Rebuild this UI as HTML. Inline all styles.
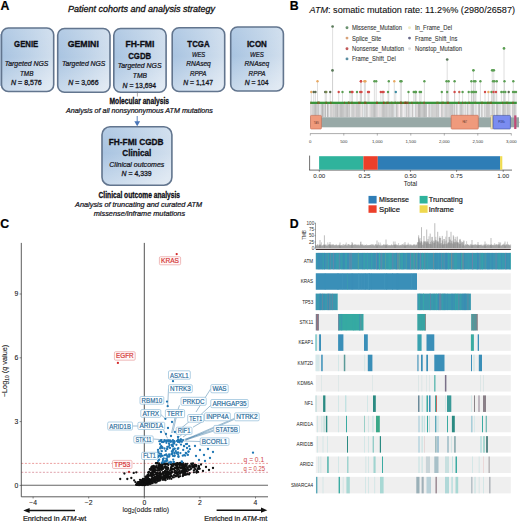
<!DOCTYPE html>
<html><head><meta charset="utf-8"><style>
html,body{margin:0;padding:0;background:#fff;}
body{width:520px;height:522px;overflow:hidden;}
svg{display:block;font-family:"Liberation Sans", sans-serif;}
</style></head><body>
<svg width="520" height="522" viewBox="0 0 520 522">
<rect width="520" height="522" fill="#fff"/>
<defs><linearGradient id="bg" x1="0" y1="0.3" x2="1" y2="0.7"><stop offset="0" stop-color="#a6c2e0"/><stop offset="0.5" stop-color="#bcd1e7"/><stop offset="1" stop-color="#d6e2ef"/></linearGradient><linearGradient id="bv" x1="0" y1="0" x2="0" y2="1"><stop offset="0" stop-color="#fff" stop-opacity="0.18"/><stop offset="0.45" stop-color="#fff" stop-opacity="0"/><stop offset="1" stop-color="#fff" stop-opacity="0.3"/></linearGradient></defs>
<text x="0.4" y="9.5" font-size="12.3" font-weight="bold" font-style="normal" text-anchor="start" fill="#000" stroke="#000" stroke-width="0.2" >A</text>
<text x="141.5" y="12.4" font-size="9.0" font-weight="normal" font-style="italic" text-anchor="middle" fill="#111" textLength="147" lengthAdjust="spacingAndGlyphs" stroke="#111" stroke-width="0.3" >Patient cohorts and analysis strategy</text>
<rect x="0" y="34" width="0.9" height="52" fill="#b4c9e4"/>
<rect x="1.5" y="28.0" width="52.2" height="63.5" rx="6.8" fill="url(#bg)"/>
<rect x="1.5" y="28.0" width="52.2" height="63.5" rx="6.8" fill="url(#bv)" stroke="#62758e" stroke-width="1.6"/>
<rect x="57.7" y="28.5" width="52.3" height="63.7" rx="6.8" fill="url(#bg)"/>
<rect x="57.7" y="28.5" width="52.3" height="63.7" rx="6.8" fill="url(#bv)" stroke="#62758e" stroke-width="1.6"/>
<rect x="113.8" y="28.5" width="52.3" height="63.8" rx="6.8" fill="url(#bg)"/>
<rect x="113.8" y="28.5" width="52.3" height="63.8" rx="6.8" fill="url(#bv)" stroke="#62758e" stroke-width="1.6"/>
<rect x="172.2" y="27.7" width="52.5" height="63.8" rx="6.8" fill="url(#bg)"/>
<rect x="172.2" y="27.7" width="52.5" height="63.8" rx="6.8" fill="url(#bv)" stroke="#62758e" stroke-width="1.6"/>
<rect x="230.7" y="27.0" width="52.7" height="64.0" rx="6.8" fill="url(#bg)"/>
<rect x="230.7" y="27.0" width="52.7" height="64.0" rx="6.8" fill="url(#bv)" stroke="#62758e" stroke-width="1.6"/>
<text x="26.2" y="47.0" font-size="8.7" font-weight="bold" font-style="normal" text-anchor="middle" fill="#0d0d14" textLength="24.2" lengthAdjust="spacingAndGlyphs" stroke="#0d0d14" stroke-width="0.3" >GENIE</text>
<text x="26.5" y="66.2" font-size="7.1" font-weight="normal" font-style="italic" text-anchor="middle" fill="#15151c" textLength="43.7" lengthAdjust="spacingAndGlyphs" stroke="#15151c" stroke-width="0.22" >Targeted NGS</text>
<text x="26.7" y="75.5" font-size="7.1" font-weight="normal" font-style="italic" text-anchor="middle" fill="#15151c" textLength="13.4" lengthAdjust="spacingAndGlyphs" stroke="#15151c" stroke-width="0.22" >TMB</text>
<text x="26.4" y="85.1" font-size="7.1" text-anchor="middle" fill="#15151c" stroke="#15151c" stroke-width="0.28" textLength="30.7" lengthAdjust="spacingAndGlyphs"><tspan font-style="italic">N</tspan> = 8,576</text>
<text x="83.3" y="47.0" font-size="8.7" font-weight="bold" font-style="normal" text-anchor="middle" fill="#0d0d14" textLength="31.2" lengthAdjust="spacingAndGlyphs" stroke="#0d0d14" stroke-width="0.3" >GEMINI</text>
<text x="83.7" y="66.3" font-size="7.1" font-weight="normal" font-style="italic" text-anchor="middle" fill="#15151c" textLength="43.4" lengthAdjust="spacingAndGlyphs" stroke="#15151c" stroke-width="0.22" >Targeted NGS</text>
<text x="83.4" y="84.8" font-size="7.1" text-anchor="middle" fill="#15151c" stroke="#15151c" stroke-width="0.28" textLength="30.3" lengthAdjust="spacingAndGlyphs"><tspan font-style="italic">N</tspan> = 3,066</text>
<text x="139.9" y="47.0" font-size="8.7" font-weight="bold" font-style="normal" text-anchor="middle" fill="#0d0d14" textLength="28.9" lengthAdjust="spacingAndGlyphs" stroke="#0d0d14" stroke-width="0.3" >FH-FMI</text>
<text x="139.7" y="58.6" font-size="8.7" font-weight="bold" font-style="normal" text-anchor="middle" fill="#0d0d14" textLength="23" lengthAdjust="spacingAndGlyphs" stroke="#0d0d14" stroke-width="0.3" >CGDB</text>
<text x="139.6" y="68.3" font-size="7.1" font-weight="normal" font-style="italic" text-anchor="middle" fill="#15151c" textLength="43.8" lengthAdjust="spacingAndGlyphs" stroke="#15151c" stroke-width="0.22" >Targeted NGS</text>
<text x="139.9" y="77.9" font-size="7.1" font-weight="normal" font-style="italic" text-anchor="middle" fill="#15151c" textLength="14.1" lengthAdjust="spacingAndGlyphs" stroke="#15151c" stroke-width="0.22" >TMB</text>
<text x="139.4" y="87.5" font-size="7.1" text-anchor="middle" fill="#15151c" stroke="#15151c" stroke-width="0.28" textLength="33.6" lengthAdjust="spacingAndGlyphs"><tspan font-style="italic">N</tspan> = 13,694</text>
<text x="198.5" y="46.6" font-size="8.7" font-weight="bold" font-style="normal" text-anchor="middle" fill="#0d0d14" textLength="22.3" lengthAdjust="spacingAndGlyphs" stroke="#0d0d14" stroke-width="0.3" >TCGA</text>
<text x="198.6" y="56.7" font-size="7.1" font-weight="normal" font-style="italic" text-anchor="middle" fill="#15151c" textLength="13.4" lengthAdjust="spacingAndGlyphs" stroke="#15151c" stroke-width="0.22" >WES</text>
<text x="198.5" y="66.3" font-size="7.1" font-weight="normal" font-style="italic" text-anchor="middle" fill="#15151c" textLength="24.6" lengthAdjust="spacingAndGlyphs" stroke="#15151c" stroke-width="0.22" >RNAseq</text>
<text x="198.2" y="75.5" font-size="7.1" font-weight="normal" font-style="italic" text-anchor="middle" fill="#15151c" textLength="16.6" lengthAdjust="spacingAndGlyphs" stroke="#15151c" stroke-width="0.22" >RPPA</text>
<text x="198.1" y="84.8" font-size="7.1" text-anchor="middle" fill="#15151c" stroke="#15151c" stroke-width="0.28" textLength="29.8" lengthAdjust="spacingAndGlyphs"><tspan font-style="italic">N</tspan> = 1,147</text>
<text x="256.9" y="46.6" font-size="8.7" font-weight="bold" font-style="normal" text-anchor="middle" fill="#0d0d14" textLength="20" lengthAdjust="spacingAndGlyphs" stroke="#0d0d14" stroke-width="0.3" >ICON</text>
<text x="256.9" y="56.7" font-size="7.1" font-weight="normal" font-style="italic" text-anchor="middle" fill="#15151c" textLength="13.8" lengthAdjust="spacingAndGlyphs" stroke="#15151c" stroke-width="0.22" >WES</text>
<text x="256.9" y="66.3" font-size="7.1" font-weight="normal" font-style="italic" text-anchor="middle" fill="#15151c" textLength="24.6" lengthAdjust="spacingAndGlyphs" stroke="#15151c" stroke-width="0.22" >RNAseq</text>
<text x="257.0" y="75.5" font-size="7.1" font-weight="normal" font-style="italic" text-anchor="middle" fill="#15151c" textLength="16.9" lengthAdjust="spacingAndGlyphs" stroke="#15151c" stroke-width="0.22" >RPPA</text>
<text x="256.6" y="84.8" font-size="7.1" text-anchor="middle" fill="#15151c" stroke="#15151c" stroke-width="0.28" textLength="23.9" lengthAdjust="spacingAndGlyphs"><tspan font-style="italic">N</tspan> = 104</text>
<line x1="137.4" y1="91.5" x2="137.4" y2="96.5" stroke="#777" stroke-width="0.6"/>
<text x="139.3" y="103.8" font-size="8.4" font-weight="bold" font-style="normal" text-anchor="middle" fill="#0d0d14" textLength="59.5" lengthAdjust="spacingAndGlyphs" stroke="#0d0d14" stroke-width="0.3" >Molecular analysis</text>
<text x="139.4" y="113.3" font-size="7.1" font-weight="normal" font-style="italic" text-anchor="middle" fill="#15151c" textLength="147" lengthAdjust="spacingAndGlyphs" stroke="#15151c" stroke-width="0.22" >Analysis of all nonsynonymous <tspan font-style="italic">ATM</tspan> mutations</text>
<line x1="137.2" y1="116" x2="137.2" y2="122" stroke="#4a76b8" stroke-width="0.9"/>
<path d="M134.3 121.3 L140.1 121.3 L137.2 126.3 Z" fill="#4a76b8"/>
<rect x="102" y="126.8" width="69.9" height="58.4" rx="8" fill="url(#bg)"/>
<rect x="102" y="126.8" width="69.9" height="58.4" rx="8" fill="url(#bv)" stroke="#62758e" stroke-width="1.6"/>
<text x="136.2" y="145.2" font-size="9" font-weight="bold" font-style="normal" text-anchor="middle" fill="#0d0d14" textLength="54.8" lengthAdjust="spacingAndGlyphs" stroke="#0d0d14" stroke-width="0.3" >FH-FMI CGDB</text>
<text x="136.8" y="156.39999999999998" font-size="9" font-weight="bold" font-style="normal" text-anchor="middle" fill="#0d0d14" textLength="29" lengthAdjust="spacingAndGlyphs" stroke="#0d0d14" stroke-width="0.3" >Clinical</text>
<text x="136.8" y="167.1" font-size="7.1" font-weight="normal" font-style="italic" text-anchor="middle" fill="#15151c" textLength="55" lengthAdjust="spacingAndGlyphs" stroke="#15151c" stroke-width="0.22" >Clinical outcomes</text>
<text x="136.6" y="176.1" font-size="7.1" text-anchor="middle" fill="#15151c" stroke="#15151c" stroke-width="0.28" textLength="30" lengthAdjust="spacingAndGlyphs"><tspan font-style="italic">N</tspan> = 4,339</text>
<text x="139.3" y="198.39999999999998" font-size="8.4" font-weight="bold" font-style="normal" text-anchor="middle" fill="#0d0d14" textLength="81.5" lengthAdjust="spacingAndGlyphs" stroke="#0d0d14" stroke-width="0.3" >Clinical outcome analysis</text>
<text x="138.6" y="207.3" font-size="7.1" font-weight="normal" font-style="italic" text-anchor="middle" fill="#15151c" textLength="127" lengthAdjust="spacingAndGlyphs" stroke="#15151c" stroke-width="0.22" >Analysis of truncating and curated <tspan font-style="italic">ATM</tspan></text>
<text x="139.4" y="215.8" font-size="7.1" font-weight="normal" font-style="italic" text-anchor="middle" fill="#15151c" textLength="91.3" lengthAdjust="spacingAndGlyphs" stroke="#15151c" stroke-width="0.22" >missense/inframe mutations</text>
<text x="289.7" y="9.7" font-size="12.3" font-weight="bold" font-style="normal" text-anchor="start" fill="#000" stroke="#000" stroke-width="0.2" >B</text>
<text x="309.5" y="12.7" font-size="8.7" fill="#111" stroke="#111" stroke-width="0.1" textLength="205.5" lengthAdjust="spacingAndGlyphs"><tspan font-style="italic">ATM</tspan>: somatic mutation rate: 11.2%% (2980/26587)</text>
<circle cx="347" cy="27.7" r="1.45" fill="#6a9270"/>
<text x="352" y="30.099999999999998" font-size="6.8" font-weight="normal" font-style="normal" text-anchor="start" fill="#333" textLength="50" lengthAdjust="spacingAndGlyphs" stroke="#333" stroke-width="0.08" >Missense_Mutation</text>
<circle cx="347" cy="38.1" r="1.45" fill="#d8a27a"/>
<text x="352" y="40.5" font-size="6.8" font-weight="normal" font-style="normal" text-anchor="start" fill="#333" textLength="29.3" lengthAdjust="spacingAndGlyphs" stroke="#333" stroke-width="0.08" >Splice_Site</text>
<circle cx="347" cy="48.7" r="1.45" fill="#c25a5a"/>
<text x="352" y="51.1" font-size="6.8" font-weight="normal" font-style="normal" text-anchor="start" fill="#333" textLength="52" lengthAdjust="spacingAndGlyphs" stroke="#333" stroke-width="0.08" >Nonsense_Mutation</text>
<circle cx="347" cy="58.9" r="1.45" fill="#5a8ea2"/>
<text x="352" y="61.3" font-size="6.8" font-weight="normal" font-style="normal" text-anchor="start" fill="#333" textLength="43.8" lengthAdjust="spacingAndGlyphs" stroke="#333" stroke-width="0.08" >Frame_Shift_Del</text>
<circle cx="409.5" cy="27.7" r="1.45" fill="#f0ecc4"/>
<text x="415" y="30.099999999999998" font-size="6.8" font-weight="normal" font-style="normal" text-anchor="start" fill="#333" textLength="37" lengthAdjust="spacingAndGlyphs" stroke="#333" stroke-width="0.08" >In_Frame_Del</text>
<circle cx="409.5" cy="38.1" r="1.45" fill="#6a6a8a"/>
<text x="415" y="40.5" font-size="6.8" font-weight="normal" font-style="normal" text-anchor="start" fill="#333" textLength="42.3" lengthAdjust="spacingAndGlyphs" stroke="#333" stroke-width="0.08" >Frame_Shift_Ins</text>
<circle cx="409.5" cy="48.7" r="1.45" fill="#e0e0e0"/>
<text x="415" y="51.1" font-size="6.8" font-weight="normal" font-style="normal" text-anchor="start" fill="#333" textLength="47" lengthAdjust="spacingAndGlyphs" stroke="#333" stroke-width="0.08" >Nonstop_Mutation</text>
<rect x="310.5" y="103.5" width="206" height="13.8" fill="#d2d2d2"/>
<line x1="377.2" y1="103.5" x2="377.2" y2="117.2" stroke="#a8a8a8" stroke-width="0.5" stroke-opacity="0.31"/>
<line x1="444.6" y1="103.5" x2="444.6" y2="117.2" stroke="#a8a8a8" stroke-width="0.5" stroke-opacity="0.28"/>
<line x1="420.9" y1="103.5" x2="420.9" y2="117.2" stroke="#a8a8a8" stroke-width="0.5" stroke-opacity="0.40"/>
<line x1="322.4" y1="103.5" x2="322.4" y2="117.2" stroke="#a8a8a8" stroke-width="0.5" stroke-opacity="0.45"/>
<line x1="318.2" y1="103.5" x2="318.2" y2="117.2" stroke="#a8a8a8" stroke-width="0.5" stroke-opacity="0.42"/>
<line x1="324.9" y1="103.5" x2="324.9" y2="117.2" stroke="#a8a8a8" stroke-width="0.5" stroke-opacity="0.29"/>
<line x1="398.0" y1="103.5" x2="398.0" y2="117.2" stroke="#a8a8a8" stroke-width="0.5" stroke-opacity="0.58"/>
<line x1="336.0" y1="103.5" x2="336.0" y2="117.2" stroke="#a8a8a8" stroke-width="0.5" stroke-opacity="0.34"/>
<line x1="439.8" y1="103.5" x2="439.8" y2="117.2" stroke="#a8a8a8" stroke-width="0.5" stroke-opacity="0.63"/>
<line x1="429.4" y1="103.5" x2="429.4" y2="117.2" stroke="#a8a8a8" stroke-width="0.5" stroke-opacity="0.41"/>
<line x1="511.6" y1="103.5" x2="511.6" y2="117.2" stroke="#a8a8a8" stroke-width="0.5" stroke-opacity="0.27"/>
<line x1="487.3" y1="103.5" x2="487.3" y2="117.2" stroke="#a8a8a8" stroke-width="0.5" stroke-opacity="0.37"/>
<line x1="340.2" y1="103.5" x2="340.2" y2="117.2" stroke="#a8a8a8" stroke-width="0.5" stroke-opacity="0.30"/>
<line x1="374.0" y1="103.5" x2="374.0" y2="117.2" stroke="#a8a8a8" stroke-width="0.5" stroke-opacity="0.58"/>
<line x1="347.7" y1="103.5" x2="347.7" y2="117.2" stroke="#a8a8a8" stroke-width="0.5" stroke-opacity="0.48"/>
<line x1="442.1" y1="103.5" x2="442.1" y2="117.2" stroke="#a8a8a8" stroke-width="0.5" stroke-opacity="0.40"/>
<line x1="423.3" y1="103.5" x2="423.3" y2="117.2" stroke="#a8a8a8" stroke-width="0.5" stroke-opacity="0.28"/>
<line x1="322.8" y1="103.5" x2="322.8" y2="117.2" stroke="#a8a8a8" stroke-width="0.5" stroke-opacity="0.33"/>
<line x1="450.7" y1="103.5" x2="450.7" y2="117.2" stroke="#a8a8a8" stroke-width="0.5" stroke-opacity="0.42"/>
<line x1="375.2" y1="103.5" x2="375.2" y2="117.2" stroke="#a8a8a8" stroke-width="0.5" stroke-opacity="0.48"/>
<line x1="403.9" y1="103.5" x2="403.9" y2="117.2" stroke="#a8a8a8" stroke-width="0.5" stroke-opacity="0.37"/>
<line x1="474.1" y1="103.5" x2="474.1" y2="117.2" stroke="#a8a8a8" stroke-width="0.5" stroke-opacity="0.53"/>
<line x1="360.8" y1="103.5" x2="360.8" y2="117.2" stroke="#a8a8a8" stroke-width="0.5" stroke-opacity="0.48"/>
<line x1="418.7" y1="103.5" x2="418.7" y2="117.2" stroke="#a8a8a8" stroke-width="0.5" stroke-opacity="0.60"/>
<line x1="460.8" y1="103.5" x2="460.8" y2="117.2" stroke="#a8a8a8" stroke-width="0.5" stroke-opacity="0.37"/>
<line x1="512.4" y1="103.5" x2="512.4" y2="117.2" stroke="#a8a8a8" stroke-width="0.5" stroke-opacity="0.30"/>
<line x1="396.6" y1="103.5" x2="396.6" y2="117.2" stroke="#a8a8a8" stroke-width="0.5" stroke-opacity="0.55"/>
<line x1="341.8" y1="103.5" x2="341.8" y2="117.2" stroke="#a8a8a8" stroke-width="0.5" stroke-opacity="0.45"/>
<line x1="318.6" y1="103.5" x2="318.6" y2="117.2" stroke="#a8a8a8" stroke-width="0.5" stroke-opacity="0.52"/>
<line x1="468.0" y1="103.5" x2="468.0" y2="117.2" stroke="#a8a8a8" stroke-width="0.5" stroke-opacity="0.48"/>
<line x1="490.8" y1="103.5" x2="490.8" y2="117.2" stroke="#a8a8a8" stroke-width="0.5" stroke-opacity="0.38"/>
<line x1="453.7" y1="103.5" x2="453.7" y2="117.2" stroke="#a8a8a8" stroke-width="0.5" stroke-opacity="0.49"/>
<line x1="430.0" y1="103.5" x2="430.0" y2="117.2" stroke="#a8a8a8" stroke-width="0.5" stroke-opacity="0.43"/>
<line x1="483.5" y1="103.5" x2="483.5" y2="117.2" stroke="#a8a8a8" stroke-width="0.5" stroke-opacity="0.63"/>
<line x1="408.2" y1="103.5" x2="408.2" y2="117.2" stroke="#a8a8a8" stroke-width="0.5" stroke-opacity="0.52"/>
<line x1="323.0" y1="103.5" x2="323.0" y2="117.2" stroke="#a8a8a8" stroke-width="0.5" stroke-opacity="0.53"/>
<line x1="443.8" y1="103.5" x2="443.8" y2="117.2" stroke="#a8a8a8" stroke-width="0.5" stroke-opacity="0.65"/>
<line x1="479.8" y1="103.5" x2="479.8" y2="117.2" stroke="#a8a8a8" stroke-width="0.5" stroke-opacity="0.36"/>
<line x1="390.0" y1="103.5" x2="390.0" y2="117.2" stroke="#a8a8a8" stroke-width="0.5" stroke-opacity="0.52"/>
<line x1="315.1" y1="103.5" x2="315.1" y2="117.2" stroke="#a8a8a8" stroke-width="0.5" stroke-opacity="0.43"/>
<line x1="345.1" y1="103.5" x2="345.1" y2="117.2" stroke="#a8a8a8" stroke-width="0.5" stroke-opacity="0.30"/>
<line x1="322.6" y1="103.5" x2="322.6" y2="117.2" stroke="#a8a8a8" stroke-width="0.5" stroke-opacity="0.56"/>
<line x1="337.1" y1="103.5" x2="337.1" y2="117.2" stroke="#a8a8a8" stroke-width="0.5" stroke-opacity="0.35"/>
<line x1="391.0" y1="103.5" x2="391.0" y2="117.2" stroke="#a8a8a8" stroke-width="0.5" stroke-opacity="0.60"/>
<line x1="327.1" y1="103.5" x2="327.1" y2="117.2" stroke="#a8a8a8" stroke-width="0.5" stroke-opacity="0.43"/>
<line x1="423.7" y1="103.5" x2="423.7" y2="117.2" stroke="#a8a8a8" stroke-width="0.5" stroke-opacity="0.60"/>
<line x1="479.3" y1="103.5" x2="479.3" y2="117.2" stroke="#a8a8a8" stroke-width="0.5" stroke-opacity="0.60"/>
<line x1="367.9" y1="103.5" x2="367.9" y2="117.2" stroke="#a8a8a8" stroke-width="0.5" stroke-opacity="0.42"/>
<line x1="384.4" y1="103.5" x2="384.4" y2="117.2" stroke="#a8a8a8" stroke-width="0.5" stroke-opacity="0.60"/>
<line x1="507.8" y1="103.5" x2="507.8" y2="117.2" stroke="#a8a8a8" stroke-width="0.5" stroke-opacity="0.31"/>
<line x1="346.8" y1="103.5" x2="346.8" y2="117.2" stroke="#a8a8a8" stroke-width="0.5" stroke-opacity="0.34"/>
<line x1="358.6" y1="103.5" x2="358.6" y2="117.2" stroke="#a8a8a8" stroke-width="0.5" stroke-opacity="0.44"/>
<line x1="431.9" y1="103.5" x2="431.9" y2="117.2" stroke="#a8a8a8" stroke-width="0.5" stroke-opacity="0.36"/>
<line x1="311.3" y1="103.5" x2="311.3" y2="117.2" stroke="#a8a8a8" stroke-width="0.5" stroke-opacity="0.42"/>
<line x1="386.6" y1="103.5" x2="386.6" y2="117.2" stroke="#a8a8a8" stroke-width="0.5" stroke-opacity="0.48"/>
<line x1="506.8" y1="103.5" x2="506.8" y2="117.2" stroke="#a8a8a8" stroke-width="0.5" stroke-opacity="0.53"/>
<line x1="416.7" y1="103.5" x2="416.7" y2="117.2" stroke="#a8a8a8" stroke-width="0.5" stroke-opacity="0.50"/>
<line x1="449.8" y1="103.5" x2="449.8" y2="117.2" stroke="#a8a8a8" stroke-width="0.5" stroke-opacity="0.27"/>
<line x1="495.8" y1="103.5" x2="495.8" y2="117.2" stroke="#a8a8a8" stroke-width="0.5" stroke-opacity="0.56"/>
<line x1="490.6" y1="103.5" x2="490.6" y2="117.2" stroke="#a8a8a8" stroke-width="0.5" stroke-opacity="0.57"/>
<line x1="391.3" y1="103.5" x2="391.3" y2="117.2" stroke="#a8a8a8" stroke-width="0.5" stroke-opacity="0.41"/>
<line x1="331.8" y1="103.5" x2="331.8" y2="117.2" stroke="#a8a8a8" stroke-width="0.5" stroke-opacity="0.50"/>
<line x1="323.3" y1="103.5" x2="323.3" y2="117.2" stroke="#a8a8a8" stroke-width="0.5" stroke-opacity="0.28"/>
<line x1="353.5" y1="103.5" x2="353.5" y2="117.2" stroke="#a8a8a8" stroke-width="0.5" stroke-opacity="0.31"/>
<line x1="380.6" y1="103.5" x2="380.6" y2="117.2" stroke="#a8a8a8" stroke-width="0.5" stroke-opacity="0.27"/>
<line x1="310.5" y1="103.5" x2="310.5" y2="117.2" stroke="#a8a8a8" stroke-width="0.5" stroke-opacity="0.31"/>
<line x1="331.4" y1="103.5" x2="331.4" y2="117.2" stroke="#a8a8a8" stroke-width="0.5" stroke-opacity="0.40"/>
<line x1="315.8" y1="103.5" x2="315.8" y2="117.2" stroke="#a8a8a8" stroke-width="0.5" stroke-opacity="0.60"/>
<line x1="437.0" y1="103.5" x2="437.0" y2="117.2" stroke="#a8a8a8" stroke-width="0.5" stroke-opacity="0.31"/>
<line x1="362.5" y1="103.5" x2="362.5" y2="117.2" stroke="#a8a8a8" stroke-width="0.5" stroke-opacity="0.39"/>
<line x1="385.5" y1="103.5" x2="385.5" y2="117.2" stroke="#a8a8a8" stroke-width="0.5" stroke-opacity="0.30"/>
<line x1="485.4" y1="103.5" x2="485.4" y2="117.2" stroke="#a8a8a8" stroke-width="0.5" stroke-opacity="0.65"/>
<line x1="406.5" y1="103.5" x2="406.5" y2="117.2" stroke="#a8a8a8" stroke-width="0.5" stroke-opacity="0.44"/>
<line x1="328.2" y1="103.5" x2="328.2" y2="117.2" stroke="#a8a8a8" stroke-width="0.5" stroke-opacity="0.29"/>
<line x1="381.1" y1="103.5" x2="381.1" y2="117.2" stroke="#a8a8a8" stroke-width="0.5" stroke-opacity="0.36"/>
<line x1="481.2" y1="103.5" x2="481.2" y2="117.2" stroke="#a8a8a8" stroke-width="0.5" stroke-opacity="0.31"/>
<line x1="315.3" y1="103.5" x2="315.3" y2="117.2" stroke="#a8a8a8" stroke-width="0.5" stroke-opacity="0.63"/>
<line x1="419.3" y1="103.5" x2="419.3" y2="117.2" stroke="#a8a8a8" stroke-width="0.5" stroke-opacity="0.31"/>
<line x1="422.4" y1="103.5" x2="422.4" y2="117.2" stroke="#a8a8a8" stroke-width="0.5" stroke-opacity="0.26"/>
<line x1="419.3" y1="103.5" x2="419.3" y2="117.2" stroke="#a8a8a8" stroke-width="0.5" stroke-opacity="0.64"/>
<line x1="488.3" y1="103.5" x2="488.3" y2="117.2" stroke="#a8a8a8" stroke-width="0.5" stroke-opacity="0.53"/>
<line x1="364.3" y1="103.5" x2="364.3" y2="117.2" stroke="#a8a8a8" stroke-width="0.5" stroke-opacity="0.40"/>
<line x1="344.9" y1="103.5" x2="344.9" y2="117.2" stroke="#a8a8a8" stroke-width="0.5" stroke-opacity="0.56"/>
<line x1="420.2" y1="103.5" x2="420.2" y2="117.2" stroke="#a8a8a8" stroke-width="0.5" stroke-opacity="0.56"/>
<line x1="378.4" y1="103.5" x2="378.4" y2="117.2" stroke="#a8a8a8" stroke-width="0.5" stroke-opacity="0.34"/>
<line x1="477.7" y1="103.5" x2="477.7" y2="117.2" stroke="#a8a8a8" stroke-width="0.5" stroke-opacity="0.64"/>
<line x1="486.1" y1="103.5" x2="486.1" y2="117.2" stroke="#a8a8a8" stroke-width="0.5" stroke-opacity="0.57"/>
<line x1="479.1" y1="103.5" x2="479.1" y2="117.2" stroke="#a8a8a8" stroke-width="0.5" stroke-opacity="0.55"/>
<line x1="357.2" y1="103.5" x2="357.2" y2="117.2" stroke="#a8a8a8" stroke-width="0.5" stroke-opacity="0.46"/>
<line x1="383.7" y1="103.5" x2="383.7" y2="117.2" stroke="#a8a8a8" stroke-width="0.5" stroke-opacity="0.26"/>
<line x1="316.3" y1="103.5" x2="316.3" y2="117.2" stroke="#a8a8a8" stroke-width="0.5" stroke-opacity="0.36"/>
<line x1="363.9" y1="103.5" x2="363.9" y2="117.2" stroke="#a8a8a8" stroke-width="0.5" stroke-opacity="0.53"/>
<line x1="507.5" y1="103.5" x2="507.5" y2="117.2" stroke="#a8a8a8" stroke-width="0.5" stroke-opacity="0.43"/>
<line x1="503.5" y1="103.5" x2="503.5" y2="117.2" stroke="#a8a8a8" stroke-width="0.5" stroke-opacity="0.65"/>
<line x1="507.2" y1="103.5" x2="507.2" y2="117.2" stroke="#a8a8a8" stroke-width="0.5" stroke-opacity="0.40"/>
<line x1="355.9" y1="103.5" x2="355.9" y2="117.2" stroke="#a8a8a8" stroke-width="0.5" stroke-opacity="0.34"/>
<line x1="351.0" y1="103.5" x2="351.0" y2="117.2" stroke="#a8a8a8" stroke-width="0.5" stroke-opacity="0.33"/>
<line x1="439.1" y1="103.5" x2="439.1" y2="117.2" stroke="#a8a8a8" stroke-width="0.5" stroke-opacity="0.61"/>
<line x1="483.6" y1="103.5" x2="483.6" y2="117.2" stroke="#a8a8a8" stroke-width="0.5" stroke-opacity="0.44"/>
<line x1="445.0" y1="103.5" x2="445.0" y2="117.2" stroke="#a8a8a8" stroke-width="0.5" stroke-opacity="0.57"/>
<line x1="328.0" y1="103.5" x2="328.0" y2="117.2" stroke="#a8a8a8" stroke-width="0.5" stroke-opacity="0.51"/>
<line x1="497.9" y1="103.5" x2="497.9" y2="117.2" stroke="#a8a8a8" stroke-width="0.5" stroke-opacity="0.56"/>
<line x1="465.0" y1="103.5" x2="465.0" y2="117.2" stroke="#a8a8a8" stroke-width="0.5" stroke-opacity="0.44"/>
<line x1="347.3" y1="103.5" x2="347.3" y2="117.2" stroke="#a8a8a8" stroke-width="0.5" stroke-opacity="0.57"/>
<line x1="379.0" y1="103.5" x2="379.0" y2="117.2" stroke="#a8a8a8" stroke-width="0.5" stroke-opacity="0.57"/>
<line x1="510.7" y1="103.5" x2="510.7" y2="117.2" stroke="#a8a8a8" stroke-width="0.5" stroke-opacity="0.41"/>
<line x1="393.2" y1="103.5" x2="393.2" y2="117.2" stroke="#a8a8a8" stroke-width="0.5" stroke-opacity="0.63"/>
<line x1="459.8" y1="103.5" x2="459.8" y2="117.2" stroke="#a8a8a8" stroke-width="0.5" stroke-opacity="0.32"/>
<line x1="336.7" y1="103.5" x2="336.7" y2="117.2" stroke="#a8a8a8" stroke-width="0.5" stroke-opacity="0.31"/>
<line x1="496.9" y1="103.5" x2="496.9" y2="117.2" stroke="#a8a8a8" stroke-width="0.5" stroke-opacity="0.57"/>
<line x1="340.6" y1="103.5" x2="340.6" y2="117.2" stroke="#a8a8a8" stroke-width="0.5" stroke-opacity="0.58"/>
<line x1="512.4" y1="103.5" x2="512.4" y2="117.2" stroke="#a8a8a8" stroke-width="0.5" stroke-opacity="0.51"/>
<line x1="382.7" y1="103.5" x2="382.7" y2="117.2" stroke="#a8a8a8" stroke-width="0.5" stroke-opacity="0.47"/>
<line x1="337.5" y1="103.5" x2="337.5" y2="117.2" stroke="#a8a8a8" stroke-width="0.5" stroke-opacity="0.26"/>
<line x1="510.5" y1="103.5" x2="510.5" y2="117.2" stroke="#a8a8a8" stroke-width="0.5" stroke-opacity="0.51"/>
<line x1="419.0" y1="103.5" x2="419.0" y2="117.2" stroke="#a8a8a8" stroke-width="0.5" stroke-opacity="0.62"/>
<line x1="399.9" y1="103.5" x2="399.9" y2="117.2" stroke="#a8a8a8" stroke-width="0.5" stroke-opacity="0.60"/>
<line x1="480.7" y1="103.5" x2="480.7" y2="117.2" stroke="#a8a8a8" stroke-width="0.5" stroke-opacity="0.33"/>
<line x1="362.4" y1="103.5" x2="362.4" y2="117.2" stroke="#a8a8a8" stroke-width="0.5" stroke-opacity="0.37"/>
<line x1="360.1" y1="103.5" x2="360.1" y2="117.2" stroke="#a8a8a8" stroke-width="0.5" stroke-opacity="0.48"/>
<line x1="363.9" y1="103.5" x2="363.9" y2="117.2" stroke="#a8a8a8" stroke-width="0.5" stroke-opacity="0.42"/>
<line x1="337.5" y1="103.5" x2="337.5" y2="117.2" stroke="#a8a8a8" stroke-width="0.5" stroke-opacity="0.61"/>
<line x1="383.4" y1="103.5" x2="383.4" y2="117.2" stroke="#a8a8a8" stroke-width="0.5" stroke-opacity="0.43"/>
<line x1="430.7" y1="103.5" x2="430.7" y2="117.2" stroke="#a8a8a8" stroke-width="0.5" stroke-opacity="0.61"/>
<line x1="397.1" y1="103.5" x2="397.1" y2="117.2" stroke="#a8a8a8" stroke-width="0.5" stroke-opacity="0.62"/>
<line x1="413.8" y1="103.5" x2="413.8" y2="117.2" stroke="#a8a8a8" stroke-width="0.5" stroke-opacity="0.46"/>
<line x1="418.3" y1="103.5" x2="418.3" y2="117.2" stroke="#a8a8a8" stroke-width="0.5" stroke-opacity="0.26"/>
<line x1="401.2" y1="103.5" x2="401.2" y2="117.2" stroke="#a8a8a8" stroke-width="0.5" stroke-opacity="0.32"/>
<line x1="311.3" y1="103.5" x2="311.3" y2="117.2" stroke="#a8a8a8" stroke-width="0.5" stroke-opacity="0.57"/>
<line x1="346.0" y1="103.5" x2="346.0" y2="117.2" stroke="#a8a8a8" stroke-width="0.5" stroke-opacity="0.44"/>
<line x1="459.9" y1="103.5" x2="459.9" y2="117.2" stroke="#a8a8a8" stroke-width="0.5" stroke-opacity="0.47"/>
<line x1="377.7" y1="103.5" x2="377.7" y2="117.2" stroke="#a8a8a8" stroke-width="0.5" stroke-opacity="0.46"/>
<line x1="424.9" y1="103.5" x2="424.9" y2="117.2" stroke="#a8a8a8" stroke-width="0.5" stroke-opacity="0.56"/>
<line x1="332.4" y1="103.5" x2="332.4" y2="117.2" stroke="#a8a8a8" stroke-width="0.5" stroke-opacity="0.47"/>
<line x1="361.7" y1="103.5" x2="361.7" y2="117.2" stroke="#a8a8a8" stroke-width="0.5" stroke-opacity="0.36"/>
<line x1="469.6" y1="103.5" x2="469.6" y2="117.2" stroke="#a8a8a8" stroke-width="0.5" stroke-opacity="0.45"/>
<line x1="426.2" y1="103.5" x2="426.2" y2="117.2" stroke="#a8a8a8" stroke-width="0.5" stroke-opacity="0.55"/>
<line x1="498.5" y1="103.5" x2="498.5" y2="117.2" stroke="#a8a8a8" stroke-width="0.5" stroke-opacity="0.43"/>
<line x1="436.7" y1="103.5" x2="436.7" y2="117.2" stroke="#a8a8a8" stroke-width="0.5" stroke-opacity="0.45"/>
<line x1="416.0" y1="103.5" x2="416.0" y2="117.2" stroke="#a8a8a8" stroke-width="0.5" stroke-opacity="0.53"/>
<line x1="403.7" y1="103.5" x2="403.7" y2="117.2" stroke="#a8a8a8" stroke-width="0.5" stroke-opacity="0.46"/>
<line x1="409.0" y1="103.5" x2="409.0" y2="117.2" stroke="#a8a8a8" stroke-width="0.5" stroke-opacity="0.63"/>
<line x1="454.5" y1="103.5" x2="454.5" y2="117.2" stroke="#a8a8a8" stroke-width="0.5" stroke-opacity="0.60"/>
<line x1="504.6" y1="103.5" x2="504.6" y2="117.2" stroke="#a8a8a8" stroke-width="0.5" stroke-opacity="0.35"/>
<line x1="425.8" y1="103.5" x2="425.8" y2="117.2" stroke="#a8a8a8" stroke-width="0.5" stroke-opacity="0.63"/>
<line x1="483.5" y1="103.5" x2="483.5" y2="117.2" stroke="#a8a8a8" stroke-width="0.5" stroke-opacity="0.30"/>
<line x1="335.6" y1="103.5" x2="335.6" y2="117.2" stroke="#a8a8a8" stroke-width="0.5" stroke-opacity="0.43"/>
<line x1="325.4" y1="103.5" x2="325.4" y2="117.2" stroke="#a8a8a8" stroke-width="0.5" stroke-opacity="0.35"/>
<line x1="325.6" y1="103.5" x2="325.6" y2="117.2" stroke="#a8a8a8" stroke-width="0.5" stroke-opacity="0.52"/>
<line x1="472.0" y1="103.5" x2="472.0" y2="117.2" stroke="#a8a8a8" stroke-width="0.5" stroke-opacity="0.61"/>
<line x1="342.3" y1="103.5" x2="342.3" y2="117.2" stroke="#a8a8a8" stroke-width="0.5" stroke-opacity="0.54"/>
<line x1="446.5" y1="103.5" x2="446.5" y2="117.2" stroke="#a8a8a8" stroke-width="0.5" stroke-opacity="0.31"/>
<line x1="492.4" y1="103.5" x2="492.4" y2="117.2" stroke="#a8a8a8" stroke-width="0.5" stroke-opacity="0.64"/>
<line x1="355.7" y1="103.5" x2="355.7" y2="117.2" stroke="#a8a8a8" stroke-width="0.5" stroke-opacity="0.63"/>
<line x1="392.5" y1="103.5" x2="392.5" y2="117.2" stroke="#a8a8a8" stroke-width="0.5" stroke-opacity="0.44"/>
<line x1="514.4" y1="103.5" x2="514.4" y2="117.2" stroke="#a8a8a8" stroke-width="0.5" stroke-opacity="0.58"/>
<line x1="343.8" y1="103.5" x2="343.8" y2="117.2" stroke="#a8a8a8" stroke-width="0.5" stroke-opacity="0.42"/>
<line x1="416.7" y1="103.5" x2="416.7" y2="117.2" stroke="#a8a8a8" stroke-width="0.5" stroke-opacity="0.39"/>
<line x1="350.8" y1="103.5" x2="350.8" y2="117.2" stroke="#a8a8a8" stroke-width="0.5" stroke-opacity="0.38"/>
<line x1="459.3" y1="103.5" x2="459.3" y2="117.2" stroke="#a8a8a8" stroke-width="0.5" stroke-opacity="0.26"/>
<line x1="424.6" y1="103.5" x2="424.6" y2="117.2" stroke="#a8a8a8" stroke-width="0.5" stroke-opacity="0.43"/>
<line x1="314.2" y1="103.5" x2="314.2" y2="117.2" stroke="#a8a8a8" stroke-width="0.5" stroke-opacity="0.38"/>
<line x1="439.0" y1="103.5" x2="439.0" y2="117.2" stroke="#a8a8a8" stroke-width="0.5" stroke-opacity="0.45"/>
<line x1="323.7" y1="103.5" x2="323.7" y2="117.2" stroke="#a8a8a8" stroke-width="0.5" stroke-opacity="0.64"/>
<line x1="472.9" y1="103.5" x2="472.9" y2="117.2" stroke="#a8a8a8" stroke-width="0.5" stroke-opacity="0.64"/>
<line x1="332.1" y1="103.5" x2="332.1" y2="117.2" stroke="#a8a8a8" stroke-width="0.5" stroke-opacity="0.36"/>
<line x1="318.7" y1="103.5" x2="318.7" y2="117.2" stroke="#a8a8a8" stroke-width="0.5" stroke-opacity="0.56"/>
<line x1="366.2" y1="103.5" x2="366.2" y2="117.2" stroke="#a8a8a8" stroke-width="0.5" stroke-opacity="0.30"/>
<line x1="397.5" y1="103.5" x2="397.5" y2="117.2" stroke="#a8a8a8" stroke-width="0.5" stroke-opacity="0.61"/>
<line x1="479.2" y1="103.5" x2="479.2" y2="117.2" stroke="#a8a8a8" stroke-width="0.5" stroke-opacity="0.35"/>
<line x1="341.3" y1="103.5" x2="341.3" y2="117.2" stroke="#a8a8a8" stroke-width="0.5" stroke-opacity="0.62"/>
<line x1="428.0" y1="103.5" x2="428.0" y2="117.2" stroke="#a8a8a8" stroke-width="0.5" stroke-opacity="0.53"/>
<line x1="328.9" y1="103.5" x2="328.9" y2="117.2" stroke="#a8a8a8" stroke-width="0.5" stroke-opacity="0.27"/>
<line x1="452.3" y1="103.5" x2="452.3" y2="117.2" stroke="#a8a8a8" stroke-width="0.5" stroke-opacity="0.42"/>
<line x1="325.4" y1="103.5" x2="325.4" y2="117.2" stroke="#a8a8a8" stroke-width="0.5" stroke-opacity="0.63"/>
<line x1="441.2" y1="103.5" x2="441.2" y2="117.2" stroke="#a8a8a8" stroke-width="0.5" stroke-opacity="0.57"/>
<line x1="327.8" y1="103.5" x2="327.8" y2="117.2" stroke="#a8a8a8" stroke-width="0.5" stroke-opacity="0.59"/>
<line x1="324.2" y1="103.5" x2="324.2" y2="117.2" stroke="#a8a8a8" stroke-width="0.5" stroke-opacity="0.60"/>
<line x1="404.0" y1="103.5" x2="404.0" y2="117.2" stroke="#a8a8a8" stroke-width="0.5" stroke-opacity="0.39"/>
<line x1="424.4" y1="103.5" x2="424.4" y2="117.2" stroke="#a8a8a8" stroke-width="0.5" stroke-opacity="0.62"/>
<line x1="365.7" y1="103.5" x2="365.7" y2="117.2" stroke="#a8a8a8" stroke-width="0.5" stroke-opacity="0.30"/>
<line x1="419.0" y1="103.5" x2="419.0" y2="117.2" stroke="#a8a8a8" stroke-width="0.5" stroke-opacity="0.35"/>
<line x1="333.0" y1="103.5" x2="333.0" y2="117.2" stroke="#a8a8a8" stroke-width="0.5" stroke-opacity="0.31"/>
<line x1="320.9" y1="103.5" x2="320.9" y2="117.2" stroke="#a8a8a8" stroke-width="0.5" stroke-opacity="0.33"/>
<line x1="374.8" y1="103.5" x2="374.8" y2="117.2" stroke="#a8a8a8" stroke-width="0.5" stroke-opacity="0.37"/>
<line x1="467.0" y1="103.5" x2="467.0" y2="117.2" stroke="#a8a8a8" stroke-width="0.5" stroke-opacity="0.37"/>
<line x1="413.5" y1="103.5" x2="413.5" y2="117.2" stroke="#a8a8a8" stroke-width="0.5" stroke-opacity="0.32"/>
<line x1="382.0" y1="103.5" x2="382.0" y2="117.2" stroke="#a8a8a8" stroke-width="0.5" stroke-opacity="0.26"/>
<line x1="362.1" y1="103.5" x2="362.1" y2="117.2" stroke="#a8a8a8" stroke-width="0.5" stroke-opacity="0.26"/>
<line x1="461.5" y1="103.5" x2="461.5" y2="117.2" stroke="#a8a8a8" stroke-width="0.5" stroke-opacity="0.47"/>
<line x1="349.5" y1="103.5" x2="349.5" y2="117.2" stroke="#a8a8a8" stroke-width="0.5" stroke-opacity="0.44"/>
<line x1="503.0" y1="103.5" x2="503.0" y2="117.2" stroke="#a8a8a8" stroke-width="0.5" stroke-opacity="0.29"/>
<line x1="479.2" y1="103.5" x2="479.2" y2="117.2" stroke="#a8a8a8" stroke-width="0.5" stroke-opacity="0.42"/>
<line x1="412.5" y1="103.5" x2="412.5" y2="117.2" stroke="#a8a8a8" stroke-width="0.5" stroke-opacity="0.58"/>
<line x1="391.5" y1="103.5" x2="391.5" y2="117.2" stroke="#a8a8a8" stroke-width="0.5" stroke-opacity="0.45"/>
<line x1="452.2" y1="103.5" x2="452.2" y2="117.2" stroke="#a8a8a8" stroke-width="0.5" stroke-opacity="0.64"/>
<line x1="381.1" y1="103.5" x2="381.1" y2="117.2" stroke="#a8a8a8" stroke-width="0.5" stroke-opacity="0.58"/>
<line x1="456.1" y1="103.5" x2="456.1" y2="117.2" stroke="#a8a8a8" stroke-width="0.5" stroke-opacity="0.50"/>
<line x1="393.9" y1="103.5" x2="393.9" y2="117.2" stroke="#a8a8a8" stroke-width="0.5" stroke-opacity="0.39"/>
<line x1="321.7" y1="103.5" x2="321.7" y2="117.2" stroke="#a8a8a8" stroke-width="0.5" stroke-opacity="0.30"/>
<line x1="325.1" y1="103.5" x2="325.1" y2="117.2" stroke="#a8a8a8" stroke-width="0.5" stroke-opacity="0.55"/>
<line x1="363.2" y1="103.5" x2="363.2" y2="117.2" stroke="#a8a8a8" stroke-width="0.5" stroke-opacity="0.32"/>
<line x1="327.9" y1="103.5" x2="327.9" y2="117.2" stroke="#a8a8a8" stroke-width="0.5" stroke-opacity="0.59"/>
<line x1="489.8" y1="103.5" x2="489.8" y2="117.2" stroke="#a8a8a8" stroke-width="0.5" stroke-opacity="0.52"/>
<line x1="368.6" y1="103.5" x2="368.6" y2="117.2" stroke="#a8a8a8" stroke-width="0.5" stroke-opacity="0.35"/>
<line x1="370.9" y1="103.5" x2="370.9" y2="117.2" stroke="#a8a8a8" stroke-width="0.5" stroke-opacity="0.43"/>
<line x1="343.0" y1="103.5" x2="343.0" y2="117.2" stroke="#a8a8a8" stroke-width="0.5" stroke-opacity="0.43"/>
<line x1="364.7" y1="103.5" x2="364.7" y2="117.2" stroke="#a8a8a8" stroke-width="0.5" stroke-opacity="0.63"/>
<line x1="510.9" y1="103.5" x2="510.9" y2="117.2" stroke="#a8a8a8" stroke-width="0.5" stroke-opacity="0.47"/>
<line x1="360.9" y1="103.5" x2="360.9" y2="117.2" stroke="#a8a8a8" stroke-width="0.5" stroke-opacity="0.64"/>
<line x1="374.3" y1="103.5" x2="374.3" y2="117.2" stroke="#a8a8a8" stroke-width="0.5" stroke-opacity="0.39"/>
<line x1="310.7" y1="103.5" x2="310.7" y2="117.2" stroke="#a8a8a8" stroke-width="0.5" stroke-opacity="0.40"/>
<line x1="408.3" y1="103.5" x2="408.3" y2="117.2" stroke="#a8a8a8" stroke-width="0.5" stroke-opacity="0.45"/>
<line x1="351.9" y1="103.5" x2="351.9" y2="117.2" stroke="#a8a8a8" stroke-width="0.5" stroke-opacity="0.45"/>
<line x1="311.5" y1="103.5" x2="311.5" y2="117.2" stroke="#a8a8a8" stroke-width="0.5" stroke-opacity="0.36"/>
<line x1="329.0" y1="103.5" x2="329.0" y2="117.2" stroke="#a8a8a8" stroke-width="0.5" stroke-opacity="0.41"/>
<line x1="319.1" y1="103.5" x2="319.1" y2="117.2" stroke="#a8a8a8" stroke-width="0.5" stroke-opacity="0.26"/>
<line x1="373.2" y1="103.5" x2="373.2" y2="117.2" stroke="#a8a8a8" stroke-width="0.5" stroke-opacity="0.34"/>
<line x1="431.1" y1="103.5" x2="431.1" y2="117.2" stroke="#a8a8a8" stroke-width="0.5" stroke-opacity="0.46"/>
<line x1="465.1" y1="103.5" x2="465.1" y2="117.2" stroke="#a8a8a8" stroke-width="0.5" stroke-opacity="0.51"/>
<line x1="458.0" y1="103.5" x2="458.0" y2="117.2" stroke="#eef2f4" stroke-width="0.67"/>
<line x1="377.7" y1="103.5" x2="377.7" y2="117.2" stroke="#f6eef0" stroke-width="0.50"/>
<line x1="459.7" y1="103.5" x2="459.7" y2="117.2" stroke="#eef2f4" stroke-width="0.50"/>
<line x1="480.4" y1="103.5" x2="480.4" y2="117.2" stroke="#eef2f4" stroke-width="1.02"/>
<line x1="439.7" y1="103.5" x2="439.7" y2="117.2" stroke="#eef2f4" stroke-width="0.89"/>
<line x1="414.6" y1="103.5" x2="414.6" y2="117.2" stroke="#eef2f4" stroke-width="0.93"/>
<line x1="427.6" y1="103.5" x2="427.6" y2="117.2" stroke="#f4f4f4" stroke-width="0.98"/>
<line x1="430.8" y1="103.5" x2="430.8" y2="117.2" stroke="#eef2f4" stroke-width="0.88"/>
<line x1="453.3" y1="103.5" x2="453.3" y2="117.2" stroke="#f4f4f4" stroke-width="0.46"/>
<line x1="319.1" y1="103.5" x2="319.1" y2="117.2" stroke="#eef2f4" stroke-width="0.65"/>
<line x1="332.1" y1="103.5" x2="332.1" y2="117.2" stroke="#f6eef0" stroke-width="0.79"/>
<line x1="439.8" y1="103.5" x2="439.8" y2="117.2" stroke="#eef2f4" stroke-width="0.77"/>
<line x1="360.9" y1="103.5" x2="360.9" y2="117.2" stroke="#f6eef0" stroke-width="0.40"/>
<line x1="474.8" y1="103.5" x2="474.8" y2="117.2" stroke="#eef2f4" stroke-width="1.05"/>
<line x1="495.5" y1="103.5" x2="495.5" y2="117.2" stroke="#f4f4f4" stroke-width="0.86"/>
<line x1="324.1" y1="103.5" x2="324.1" y2="117.2" stroke="#eef2f4" stroke-width="0.73"/>
<line x1="477.2" y1="103.5" x2="477.2" y2="117.2" stroke="#f6eef0" stroke-width="0.56"/>
<line x1="466.3" y1="103.5" x2="466.3" y2="117.2" stroke="#f4f4f4" stroke-width="0.92"/>
<line x1="511.5" y1="103.5" x2="511.5" y2="117.2" stroke="#f6eef0" stroke-width="0.99"/>
<line x1="326.3" y1="103.5" x2="326.3" y2="117.2" stroke="#eef2f4" stroke-width="0.60"/>
<line x1="320.1" y1="103.5" x2="320.1" y2="117.2" stroke="#eef2f4" stroke-width="0.85"/>
<line x1="326.5" y1="103.5" x2="326.5" y2="117.2" stroke="#f4f4f4" stroke-width="0.63"/>
<line x1="444.7" y1="103.5" x2="444.7" y2="117.2" stroke="#eef2f4" stroke-width="0.61"/>
<line x1="427.5" y1="103.5" x2="427.5" y2="117.2" stroke="#f4f4f4" stroke-width="0.74"/>
<line x1="410.6" y1="103.5" x2="410.6" y2="117.2" stroke="#eef2f4" stroke-width="0.47"/>
<line x1="355.3" y1="103.5" x2="355.3" y2="117.2" stroke="#f6eef0" stroke-width="0.60"/>
<line x1="416.9" y1="103.5" x2="416.9" y2="117.2" stroke="#f6eef0" stroke-width="0.73"/>
<line x1="468.5" y1="103.5" x2="468.5" y2="117.2" stroke="#eef2f4" stroke-width="0.54"/>
<line x1="512.0" y1="103.5" x2="512.0" y2="117.2" stroke="#f6eef0" stroke-width="0.41"/>
<line x1="405.0" y1="103.5" x2="405.0" y2="117.2" stroke="#eef2f4" stroke-width="1.08"/>
<line x1="403.1" y1="103.5" x2="403.1" y2="117.2" stroke="#f6eef0" stroke-width="0.67"/>
<line x1="499.3" y1="103.5" x2="499.3" y2="117.2" stroke="#f4f4f4" stroke-width="0.45"/>
<line x1="329.1" y1="103.5" x2="329.1" y2="117.2" stroke="#eef2f4" stroke-width="0.77"/>
<line x1="506.8" y1="103.5" x2="506.8" y2="117.2" stroke="#f4f4f4" stroke-width="0.82"/>
<line x1="440.6" y1="103.5" x2="440.6" y2="117.2" stroke="#f6eef0" stroke-width="1.02"/>
<line x1="455.4" y1="103.5" x2="455.4" y2="117.2" stroke="#f4f4f4" stroke-width="0.75"/>
<line x1="491.0" y1="103.5" x2="491.0" y2="117.2" stroke="#f6eef0" stroke-width="0.42"/>
<line x1="311.2" y1="103.5" x2="311.2" y2="117.2" stroke="#f6eef0" stroke-width="0.88"/>
<line x1="394.0" y1="103.5" x2="394.0" y2="117.2" stroke="#eef2f4" stroke-width="0.50"/>
<line x1="381.4" y1="103.5" x2="381.4" y2="117.2" stroke="#f6eef0" stroke-width="0.48"/>
<line x1="378.8" y1="103.5" x2="378.8" y2="117.2" stroke="#f6eef0" stroke-width="0.93"/>
<line x1="483.4" y1="103.5" x2="483.4" y2="117.2" stroke="#f4f4f4" stroke-width="1.06"/>
<line x1="350.8" y1="103.5" x2="350.8" y2="117.2" stroke="#f4f4f4" stroke-width="1.03"/>
<line x1="370.2" y1="103.5" x2="370.2" y2="117.2" stroke="#f6eef0" stroke-width="0.45"/>
<line x1="390.9" y1="103.5" x2="390.9" y2="117.2" stroke="#eef2f4" stroke-width="0.45"/>
<line x1="501.1" y1="103.5" x2="501.1" y2="117.2" stroke="#f6eef0" stroke-width="1.00"/>
<line x1="368.3" y1="103.5" x2="368.3" y2="117.2" stroke="#f4f4f4" stroke-width="0.98"/>
<line x1="369.3" y1="103.5" x2="369.3" y2="117.2" stroke="#f4f4f4" stroke-width="0.57"/>
<line x1="365.2" y1="103.5" x2="365.2" y2="117.2" stroke="#eef2f4" stroke-width="0.62"/>
<line x1="469.8" y1="103.5" x2="469.8" y2="117.2" stroke="#f6eef0" stroke-width="1.02"/>
<line x1="477.8" y1="103.5" x2="477.8" y2="117.2" stroke="#eef2f4" stroke-width="0.68"/>
<line x1="490.9" y1="103.5" x2="490.9" y2="117.2" stroke="#eef2f4" stroke-width="0.78"/>
<line x1="458.7" y1="103.5" x2="458.7" y2="117.2" stroke="#f4f4f4" stroke-width="1.05"/>
<line x1="395.1" y1="103.5" x2="395.1" y2="117.2" stroke="#eef2f4" stroke-width="0.93"/>
<line x1="443.3" y1="103.5" x2="443.3" y2="117.2" stroke="#f6eef0" stroke-width="0.74"/>
<line x1="498.4" y1="103.5" x2="498.4" y2="117.2" stroke="#eef2f4" stroke-width="0.49"/>
<line x1="407.8" y1="103.5" x2="407.8" y2="117.2" stroke="#f6eef0" stroke-width="0.60"/>
<line x1="363.2" y1="103.5" x2="363.2" y2="117.2" stroke="#eef2f4" stroke-width="1.08"/>
<line x1="364.1" y1="103.5" x2="364.1" y2="117.2" stroke="#eef2f4" stroke-width="0.57"/>
<line x1="410.0" y1="103.5" x2="410.0" y2="117.2" stroke="#eef2f4" stroke-width="0.68"/>
<line x1="345.0" y1="103.5" x2="345.0" y2="117.2" stroke="#f4f4f4" stroke-width="0.45"/>
<line x1="413.6" y1="103.5" x2="413.6" y2="117.2" stroke="#f6eef0" stroke-width="0.79"/>
<line x1="403.8" y1="103.5" x2="403.8" y2="117.2" stroke="#f6eef0" stroke-width="1.10"/>
<line x1="403.2" y1="103.5" x2="403.2" y2="117.2" stroke="#f4f4f4" stroke-width="0.78"/>
<line x1="360.8" y1="103.5" x2="360.8" y2="117.2" stroke="#f4f4f4" stroke-width="0.64"/>
<line x1="329.3" y1="103.5" x2="329.3" y2="117.2" stroke="#f4f4f4" stroke-width="0.66"/>
<line x1="477.2" y1="103.5" x2="477.2" y2="117.2" stroke="#f4f4f4" stroke-width="1.02"/>
<line x1="464.9" y1="103.5" x2="464.9" y2="117.2" stroke="#f6eef0" stroke-width="0.67"/>
<line x1="464.1" y1="103.5" x2="464.1" y2="117.2" stroke="#f4f4f4" stroke-width="0.66"/>
<line x1="380.2" y1="103.5" x2="380.2" y2="117.2" stroke="#f4f4f4" stroke-width="0.75"/>
<line x1="428.8" y1="103.5" x2="428.8" y2="117.2" stroke="#f6eef0" stroke-width="0.49"/>
<line x1="414.2" y1="103.5" x2="414.2" y2="117.2" stroke="#eef2f4" stroke-width="0.95"/>
<line x1="485.3" y1="103.5" x2="485.3" y2="117.2" stroke="#f4f4f4" stroke-width="0.59"/>
<line x1="361.7" y1="103.5" x2="361.7" y2="117.2" stroke="#f6eef0" stroke-width="0.85"/>
<line x1="399.5" y1="103.5" x2="399.5" y2="117.2" stroke="#f6eef0" stroke-width="0.99"/>
<line x1="490.3" y1="103.5" x2="490.3" y2="117.2" stroke="#f4f4f4" stroke-width="0.49"/>
<line x1="398.1" y1="103.5" x2="398.1" y2="117.2" stroke="#f6eef0" stroke-width="1.08"/>
<line x1="411.4" y1="103.5" x2="411.4" y2="117.2" stroke="#f4f4f4" stroke-width="0.67"/>
<line x1="501.4" y1="103.5" x2="501.4" y2="117.2" stroke="#eef2f4" stroke-width="1.00"/>
<line x1="510.8" y1="103.5" x2="510.8" y2="117.2" stroke="#f4f4f4" stroke-width="0.95"/>
<rect x="310.3" y="117.3" width="208.7" height="10" fill="#98a9a7"/>
<rect x="310.5" y="115.4" width="10.9" height="13.6" rx="0.8" fill="#ef9a7c" stroke="#c56a50" stroke-width="0.6"/>
<text x="316.3" y="123.5" font-size="2.6" text-anchor="middle" fill="#704030">TAN</text>
<rect x="451.2" y="115.3" width="27.1" height="13.8" rx="0.8" fill="#ef9a7c" stroke="#c56a50" stroke-width="0.6"/>
<text x="464.7" y="123.3" font-size="2.6" text-anchor="middle" fill="#704030">FAT</text>
<rect x="490.9" y="115.4" width="2" height="13.6" fill="#f3e6b0" stroke="#b09060" stroke-width="0.3"/>
<rect x="493.1" y="115.4" width="17.3" height="13.6" rx="0.8" fill="#7b8cf0" stroke="#40509a" stroke-width="0.6"/>
<text x="501.7" y="123.3" font-size="2.6" text-anchor="middle" fill="#203070">PI3Kc</text>
<rect x="514.2" y="115.4" width="2.2" height="13.6" fill="#c04a78"/>
<line x1="516.5" y1="122.3" x2="520" y2="122.3" stroke="#999" stroke-width="0.4"/>
<line x1="311.3" y1="92.0" x2="311.3" y2="103" stroke="#c4c4c4" stroke-width="0.55"/>
<line x1="313.7" y1="92.0" x2="313.7" y2="103" stroke="#c4c4c4" stroke-width="0.55"/>
<line x1="315.4" y1="92.0" x2="315.4" y2="103" stroke="#c4c4c4" stroke-width="0.55"/>
<line x1="325.2" y1="92.0" x2="325.2" y2="103" stroke="#c4c4c4" stroke-width="0.55"/>
<line x1="326.3" y1="92.0" x2="326.3" y2="103" stroke="#c4c4c4" stroke-width="0.55"/>
<line x1="330.2" y1="92.0" x2="330.2" y2="103" stroke="#c4c4c4" stroke-width="0.55"/>
<line x1="338.7" y1="92.0" x2="338.7" y2="103" stroke="#c4c4c4" stroke-width="0.55"/>
<line x1="342.5" y1="92.0" x2="342.5" y2="103" stroke="#c4c4c4" stroke-width="0.55"/>
<line x1="350" y1="92.0" x2="350" y2="103" stroke="#c4c4c4" stroke-width="0.55"/>
<line x1="351.7" y1="92.0" x2="351.7" y2="103" stroke="#c4c4c4" stroke-width="0.55"/>
<line x1="352.5" y1="92.0" x2="352.5" y2="103" stroke="#c4c4c4" stroke-width="0.55"/>
<line x1="357" y1="92.0" x2="357" y2="103" stroke="#c4c4c4" stroke-width="0.55"/>
<line x1="360.2" y1="92.0" x2="360.2" y2="103" stroke="#c4c4c4" stroke-width="0.55"/>
<line x1="361.5" y1="92.0" x2="361.5" y2="103" stroke="#c4c4c4" stroke-width="0.55"/>
<line x1="368" y1="92.0" x2="368" y2="103" stroke="#c4c4c4" stroke-width="0.55"/>
<line x1="369" y1="92.0" x2="369" y2="103" stroke="#c4c4c4" stroke-width="0.55"/>
<line x1="380.8" y1="92.0" x2="380.8" y2="103" stroke="#c4c4c4" stroke-width="0.55"/>
<line x1="382.4" y1="92.0" x2="382.4" y2="103" stroke="#c4c4c4" stroke-width="0.55"/>
<line x1="383.6" y1="92.0" x2="383.6" y2="103" stroke="#c4c4c4" stroke-width="0.55"/>
<line x1="388" y1="92.0" x2="388" y2="103" stroke="#c4c4c4" stroke-width="0.55"/>
<line x1="395.8" y1="92.0" x2="395.8" y2="103" stroke="#c4c4c4" stroke-width="0.55"/>
<line x1="408.5" y1="92.0" x2="408.5" y2="103" stroke="#c4c4c4" stroke-width="0.55"/>
<line x1="413.7" y1="92.0" x2="413.7" y2="103" stroke="#c4c4c4" stroke-width="0.55"/>
<line x1="415" y1="92.0" x2="415" y2="103" stroke="#c4c4c4" stroke-width="0.55"/>
<line x1="416" y1="92.0" x2="416" y2="103" stroke="#c4c4c4" stroke-width="0.55"/>
<line x1="415.7" y1="92.0" x2="415.7" y2="103" stroke="#c4c4c4" stroke-width="0.55"/>
<line x1="419.7" y1="92.0" x2="419.7" y2="103" stroke="#c4c4c4" stroke-width="0.55"/>
<line x1="421" y1="92.0" x2="421" y2="103" stroke="#c4c4c4" stroke-width="0.55"/>
<line x1="441.8" y1="92.0" x2="441.8" y2="103" stroke="#c4c4c4" stroke-width="0.55"/>
<line x1="447.2" y1="92.0" x2="447.2" y2="103" stroke="#c4c4c4" stroke-width="0.55"/>
<line x1="454.6" y1="92.0" x2="454.6" y2="103" stroke="#c4c4c4" stroke-width="0.55"/>
<line x1="459.3" y1="92.0" x2="459.3" y2="103" stroke="#c4c4c4" stroke-width="0.55"/>
<line x1="462.6" y1="92.0" x2="462.6" y2="103" stroke="#c4c4c4" stroke-width="0.55"/>
<line x1="468.7" y1="92.0" x2="468.7" y2="103" stroke="#c4c4c4" stroke-width="0.55"/>
<line x1="472" y1="92.0" x2="472" y2="103" stroke="#c4c4c4" stroke-width="0.55"/>
<line x1="474" y1="92.0" x2="474" y2="103" stroke="#c4c4c4" stroke-width="0.55"/>
<line x1="471.5" y1="92.0" x2="471.5" y2="103" stroke="#c4c4c4" stroke-width="0.55"/>
<line x1="473.5" y1="92.0" x2="473.5" y2="103" stroke="#c4c4c4" stroke-width="0.55"/>
<line x1="476" y1="92.0" x2="476" y2="103" stroke="#c4c4c4" stroke-width="0.55"/>
<line x1="485" y1="92.0" x2="485" y2="103" stroke="#c4c4c4" stroke-width="0.55"/>
<line x1="488.4" y1="92.0" x2="488.4" y2="103" stroke="#c4c4c4" stroke-width="0.55"/>
<line x1="491.5" y1="92.0" x2="491.5" y2="103" stroke="#c4c4c4" stroke-width="0.55"/>
<line x1="493.5" y1="92.0" x2="493.5" y2="103" stroke="#c4c4c4" stroke-width="0.55"/>
<line x1="496" y1="92.0" x2="496" y2="103" stroke="#c4c4c4" stroke-width="0.55"/>
<line x1="501.4" y1="92.0" x2="501.4" y2="103" stroke="#c4c4c4" stroke-width="0.55"/>
<line x1="503.4" y1="92.0" x2="503.4" y2="103" stroke="#c4c4c4" stroke-width="0.55"/>
<line x1="505.3" y1="92.0" x2="505.3" y2="103" stroke="#c4c4c4" stroke-width="0.55"/>
<line x1="508.7" y1="92.0" x2="508.7" y2="103" stroke="#c4c4c4" stroke-width="0.55"/>
<line x1="513" y1="92.0" x2="513" y2="103" stroke="#c4c4c4" stroke-width="0.55"/>
<line x1="514.5" y1="92.0" x2="514.5" y2="103" stroke="#c4c4c4" stroke-width="0.55"/>
<line x1="516" y1="92.0" x2="516" y2="103" stroke="#c4c4c4" stroke-width="0.55"/>
<line x1="317.5" y1="81.2" x2="317.5" y2="103" stroke="#c4c4c4" stroke-width="0.55"/>
<line x1="361" y1="81.2" x2="361" y2="103" stroke="#c4c4c4" stroke-width="0.55"/>
<line x1="364.4" y1="81.2" x2="364.4" y2="103" stroke="#c4c4c4" stroke-width="0.55"/>
<line x1="360.9" y1="81.2" x2="360.9" y2="103" stroke="#c4c4c4" stroke-width="0.55"/>
<line x1="365.4" y1="81.2" x2="365.4" y2="103" stroke="#c4c4c4" stroke-width="0.55"/>
<line x1="374.4" y1="81.2" x2="374.4" y2="103" stroke="#c4c4c4" stroke-width="0.55"/>
<line x1="376.2" y1="81.2" x2="376.2" y2="103" stroke="#c4c4c4" stroke-width="0.55"/>
<line x1="388.8" y1="81.2" x2="388.8" y2="103" stroke="#c4c4c4" stroke-width="0.55"/>
<line x1="394.3" y1="81.2" x2="394.3" y2="103" stroke="#c4c4c4" stroke-width="0.55"/>
<line x1="400.4" y1="81.2" x2="400.4" y2="103" stroke="#c4c4c4" stroke-width="0.55"/>
<line x1="401.5" y1="81.2" x2="401.5" y2="103" stroke="#c4c4c4" stroke-width="0.55"/>
<line x1="424.4" y1="81.2" x2="424.4" y2="103" stroke="#c4c4c4" stroke-width="0.55"/>
<line x1="446.5" y1="81.2" x2="446.5" y2="103" stroke="#c4c4c4" stroke-width="0.55"/>
<line x1="448.6" y1="81.2" x2="448.6" y2="103" stroke="#c4c4c4" stroke-width="0.55"/>
<line x1="454.6" y1="81.2" x2="454.6" y2="103" stroke="#c4c4c4" stroke-width="0.55"/>
<line x1="471.4" y1="81.2" x2="471.4" y2="103" stroke="#c4c4c4" stroke-width="0.55"/>
<line x1="474" y1="81.2" x2="474" y2="103" stroke="#c4c4c4" stroke-width="0.55"/>
<line x1="475.4" y1="81.2" x2="475.4" y2="103" stroke="#c4c4c4" stroke-width="0.55"/>
<line x1="480.4" y1="81.2" x2="480.4" y2="103" stroke="#c4c4c4" stroke-width="0.55"/>
<line x1="493" y1="81.2" x2="493" y2="103" stroke="#c4c4c4" stroke-width="0.55"/>
<line x1="494.5" y1="81.2" x2="494.5" y2="103" stroke="#c4c4c4" stroke-width="0.55"/>
<line x1="496.8" y1="81.2" x2="496.8" y2="103" stroke="#c4c4c4" stroke-width="0.55"/>
<line x1="504.5" y1="81.2" x2="504.5" y2="103" stroke="#c4c4c4" stroke-width="0.55"/>
<line x1="513.3" y1="81.2" x2="513.3" y2="103" stroke="#c4c4c4" stroke-width="0.55"/>
<line x1="332.5" y1="70.4" x2="332.5" y2="103" stroke="#c4c4c4" stroke-width="0.55"/>
<line x1="473.4" y1="70.3" x2="473.4" y2="103" stroke="#c4c4c4" stroke-width="0.55"/>
<line x1="492.2" y1="70.3" x2="492.2" y2="103" stroke="#c4c4c4" stroke-width="0.55"/>
<line x1="493.8" y1="70.3" x2="493.8" y2="103" stroke="#c4c4c4" stroke-width="0.55"/>
<line x1="332.6" y1="26.5" x2="332.6" y2="103" stroke="#c4c4c4" stroke-width="0.55"/>
<line x1="447.2" y1="59.5" x2="447.2" y2="103" stroke="#c4c4c4" stroke-width="0.55"/>
<line x1="504.0" y1="48.4" x2="504.0" y2="103" stroke="#c4c4c4" stroke-width="0.55"/>
<circle cx="311.3" cy="92.0" r="1.2" fill="#e8a860"/>
<circle cx="313.7" cy="92.0" r="1.2" fill="#5a6a50"/>
<circle cx="315.4" cy="92.0" r="1.2" fill="#5a6a50"/>
<circle cx="325.2" cy="92.0" r="1.2" fill="#5a6a50"/>
<circle cx="326.3" cy="92.0" r="1.2" fill="#7a8a50"/>
<circle cx="330.2" cy="92.0" r="1.2" fill="#5a6a50"/>
<circle cx="338.7" cy="92.0" r="1.2" fill="#d24a48"/>
<circle cx="342.5" cy="92.0" r="1.2" fill="#5a9e52"/>
<circle cx="350" cy="92.0" r="1.2" fill="#5a9e52"/>
<circle cx="351.7" cy="92.0" r="1.2" fill="#d24a48"/>
<circle cx="352.5" cy="92.0" r="1.2" fill="#d24a48"/>
<circle cx="357" cy="92.0" r="1.2" fill="#5a9e52"/>
<circle cx="360.2" cy="92.0" r="1.2" fill="#d24a48"/>
<circle cx="361.5" cy="92.0" r="1.2" fill="#d24a48"/>
<circle cx="368" cy="92.0" r="1.2" fill="#d24a48"/>
<circle cx="369" cy="92.0" r="1.2" fill="#d24a48"/>
<circle cx="380.8" cy="92.0" r="1.2" fill="#d24a48"/>
<circle cx="382.4" cy="92.0" r="1.2" fill="#d24a48"/>
<circle cx="383.6" cy="92.0" r="1.2" fill="#d24a48"/>
<circle cx="388" cy="92.0" r="1.2" fill="#5a9e52"/>
<circle cx="395.8" cy="92.0" r="1.2" fill="#3a8aa0"/>
<circle cx="408.5" cy="92.0" r="1.2" fill="#5a9e52"/>
<circle cx="413.7" cy="92.0" r="1.2" fill="#5a9e52"/>
<circle cx="415" cy="92.0" r="1.2" fill="#5a9e52"/>
<circle cx="416" cy="92.0" r="1.2" fill="#5a9e52"/>
<circle cx="415.7" cy="92.0" r="1.2" fill="#5a9e52"/>
<circle cx="419.7" cy="92.0" r="1.2" fill="#5a9e52"/>
<circle cx="421" cy="92.0" r="1.2" fill="#5a9e52"/>
<circle cx="441.8" cy="92.0" r="1.2" fill="#5a9e52"/>
<circle cx="447.2" cy="92.0" r="1.2" fill="#5a9e52"/>
<circle cx="454.6" cy="92.0" r="1.2" fill="#d24a48"/>
<circle cx="459.3" cy="92.0" r="1.2" fill="#c86050"/>
<circle cx="462.6" cy="92.0" r="1.2" fill="#5a9e52"/>
<circle cx="468.7" cy="92.0" r="1.2" fill="#5a9e52"/>
<circle cx="472" cy="92.0" r="1.2" fill="#5a9e52"/>
<circle cx="474" cy="92.0" r="1.2" fill="#5a9e52"/>
<circle cx="471.5" cy="92.0" r="1.2" fill="#5a9e52"/>
<circle cx="473.5" cy="92.0" r="1.2" fill="#5a9e52"/>
<circle cx="476" cy="92.0" r="1.2" fill="#5a9e52"/>
<circle cx="485" cy="92.0" r="1.2" fill="#d24a48"/>
<circle cx="488.4" cy="92.0" r="1.2" fill="#e8a860"/>
<circle cx="491.5" cy="92.0" r="1.2" fill="#5a9e52"/>
<circle cx="493.5" cy="92.0" r="1.2" fill="#d24a48"/>
<circle cx="496" cy="92.0" r="1.2" fill="#d24a48"/>
<circle cx="501.4" cy="92.0" r="1.2" fill="#5a9e52"/>
<circle cx="503.4" cy="92.0" r="1.2" fill="#5a9e52"/>
<circle cx="505.3" cy="92.0" r="1.2" fill="#5a9e52"/>
<circle cx="508.7" cy="92.0" r="1.2" fill="#5a6a50"/>
<circle cx="513" cy="92.0" r="1.2" fill="#5a9e52"/>
<circle cx="514.5" cy="92.0" r="1.2" fill="#5a9e52"/>
<circle cx="516" cy="92.0" r="1.2" fill="#5a9e52"/>
<circle cx="317.5" cy="81.2" r="1.2" fill="#e8a860"/>
<circle cx="361" cy="81.2" r="1.2" fill="#d24a48"/>
<circle cx="364.4" cy="81.2" r="1.2" fill="#e8a860"/>
<circle cx="360.9" cy="81.2" r="1.2" fill="#d24a48"/>
<circle cx="365.4" cy="81.2" r="1.2" fill="#e8a860"/>
<circle cx="374.4" cy="81.2" r="1.2" fill="#5a9e52"/>
<circle cx="376.2" cy="81.2" r="1.2" fill="#5a9e52"/>
<circle cx="388.8" cy="81.2" r="1.2" fill="#5a9e52"/>
<circle cx="394.3" cy="81.2" r="1.2" fill="#e8a860"/>
<circle cx="400.4" cy="81.2" r="1.2" fill="#5a9e52"/>
<circle cx="401.5" cy="81.2" r="1.2" fill="#5a9e52"/>
<circle cx="424.4" cy="81.2" r="1.2" fill="#5a9e52"/>
<circle cx="446.5" cy="81.2" r="1.2" fill="#5a9e52"/>
<circle cx="448.6" cy="81.2" r="1.2" fill="#5a9e52"/>
<circle cx="454.6" cy="81.2" r="1.2" fill="#5a9e52"/>
<circle cx="471.4" cy="81.2" r="1.2" fill="#5a9e52"/>
<circle cx="474" cy="81.2" r="1.2" fill="#5a9e52"/>
<circle cx="475.4" cy="81.2" r="1.2" fill="#5a9e52"/>
<circle cx="480.4" cy="81.2" r="1.2" fill="#5a9e52"/>
<circle cx="493" cy="81.2" r="1.2" fill="#5a9e52"/>
<circle cx="494.5" cy="81.2" r="1.2" fill="#5a9e52"/>
<circle cx="496.8" cy="81.2" r="1.2" fill="#5a9e52"/>
<circle cx="504.5" cy="81.2" r="1.2" fill="#5a9e52"/>
<circle cx="513.3" cy="81.2" r="1.2" fill="#5a9e52"/>
<circle cx="332.5" cy="70.4" r="1.35" fill="#5a7a5a"/>
<circle cx="473.4" cy="70.3" r="1.35" fill="#5a9e52"/>
<circle cx="492.2" cy="70.3" r="1.35" fill="#5a9e52"/>
<circle cx="493.8" cy="70.3" r="1.35" fill="#5a9e52"/>
<circle cx="332.6" cy="26.5" r="1.35" fill="#5a7a5a"/>
<circle cx="447.2" cy="59.5" r="1.35" fill="#5a7a5a"/>
<circle cx="504.0" cy="48.4" r="1.35" fill="#5a9e52"/>
<rect x="310.3" y="101.7" width="206.5" height="2.3" fill="#3a953c"/>
<rect x="310.3" y="101.7" width="1.0" height="2.3" fill="#6a7a2a" fill-opacity="0.85"/>
<rect x="317.0" y="101.7" width="2.4" height="2.3" fill="#6a6a24" fill-opacity="0.85"/>
<rect x="325.4" y="101.7" width="1.7" height="2.3" fill="#6a6a24" fill-opacity="0.85"/>
<rect x="344.2" y="101.7" width="0.8" height="2.3" fill="#8a5020" fill-opacity="0.85"/>
<rect x="347.8" y="101.7" width="1.1" height="2.3" fill="#5a7a2a" fill-opacity="0.85"/>
<rect x="351.2" y="101.7" width="1.3" height="2.3" fill="#6a6a24" fill-opacity="0.85"/>
<rect x="358.1" y="101.7" width="2.5" height="2.3" fill="#7a5a22" fill-opacity="0.85"/>
<rect x="364.0" y="101.7" width="2.5" height="2.3" fill="#7a5a22" fill-opacity="0.85"/>
<rect x="376.0" y="101.7" width="2.0" height="2.3" fill="#8a5020" fill-opacity="0.85"/>
<rect x="386.2" y="101.7" width="2.5" height="2.3" fill="#7a5a22" fill-opacity="0.85"/>
<rect x="390.8" y="101.7" width="1.6" height="2.3" fill="#5a7a2a" fill-opacity="0.85"/>
<rect x="394.6" y="101.7" width="1.4" height="2.3" fill="#5a7a2a" fill-opacity="0.85"/>
<rect x="397.5" y="101.7" width="0.8" height="2.3" fill="#6a6a24" fill-opacity="0.85"/>
<rect x="399.7" y="101.7" width="2.5" height="2.3" fill="#7a5a22" fill-opacity="0.85"/>
<rect x="403.7" y="101.7" width="2.1" height="2.3" fill="#8a5020" fill-opacity="0.85"/>
<rect x="406.5" y="101.7" width="2.0" height="2.3" fill="#9a4a2a" fill-opacity="0.85"/>
<rect x="411.4" y="101.7" width="1.0" height="2.3" fill="#8a5020" fill-opacity="0.85"/>
<rect x="416.8" y="101.7" width="0.7" height="2.3" fill="#6a6a24" fill-opacity="0.85"/>
<rect x="419.9" y="101.7" width="0.7" height="2.3" fill="#6a6a24" fill-opacity="0.85"/>
<rect x="423.4" y="101.7" width="1.3" height="2.3" fill="#9a4a2a" fill-opacity="0.85"/>
<rect x="436.3" y="101.7" width="2.3" height="2.3" fill="#6a7a2a" fill-opacity="0.85"/>
<rect x="441.4" y="101.7" width="2.5" height="2.3" fill="#5a7a2a" fill-opacity="0.85"/>
<rect x="446.7" y="101.7" width="2.2" height="2.3" fill="#8a5020" fill-opacity="0.85"/>
<rect x="458.1" y="101.7" width="1.2" height="2.3" fill="#9a4a2a" fill-opacity="0.85"/>
<rect x="462.2" y="101.7" width="0.7" height="2.3" fill="#9a4a2a" fill-opacity="0.85"/>
<rect x="464.8" y="101.7" width="0.9" height="2.3" fill="#6a6a24" fill-opacity="0.85"/>
<rect x="468.6" y="101.7" width="1.1" height="2.3" fill="#6a6a24" fill-opacity="0.85"/>
<rect x="474.8" y="101.7" width="0.9" height="2.3" fill="#6a7a2a" fill-opacity="0.85"/>
<rect x="480.9" y="101.7" width="2.2" height="2.3" fill="#5a7a2a" fill-opacity="0.85"/>
<rect x="487.3" y="101.7" width="1.1" height="2.3" fill="#7a5a22" fill-opacity="0.85"/>
<rect x="489.6" y="101.7" width="2.4" height="2.3" fill="#6a6a24" fill-opacity="0.85"/>
<rect x="502.3" y="101.7" width="0.8" height="2.3" fill="#7a5a22" fill-opacity="0.85"/>
<rect x="505.8" y="101.7" width="2.4" height="2.3" fill="#5a7a2a" fill-opacity="0.85"/>
<rect x="512.5" y="101.7" width="1.0" height="2.3" fill="#9a4a2a" fill-opacity="0.85"/>
<rect x="383" y="101.7" width="1.6" height="2.3" fill="#8a4a20"/>
<rect x="400" y="101.7" width="1.6" height="2.3" fill="#7a5a20"/>
<rect x="405" y="101.7" width="1.6" height="2.3" fill="#7a4a20"/>
<rect x="348" y="101.7" width="1.6" height="2.3" fill="#6a6a24"/>
<rect x="330" y="101.7" width="1.6" height="2.3" fill="#6a6a24"/>
<rect x="318" y="101.7" width="1.6" height="2.3" fill="#7a6a30"/>
<line x1="310.3" y1="133.6" x2="511.3" y2="133.6" stroke="#666" stroke-width="0.55"/>
<line x1="310.3" y1="133.4" x2="310.3" y2="135.6" stroke="#666" stroke-width="0.5"/>
<text x="310.3" y="142.8" font-size="4.3" font-weight="normal" font-style="normal" text-anchor="middle" fill="#333" >0</text>
<line x1="343.8" y1="133.4" x2="343.8" y2="135.6" stroke="#666" stroke-width="0.5"/>
<text x="343.8" y="142.8" font-size="4.3" font-weight="normal" font-style="normal" text-anchor="middle" fill="#333" >500</text>
<line x1="377.3" y1="133.4" x2="377.3" y2="135.6" stroke="#666" stroke-width="0.5"/>
<text x="377.3" y="142.8" font-size="4.3" font-weight="normal" font-style="normal" text-anchor="middle" fill="#333" >1,000</text>
<line x1="410.8" y1="133.4" x2="410.8" y2="135.6" stroke="#666" stroke-width="0.5"/>
<text x="410.8" y="142.8" font-size="4.3" font-weight="normal" font-style="normal" text-anchor="middle" fill="#333" >1,500</text>
<line x1="444.3" y1="133.4" x2="444.3" y2="135.6" stroke="#666" stroke-width="0.5"/>
<text x="444.3" y="142.8" font-size="4.3" font-weight="normal" font-style="normal" text-anchor="middle" fill="#333" >2,000</text>
<line x1="477.8" y1="133.4" x2="477.8" y2="135.6" stroke="#666" stroke-width="0.5"/>
<text x="477.8" y="142.8" font-size="4.3" font-weight="normal" font-style="normal" text-anchor="middle" fill="#333" >2,500</text>
<line x1="511.3" y1="133.4" x2="511.3" y2="135.6" stroke="#666" stroke-width="0.5"/>
<text x="511.3" y="142.8" font-size="4.3" font-weight="normal" font-style="normal" text-anchor="middle" fill="#333" >3,000</text>
<line x1="309.6" y1="155.6" x2="309.6" y2="170.2" stroke="#333" stroke-width="0.7"/>
<line x1="309.3" y1="170.1" x2="512" y2="170.1" stroke="#333" stroke-width="0.7"/>
<rect x="319.1" y="156.2" width="44.3" height="13.5" fill="#2fb39c"/>
<rect x="363.4" y="156.2" width="14.4" height="13.5" fill="#ec3f2a"/>
<rect x="377.8" y="156.2" width="122.3" height="13.5" fill="#2e7db6"/>
<rect x="500.1" y="156.2" width="2.2" height="13.5" fill="#f0dc50"/>
<line x1="319.3" y1="170.1" x2="319.3" y2="171.8" stroke="#333" stroke-width="0.6"/>
<text x="319.3" y="178.2" font-size="6.2" font-weight="normal" font-style="normal" text-anchor="middle" fill="#222" >0.00</text>
<line x1="364.4" y1="170.1" x2="364.4" y2="171.8" stroke="#333" stroke-width="0.6"/>
<text x="364.4" y="178.2" font-size="6.2" font-weight="normal" font-style="normal" text-anchor="middle" fill="#222" >0.25</text>
<line x1="410.4" y1="170.1" x2="410.4" y2="171.8" stroke="#333" stroke-width="0.6"/>
<text x="410.4" y="178.2" font-size="6.2" font-weight="normal" font-style="normal" text-anchor="middle" fill="#222" >0.50</text>
<line x1="456.6" y1="170.1" x2="456.6" y2="171.8" stroke="#333" stroke-width="0.6"/>
<text x="456.6" y="178.2" font-size="6.2" font-weight="normal" font-style="normal" text-anchor="middle" fill="#222" >0.75</text>
<line x1="503.2" y1="170.1" x2="503.2" y2="171.8" stroke="#333" stroke-width="0.6"/>
<text x="503.2" y="178.2" font-size="6.2" font-weight="normal" font-style="normal" text-anchor="middle" fill="#222" >1.00</text>
<text x="410.4" y="185.8" font-size="6.3" font-weight="normal" font-style="normal" text-anchor="middle" fill="#222" >Total</text>
<rect x="368.5" y="195.9" width="8.1" height="7.6" fill="#2e7db6"/>
<rect x="368.5" y="205.3" width="8.1" height="7.5" fill="#ec3f2a"/>
<rect x="419.6" y="195.9" width="8" height="7.6" fill="#2fb39c"/>
<rect x="419.6" y="205.3" width="8" height="7.5" fill="#efd84e"/>
<text x="379" y="202.4" font-size="7.5" font-weight="normal" font-style="normal" text-anchor="start" fill="#151515" textLength="30" lengthAdjust="spacingAndGlyphs" stroke="#151515" stroke-width="0.18" >Missense</text>
<text x="379" y="211.8" font-size="7.5" font-weight="normal" font-style="normal" text-anchor="start" fill="#151515" textLength="21" lengthAdjust="spacingAndGlyphs" stroke="#151515" stroke-width="0.18" >Splice</text>
<text x="428.8" y="202.4" font-size="7.5" font-weight="normal" font-style="normal" text-anchor="start" fill="#151515" textLength="34" lengthAdjust="spacingAndGlyphs" stroke="#151515" stroke-width="0.18" >Truncating</text>
<text x="428.8" y="211.8" font-size="7.5" font-weight="normal" font-style="normal" text-anchor="start" fill="#151515" textLength="25" lengthAdjust="spacingAndGlyphs" stroke="#151515" stroke-width="0.18" >Inframe</text>
<text x="0.2" y="228.0" font-size="12.3" font-weight="bold" font-style="normal" text-anchor="start" fill="#000" stroke="#000" stroke-width="0.2" >C</text>
<line x1="21.3" y1="485.2" x2="268" y2="485.2" stroke="#666" stroke-width="1.1"/>
<line x1="21.3" y1="463.4" x2="268" y2="463.4" stroke="#dd5a5a" stroke-width="0.6" stroke-dasharray="2,1.6"/>
<line x1="21.3" y1="472.3" x2="268" y2="472.3" stroke="#c86070" stroke-width="0.6" stroke-dasharray="2,1.6"/>
<line x1="21.3" y1="242.9" x2="21.3" y2="496.8" stroke="#333" stroke-width="0.8"/>
<line x1="21.3" y1="496.8" x2="268" y2="496.8" stroke="#333" stroke-width="0.8"/>
<line x1="144.3" y1="242.9" x2="144.3" y2="496.8" stroke="#333" stroke-width="0.85"/>
<line x1="19.6" y1="485.4" x2="21.3" y2="485.4" stroke="#333" stroke-width="0.6"/>
<text x="18.3" y="487.8" font-size="6.8" font-weight="normal" font-style="normal" text-anchor="end" fill="#222" stroke="#222" stroke-width="0.1" >0</text>
<line x1="19.6" y1="421.6" x2="21.3" y2="421.6" stroke="#333" stroke-width="0.6"/>
<text x="18.3" y="424.0" font-size="6.8" font-weight="normal" font-style="normal" text-anchor="end" fill="#222" stroke="#222" stroke-width="0.1" >3</text>
<line x1="19.6" y1="357.8" x2="21.3" y2="357.8" stroke="#333" stroke-width="0.6"/>
<text x="18.3" y="360.2" font-size="6.8" font-weight="normal" font-style="normal" text-anchor="end" fill="#222" stroke="#222" stroke-width="0.1" >6</text>
<line x1="19.6" y1="294.0" x2="21.3" y2="294.0" stroke="#333" stroke-width="0.6"/>
<text x="18.3" y="296.4" font-size="6.8" font-weight="normal" font-style="normal" text-anchor="end" fill="#222" stroke="#222" stroke-width="0.1" >9</text>
<line x1="33.1" y1="496.8" x2="33.1" y2="498.5" stroke="#333" stroke-width="0.6"/>
<text x="33.1" y="504.5" font-size="6.8" font-weight="normal" font-style="normal" text-anchor="middle" fill="#222" stroke="#222" stroke-width="0.1" >−4</text>
<line x1="88.7" y1="496.8" x2="88.7" y2="498.5" stroke="#333" stroke-width="0.6"/>
<text x="88.7" y="504.5" font-size="6.8" font-weight="normal" font-style="normal" text-anchor="middle" fill="#222" stroke="#222" stroke-width="0.1" >−2</text>
<line x1="144.3" y1="496.8" x2="144.3" y2="498.5" stroke="#333" stroke-width="0.6"/>
<text x="144.3" y="504.5" font-size="6.8" font-weight="normal" font-style="normal" text-anchor="middle" fill="#222" stroke="#222" stroke-width="0.1" >0</text>
<line x1="199.9" y1="496.8" x2="199.9" y2="498.5" stroke="#333" stroke-width="0.6"/>
<text x="199.9" y="504.5" font-size="6.8" font-weight="normal" font-style="normal" text-anchor="middle" fill="#222" stroke="#222" stroke-width="0.1" >2</text>
<line x1="255.5" y1="496.8" x2="255.5" y2="498.5" stroke="#333" stroke-width="0.6"/>
<text x="255.5" y="504.5" font-size="6.8" font-weight="normal" font-style="normal" text-anchor="middle" fill="#222" stroke="#222" stroke-width="0.1" >4</text>
<text x="0" y="0" font-size="7.2" fill="#222" stroke="#222" stroke-width="0.1" text-anchor="middle" textLength="52.5" lengthAdjust="spacingAndGlyphs" transform="translate(7.3,371) rotate(-90)">−Log<tspan font-size="4.8" dy="1.6">10</tspan><tspan dy="-1.6"> (</tspan><tspan font-style="italic">q</tspan> value)</text>
<text x="145.8" y="511.6" font-size="6.9" fill="#222" text-anchor="middle" stroke="#222" stroke-width="0.1">log<tspan font-size="4.6" dy="1.6">2</tspan><tspan dy="-1.6">(odds ratio)</tspan></text>
<line x1="27" y1="510.5" x2="75" y2="510.5" stroke="#111" stroke-width="1.4"/>
<path d="M23.3 510.5 L29.6 507.9 L29.6 513.1 Z" fill="#111"/>
<line x1="216.6" y1="510.2" x2="263" y2="510.2" stroke="#111" stroke-width="1.4"/>
<path d="M267.3 510.2 L261 507.6 L261 512.8 Z" fill="#111"/>
<text x="22.9" y="520.6" font-size="6.9" fill="#222" stroke="#222" stroke-width="0.22" textLength="63.3" lengthAdjust="spacingAndGlyphs">Enriched in <tspan font-style="italic">ATM</tspan>-wt</text>
<text x="204.2" y="520.6" font-size="6.9" fill="#222" stroke="#222" stroke-width="0.22" textLength="63" lengthAdjust="spacingAndGlyphs">Enriched in <tspan font-style="italic">ATM</tspan>-mt</text>
<text x="243.6" y="462.3" font-size="6.6" font-weight="normal" font-style="normal" text-anchor="start" fill="#d04848" textLength="20.5" lengthAdjust="spacingAndGlyphs" >q = 0.1</text>
<text x="243.6" y="470.9" font-size="6.6" font-weight="normal" font-style="normal" text-anchor="start" fill="#d04848" textLength="21.5" lengthAdjust="spacingAndGlyphs" >q = 0.25</text>
<circle cx="157.5" cy="472.9" r="1.15" fill="#111"/>
<circle cx="160.2" cy="480.2" r="1.15" fill="#111"/>
<circle cx="175.7" cy="465.2" r="1.15" fill="#111"/>
<circle cx="151.6" cy="476.7" r="1.15" fill="#111"/>
<circle cx="154.3" cy="471.1" r="1.15" fill="#111"/>
<circle cx="162.0" cy="467.4" r="1.15" fill="#111"/>
<circle cx="165.7" cy="476.2" r="1.15" fill="#111"/>
<circle cx="151.8" cy="467.4" r="1.15" fill="#111"/>
<circle cx="177.1" cy="470.1" r="1.15" fill="#111"/>
<circle cx="164.7" cy="466.9" r="1.15" fill="#111"/>
<circle cx="184.6" cy="467.4" r="1.15" fill="#111"/>
<circle cx="148.5" cy="475.1" r="1.15" fill="#111"/>
<circle cx="168.3" cy="465.1" r="1.15" fill="#111"/>
<circle cx="167.9" cy="475.1" r="1.15" fill="#111"/>
<circle cx="159.9" cy="464.8" r="1.15" fill="#111"/>
<circle cx="154.1" cy="478.4" r="1.15" fill="#111"/>
<circle cx="162.7" cy="469.1" r="1.15" fill="#111"/>
<circle cx="139.8" cy="484.2" r="1.15" fill="#111"/>
<circle cx="157.7" cy="475.5" r="1.15" fill="#111"/>
<circle cx="181.6" cy="472.1" r="1.15" fill="#111"/>
<circle cx="139.4" cy="485.1" r="1.15" fill="#111"/>
<circle cx="181.9" cy="467.2" r="1.15" fill="#111"/>
<circle cx="151.6" cy="467.4" r="1.15" fill="#111"/>
<circle cx="143.1" cy="483.0" r="1.15" fill="#111"/>
<circle cx="146.6" cy="481.2" r="1.15" fill="#111"/>
<circle cx="144.5" cy="482.6" r="1.15" fill="#111"/>
<circle cx="152.7" cy="466.4" r="1.15" fill="#111"/>
<circle cx="167.9" cy="475.2" r="1.15" fill="#111"/>
<circle cx="138.3" cy="483.2" r="1.15" fill="#111"/>
<circle cx="156.1" cy="476.7" r="1.15" fill="#111"/>
<circle cx="152.3" cy="474.1" r="1.15" fill="#111"/>
<circle cx="171.5" cy="469.1" r="1.15" fill="#111"/>
<circle cx="138.1" cy="483.5" r="1.15" fill="#111"/>
<circle cx="176.6" cy="473.8" r="1.15" fill="#111"/>
<circle cx="138.3" cy="484.5" r="1.15" fill="#111"/>
<circle cx="189.7" cy="465.6" r="1.15" fill="#111"/>
<circle cx="141.1" cy="484.7" r="1.15" fill="#111"/>
<circle cx="185.4" cy="464.0" r="1.15" fill="#111"/>
<circle cx="184.2" cy="471.5" r="1.15" fill="#111"/>
<circle cx="169.8" cy="476.7" r="1.15" fill="#111"/>
<circle cx="184.8" cy="466.4" r="1.15" fill="#111"/>
<circle cx="167.9" cy="467.8" r="1.15" fill="#111"/>
<circle cx="152.4" cy="481.8" r="1.15" fill="#111"/>
<circle cx="160.8" cy="466.9" r="1.15" fill="#111"/>
<circle cx="168.6" cy="471.8" r="1.15" fill="#111"/>
<circle cx="153.4" cy="471.4" r="1.15" fill="#111"/>
<circle cx="180.7" cy="468.3" r="1.15" fill="#111"/>
<circle cx="138.0" cy="482.9" r="1.15" fill="#111"/>
<circle cx="171.2" cy="475.4" r="1.15" fill="#111"/>
<circle cx="181.9" cy="463.7" r="1.15" fill="#111"/>
<circle cx="176.1" cy="465.4" r="1.15" fill="#111"/>
<circle cx="167.5" cy="475.1" r="1.15" fill="#111"/>
<circle cx="166.9" cy="469.7" r="1.15" fill="#111"/>
<circle cx="159.4" cy="475.9" r="1.15" fill="#111"/>
<circle cx="156.9" cy="477.6" r="1.15" fill="#111"/>
<circle cx="148.7" cy="472.6" r="1.15" fill="#111"/>
<circle cx="159.8" cy="476.7" r="1.15" fill="#111"/>
<circle cx="182.6" cy="468.1" r="1.15" fill="#111"/>
<circle cx="150.0" cy="480.3" r="1.15" fill="#111"/>
<circle cx="171.6" cy="466.8" r="1.15" fill="#111"/>
<circle cx="158.4" cy="465.2" r="1.15" fill="#111"/>
<circle cx="151.4" cy="472.4" r="1.15" fill="#111"/>
<circle cx="167.2" cy="472.7" r="1.15" fill="#111"/>
<circle cx="175.6" cy="463.7" r="1.15" fill="#111"/>
<circle cx="180.0" cy="464.6" r="1.15" fill="#111"/>
<circle cx="151.2" cy="480.2" r="1.15" fill="#111"/>
<circle cx="171.6" cy="464.0" r="1.15" fill="#111"/>
<circle cx="186.4" cy="471.3" r="1.15" fill="#111"/>
<circle cx="186.7" cy="465.9" r="1.15" fill="#111"/>
<circle cx="142.9" cy="485.1" r="1.15" fill="#111"/>
<circle cx="142.9" cy="481.1" r="1.15" fill="#111"/>
<circle cx="141.0" cy="484.8" r="1.15" fill="#111"/>
<circle cx="146.2" cy="484.2" r="1.15" fill="#111"/>
<circle cx="185.1" cy="466.5" r="1.15" fill="#111"/>
<circle cx="137.4" cy="483.6" r="1.15" fill="#111"/>
<circle cx="179.6" cy="470.7" r="1.15" fill="#111"/>
<circle cx="189.4" cy="466.4" r="1.15" fill="#111"/>
<circle cx="183.8" cy="469.0" r="1.15" fill="#111"/>
<circle cx="172.8" cy="466.0" r="1.15" fill="#111"/>
<circle cx="139.5" cy="483.4" r="1.15" fill="#111"/>
<circle cx="171.3" cy="468.7" r="1.15" fill="#111"/>
<circle cx="150.9" cy="469.9" r="1.15" fill="#111"/>
<circle cx="158.5" cy="466.9" r="1.15" fill="#111"/>
<circle cx="144.4" cy="483.8" r="1.15" fill="#111"/>
<circle cx="139.8" cy="482.9" r="1.15" fill="#111"/>
<circle cx="142.7" cy="480.4" r="1.15" fill="#111"/>
<circle cx="168.8" cy="474.7" r="1.15" fill="#111"/>
<circle cx="184.0" cy="470.9" r="1.15" fill="#111"/>
<circle cx="165.6" cy="475.2" r="1.15" fill="#111"/>
<circle cx="139.3" cy="482.6" r="1.15" fill="#111"/>
<circle cx="142.0" cy="485.0" r="1.15" fill="#111"/>
<circle cx="179.8" cy="471.6" r="1.15" fill="#111"/>
<circle cx="191.3" cy="468.7" r="1.15" fill="#111"/>
<circle cx="157.5" cy="475.7" r="1.15" fill="#111"/>
<circle cx="150.6" cy="479.9" r="1.15" fill="#111"/>
<circle cx="183.0" cy="466.8" r="1.15" fill="#111"/>
<circle cx="181.7" cy="463.9" r="1.15" fill="#111"/>
<circle cx="177.0" cy="468.5" r="1.15" fill="#111"/>
<circle cx="141.9" cy="484.8" r="1.15" fill="#111"/>
<circle cx="153.0" cy="477.7" r="1.15" fill="#111"/>
<circle cx="157.5" cy="462.8" r="1.15" fill="#111"/>
<circle cx="177.5" cy="466.1" r="1.15" fill="#111"/>
<circle cx="167.5" cy="472.5" r="1.15" fill="#111"/>
<circle cx="139.3" cy="482.9" r="1.15" fill="#111"/>
<circle cx="178.1" cy="467.9" r="1.15" fill="#111"/>
<circle cx="156.0" cy="463.3" r="1.15" fill="#111"/>
<circle cx="153.1" cy="470.8" r="1.15" fill="#111"/>
<circle cx="157.9" cy="470.8" r="1.15" fill="#111"/>
<circle cx="164.6" cy="475.9" r="1.15" fill="#111"/>
<circle cx="177.4" cy="467.4" r="1.15" fill="#111"/>
<circle cx="152.4" cy="473.4" r="1.15" fill="#111"/>
<circle cx="139.3" cy="483.8" r="1.15" fill="#111"/>
<circle cx="156.3" cy="466.1" r="1.15" fill="#111"/>
<circle cx="170.1" cy="477.1" r="1.15" fill="#111"/>
<circle cx="148.7" cy="480.3" r="1.15" fill="#111"/>
<circle cx="150.8" cy="468.7" r="1.15" fill="#111"/>
<circle cx="160.8" cy="477.2" r="1.15" fill="#111"/>
<circle cx="175.1" cy="470.6" r="1.15" fill="#111"/>
<circle cx="183.3" cy="472.7" r="1.15" fill="#111"/>
<circle cx="148.0" cy="479.2" r="1.15" fill="#111"/>
<circle cx="137.9" cy="483.0" r="1.15" fill="#111"/>
<circle cx="160.7" cy="474.7" r="1.15" fill="#111"/>
<circle cx="153.2" cy="468.1" r="1.15" fill="#111"/>
<circle cx="140.8" cy="480.2" r="1.15" fill="#111"/>
<circle cx="178.0" cy="475.1" r="1.15" fill="#111"/>
<circle cx="160.6" cy="466.0" r="1.15" fill="#111"/>
<circle cx="160.8" cy="476.4" r="1.15" fill="#111"/>
<circle cx="168.2" cy="477.2" r="1.15" fill="#111"/>
<circle cx="164.8" cy="466.7" r="1.15" fill="#111"/>
<circle cx="151.7" cy="469.5" r="1.15" fill="#111"/>
<circle cx="148.8" cy="482.7" r="1.15" fill="#111"/>
<circle cx="142.9" cy="478.8" r="1.15" fill="#111"/>
<circle cx="151.2" cy="481.7" r="1.15" fill="#111"/>
<circle cx="175.2" cy="473.2" r="1.15" fill="#111"/>
<circle cx="156.2" cy="472.9" r="1.15" fill="#111"/>
<circle cx="162.3" cy="465.2" r="1.15" fill="#111"/>
<circle cx="166.1" cy="463.7" r="1.15" fill="#111"/>
<circle cx="157.2" cy="479.6" r="1.15" fill="#111"/>
<circle cx="150.5" cy="481.7" r="1.15" fill="#111"/>
<circle cx="173.2" cy="468.8" r="1.15" fill="#111"/>
<circle cx="177.9" cy="472.6" r="1.15" fill="#111"/>
<circle cx="156.1" cy="474.5" r="1.15" fill="#111"/>
<circle cx="172.6" cy="477.2" r="1.15" fill="#111"/>
<circle cx="187.8" cy="467.7" r="1.15" fill="#111"/>
<circle cx="163.8" cy="463.1" r="1.15" fill="#111"/>
<circle cx="181.7" cy="468.1" r="1.15" fill="#111"/>
<circle cx="144.8" cy="484.0" r="1.15" fill="#111"/>
<circle cx="185.4" cy="470.1" r="1.15" fill="#111"/>
<circle cx="159.0" cy="470.2" r="1.15" fill="#111"/>
<circle cx="145.5" cy="483.1" r="1.15" fill="#111"/>
<circle cx="160.9" cy="478.3" r="1.15" fill="#111"/>
<circle cx="140.9" cy="484.7" r="1.15" fill="#111"/>
<circle cx="150.7" cy="481.6" r="1.15" fill="#111"/>
<circle cx="145.4" cy="482.0" r="1.15" fill="#111"/>
<circle cx="156.2" cy="479.0" r="1.15" fill="#111"/>
<circle cx="158.3" cy="469.7" r="1.15" fill="#111"/>
<circle cx="147.3" cy="476.7" r="1.15" fill="#111"/>
<circle cx="139.0" cy="483.2" r="1.15" fill="#111"/>
<circle cx="159.1" cy="463.4" r="1.15" fill="#111"/>
<circle cx="140.8" cy="483.6" r="1.15" fill="#111"/>
<circle cx="153.8" cy="466.0" r="1.15" fill="#111"/>
<circle cx="177.4" cy="463.7" r="1.15" fill="#111"/>
<circle cx="165.3" cy="477.0" r="1.15" fill="#111"/>
<circle cx="143.5" cy="479.3" r="1.15" fill="#111"/>
<circle cx="157.1" cy="476.0" r="1.15" fill="#111"/>
<circle cx="154.3" cy="481.1" r="1.15" fill="#111"/>
<circle cx="138.5" cy="482.8" r="1.15" fill="#111"/>
<circle cx="152.3" cy="482.2" r="1.15" fill="#111"/>
<circle cx="137.7" cy="484.0" r="1.15" fill="#111"/>
<circle cx="156.0" cy="467.4" r="1.15" fill="#111"/>
<circle cx="182.0" cy="463.6" r="1.15" fill="#111"/>
<circle cx="151.2" cy="481.0" r="1.15" fill="#111"/>
<circle cx="150.4" cy="481.3" r="1.15" fill="#111"/>
<circle cx="154.0" cy="469.2" r="1.15" fill="#111"/>
<circle cx="181.4" cy="465.0" r="1.15" fill="#111"/>
<circle cx="164.6" cy="467.4" r="1.15" fill="#111"/>
<circle cx="148.8" cy="472.3" r="1.15" fill="#111"/>
<circle cx="162.1" cy="468.6" r="1.15" fill="#111"/>
<circle cx="151.8" cy="478.8" r="1.15" fill="#111"/>
<circle cx="188.9" cy="470.0" r="1.15" fill="#111"/>
<circle cx="177.8" cy="474.1" r="1.15" fill="#111"/>
<circle cx="146.0" cy="476.6" r="1.15" fill="#111"/>
<circle cx="165.1" cy="472.0" r="1.15" fill="#111"/>
<circle cx="148.1" cy="480.1" r="1.15" fill="#111"/>
<circle cx="156.7" cy="478.6" r="1.15" fill="#111"/>
<circle cx="187.1" cy="467.7" r="1.15" fill="#111"/>
<circle cx="183.4" cy="464.8" r="1.15" fill="#111"/>
<circle cx="152.0" cy="466.6" r="1.15" fill="#111"/>
<circle cx="183.2" cy="467.3" r="1.15" fill="#111"/>
<circle cx="136.2" cy="484.7" r="1.15" fill="#111"/>
<circle cx="165.2" cy="473.8" r="1.15" fill="#111"/>
<circle cx="143.6" cy="480.6" r="1.15" fill="#111"/>
<circle cx="159.8" cy="473.9" r="1.15" fill="#111"/>
<circle cx="143.5" cy="481.4" r="1.15" fill="#111"/>
<circle cx="139.6" cy="483.9" r="1.15" fill="#111"/>
<circle cx="180.3" cy="467.6" r="1.15" fill="#111"/>
<circle cx="151.1" cy="474.0" r="1.15" fill="#111"/>
<circle cx="147.1" cy="477.1" r="1.15" fill="#111"/>
<circle cx="154.3" cy="480.4" r="1.15" fill="#111"/>
<circle cx="153.0" cy="480.4" r="1.15" fill="#111"/>
<circle cx="165.1" cy="470.8" r="1.15" fill="#111"/>
<circle cx="183.4" cy="471.6" r="1.15" fill="#111"/>
<circle cx="185.7" cy="464.7" r="1.15" fill="#111"/>
<circle cx="162.1" cy="463.4" r="1.15" fill="#111"/>
<circle cx="187.7" cy="468.7" r="1.15" fill="#111"/>
<circle cx="160.8" cy="474.0" r="1.15" fill="#111"/>
<circle cx="141.1" cy="482.6" r="1.15" fill="#111"/>
<circle cx="167.5" cy="473.1" r="1.15" fill="#111"/>
<circle cx="158.1" cy="479.7" r="1.15" fill="#111"/>
<circle cx="154.6" cy="477.3" r="1.15" fill="#111"/>
<circle cx="155.6" cy="470.1" r="1.15" fill="#111"/>
<circle cx="149.9" cy="481.7" r="1.15" fill="#111"/>
<circle cx="145.7" cy="479.4" r="1.15" fill="#111"/>
<circle cx="177.3" cy="472.6" r="1.15" fill="#111"/>
<circle cx="149.8" cy="475.8" r="1.15" fill="#111"/>
<circle cx="180.6" cy="473.1" r="1.15" fill="#111"/>
<circle cx="158.7" cy="468.1" r="1.15" fill="#111"/>
<circle cx="178.6" cy="469.6" r="1.15" fill="#111"/>
<circle cx="141.3" cy="481.7" r="1.15" fill="#111"/>
<circle cx="162.5" cy="466.3" r="1.15" fill="#111"/>
<circle cx="170.7" cy="470.1" r="1.15" fill="#111"/>
<circle cx="165.8" cy="466.4" r="1.15" fill="#111"/>
<circle cx="192.4" cy="467.0" r="1.15" fill="#111"/>
<circle cx="144.7" cy="479.1" r="1.15" fill="#111"/>
<circle cx="137.4" cy="484.4" r="1.15" fill="#111"/>
<circle cx="187.5" cy="471.4" r="1.15" fill="#111"/>
<circle cx="154.5" cy="480.6" r="1.15" fill="#111"/>
<circle cx="155.4" cy="472.5" r="1.15" fill="#111"/>
<circle cx="147.8" cy="477.1" r="1.15" fill="#111"/>
<circle cx="167.5" cy="467.4" r="1.15" fill="#111"/>
<circle cx="168.0" cy="463.6" r="1.15" fill="#111"/>
<circle cx="154.0" cy="480.5" r="1.15" fill="#111"/>
<circle cx="170.0" cy="474.0" r="1.15" fill="#111"/>
<circle cx="152.8" cy="473.2" r="1.15" fill="#111"/>
<circle cx="157.9" cy="476.3" r="1.15" fill="#111"/>
<circle cx="162.8" cy="479.4" r="1.15" fill="#111"/>
<circle cx="169.9" cy="472.4" r="1.15" fill="#111"/>
<circle cx="151.1" cy="479.6" r="1.15" fill="#111"/>
<circle cx="181.0" cy="467.9" r="1.15" fill="#111"/>
<circle cx="149.3" cy="482.5" r="1.15" fill="#111"/>
<circle cx="165.1" cy="478.5" r="1.15" fill="#111"/>
<circle cx="161.2" cy="478.0" r="1.15" fill="#111"/>
<circle cx="159.4" cy="473.0" r="1.15" fill="#111"/>
<circle cx="147.8" cy="476.9" r="1.15" fill="#111"/>
<circle cx="178.3" cy="472.2" r="1.15" fill="#111"/>
<circle cx="158.4" cy="478.8" r="1.15" fill="#111"/>
<circle cx="168.1" cy="468.4" r="1.15" fill="#111"/>
<circle cx="171.0" cy="473.0" r="1.15" fill="#111"/>
<circle cx="174.5" cy="472.0" r="1.15" fill="#111"/>
<circle cx="138.9" cy="483.6" r="1.15" fill="#111"/>
<circle cx="166.4" cy="477.5" r="1.15" fill="#111"/>
<circle cx="167.8" cy="471.5" r="1.15" fill="#111"/>
<circle cx="136.6" cy="484.6" r="1.15" fill="#111"/>
<circle cx="151.9" cy="475.0" r="1.15" fill="#111"/>
<circle cx="159.8" cy="480.3" r="1.15" fill="#111"/>
<circle cx="150.4" cy="474.4" r="1.15" fill="#111"/>
<circle cx="163.4" cy="475.7" r="1.15" fill="#111"/>
<circle cx="155.3" cy="478.9" r="1.15" fill="#111"/>
<circle cx="168.8" cy="477.1" r="1.15" fill="#111"/>
<circle cx="161.3" cy="474.5" r="1.15" fill="#111"/>
<circle cx="138.8" cy="484.0" r="1.15" fill="#111"/>
<circle cx="154.3" cy="478.1" r="1.15" fill="#111"/>
<circle cx="143.8" cy="479.9" r="1.15" fill="#111"/>
<circle cx="139.6" cy="484.9" r="1.15" fill="#111"/>
<circle cx="164.1" cy="464.1" r="1.15" fill="#111"/>
<circle cx="148.8" cy="471.8" r="1.15" fill="#111"/>
<circle cx="164.3" cy="472.2" r="1.15" fill="#111"/>
<circle cx="152.4" cy="478.4" r="1.15" fill="#111"/>
<circle cx="159.6" cy="468.7" r="1.15" fill="#111"/>
<circle cx="163.5" cy="479.4" r="1.15" fill="#111"/>
<circle cx="154.3" cy="474.6" r="1.15" fill="#111"/>
<circle cx="147.3" cy="480.8" r="1.15" fill="#111"/>
<circle cx="156.6" cy="467.5" r="1.15" fill="#111"/>
<circle cx="157.5" cy="480.2" r="1.15" fill="#111"/>
<circle cx="158.6" cy="477.0" r="1.15" fill="#111"/>
<circle cx="153.6" cy="475.4" r="1.15" fill="#111"/>
<circle cx="140.0" cy="484.4" r="1.15" fill="#111"/>
<circle cx="168.5" cy="477.1" r="1.15" fill="#111"/>
<circle cx="147.9" cy="481.1" r="1.15" fill="#111"/>
<circle cx="172.4" cy="469.4" r="1.15" fill="#111"/>
<circle cx="185.4" cy="465.6" r="1.15" fill="#111"/>
<circle cx="183.3" cy="470.7" r="1.15" fill="#111"/>
<circle cx="165.8" cy="468.8" r="1.15" fill="#111"/>
<circle cx="168.2" cy="468.5" r="1.15" fill="#111"/>
<circle cx="151.8" cy="467.0" r="1.15" fill="#111"/>
<circle cx="149.3" cy="479.0" r="1.15" fill="#111"/>
<circle cx="163.2" cy="468.3" r="1.15" fill="#111"/>
<circle cx="163.1" cy="473.5" r="1.15" fill="#111"/>
<circle cx="164.0" cy="477.1" r="1.15" fill="#111"/>
<circle cx="186.2" cy="470.9" r="1.15" fill="#111"/>
<circle cx="139.4" cy="481.9" r="1.15" fill="#111"/>
<circle cx="155.1" cy="481.3" r="1.15" fill="#111"/>
<circle cx="143.2" cy="480.4" r="1.15" fill="#111"/>
<circle cx="150.1" cy="481.4" r="1.15" fill="#111"/>
<circle cx="156.5" cy="463.1" r="1.15" fill="#111"/>
<circle cx="143.6" cy="484.1" r="1.15" fill="#111"/>
<circle cx="154.8" cy="468.4" r="1.15" fill="#111"/>
<circle cx="162.0" cy="466.0" r="1.15" fill="#111"/>
<circle cx="147.9" cy="480.2" r="1.15" fill="#111"/>
<circle cx="189.4" cy="466.2" r="1.15" fill="#111"/>
<circle cx="143.5" cy="480.5" r="1.15" fill="#111"/>
<circle cx="146.2" cy="482.8" r="1.15" fill="#111"/>
<circle cx="154.2" cy="480.3" r="1.15" fill="#111"/>
<circle cx="148.5" cy="482.8" r="1.15" fill="#111"/>
<circle cx="142.2" cy="481.6" r="1.15" fill="#111"/>
<circle cx="157.4" cy="478.3" r="1.15" fill="#111"/>
<circle cx="151.9" cy="479.4" r="1.15" fill="#111"/>
<circle cx="145.9" cy="482.6" r="1.15" fill="#111"/>
<circle cx="160.0" cy="468.7" r="1.15" fill="#111"/>
<circle cx="172.4" cy="465.9" r="1.15" fill="#111"/>
<circle cx="170.4" cy="464.1" r="1.15" fill="#111"/>
<circle cx="172.4" cy="466.0" r="1.15" fill="#111"/>
<circle cx="166.7" cy="474.0" r="1.15" fill="#111"/>
<circle cx="138.3" cy="482.1" r="1.15" fill="#111"/>
<circle cx="146.7" cy="481.6" r="1.15" fill="#111"/>
<circle cx="168.1" cy="475.4" r="1.15" fill="#111"/>
<circle cx="145.1" cy="481.6" r="1.15" fill="#111"/>
<circle cx="185.2" cy="472.2" r="1.15" fill="#111"/>
<circle cx="176.5" cy="464.5" r="1.15" fill="#111"/>
<circle cx="145.6" cy="477.0" r="1.15" fill="#111"/>
<circle cx="166.1" cy="476.5" r="1.15" fill="#111"/>
<circle cx="140.6" cy="483.7" r="1.15" fill="#111"/>
<circle cx="141.2" cy="484.8" r="1.15" fill="#111"/>
<circle cx="180.2" cy="473.7" r="1.15" fill="#111"/>
<circle cx="178.0" cy="463.6" r="1.15" fill="#111"/>
<circle cx="155.0" cy="476.8" r="1.15" fill="#111"/>
<circle cx="144.0" cy="482.1" r="1.15" fill="#111"/>
<circle cx="166.9" cy="473.4" r="1.15" fill="#111"/>
<circle cx="145.3" cy="480.1" r="1.15" fill="#111"/>
<circle cx="164.0" cy="472.5" r="1.15" fill="#111"/>
<circle cx="174.0" cy="475.2" r="1.15" fill="#111"/>
<circle cx="184.0" cy="469.4" r="1.15" fill="#111"/>
<circle cx="167.9" cy="471.8" r="1.15" fill="#111"/>
<circle cx="171.1" cy="468.9" r="1.15" fill="#111"/>
<circle cx="142.8" cy="484.6" r="1.15" fill="#111"/>
<circle cx="146.7" cy="480.5" r="1.15" fill="#111"/>
<circle cx="161.7" cy="469.9" r="1.15" fill="#111"/>
<circle cx="165.9" cy="475.9" r="1.15" fill="#111"/>
<circle cx="141.2" cy="480.4" r="1.15" fill="#111"/>
<circle cx="163.9" cy="479.0" r="1.15" fill="#111"/>
<circle cx="148.0" cy="475.0" r="1.15" fill="#111"/>
<circle cx="149.9" cy="469.5" r="1.15" fill="#111"/>
<circle cx="190.1" cy="467.1" r="1.15" fill="#111"/>
<circle cx="165.4" cy="476.4" r="1.15" fill="#111"/>
<circle cx="158.5" cy="480.5" r="1.15" fill="#111"/>
<circle cx="164.0" cy="476.5" r="1.15" fill="#111"/>
<circle cx="165.6" cy="476.8" r="1.15" fill="#111"/>
<circle cx="166.8" cy="476.2" r="1.15" fill="#111"/>
<circle cx="179.0" cy="467.6" r="1.15" fill="#111"/>
<circle cx="176.2" cy="473.1" r="1.15" fill="#111"/>
<circle cx="160.4" cy="465.1" r="1.15" fill="#111"/>
<circle cx="179.8" cy="463.6" r="1.15" fill="#111"/>
<circle cx="145.5" cy="483.3" r="1.15" fill="#111"/>
<circle cx="181.7" cy="471.1" r="1.15" fill="#111"/>
<circle cx="151.7" cy="480.4" r="1.15" fill="#111"/>
<circle cx="162.9" cy="468.6" r="1.15" fill="#111"/>
<circle cx="160.3" cy="472.2" r="1.15" fill="#111"/>
<circle cx="172.5" cy="472.4" r="1.15" fill="#111"/>
<circle cx="137.2" cy="483.7" r="1.15" fill="#111"/>
<circle cx="147.3" cy="475.5" r="1.15" fill="#111"/>
<circle cx="184.2" cy="465.5" r="1.15" fill="#111"/>
<circle cx="175.7" cy="475.7" r="1.15" fill="#111"/>
<circle cx="148.3" cy="472.8" r="1.15" fill="#111"/>
<circle cx="171.9" cy="471.5" r="1.15" fill="#111"/>
<circle cx="147.8" cy="483.8" r="1.15" fill="#111"/>
<circle cx="162.6" cy="473.5" r="1.15" fill="#111"/>
<circle cx="177.4" cy="465.1" r="1.15" fill="#111"/>
<circle cx="157.5" cy="467.6" r="1.15" fill="#111"/>
<circle cx="156.3" cy="463.1" r="1.15" fill="#111"/>
<circle cx="147.1" cy="478.1" r="1.15" fill="#111"/>
<circle cx="137.2" cy="484.4" r="1.15" fill="#111"/>
<circle cx="140.1" cy="482.3" r="1.15" fill="#111"/>
<circle cx="177.5" cy="463.2" r="1.15" fill="#111"/>
<circle cx="181.2" cy="468.2" r="1.15" fill="#111"/>
<circle cx="153.7" cy="467.0" r="1.15" fill="#111"/>
<circle cx="155.7" cy="480.1" r="1.15" fill="#111"/>
<circle cx="150.2" cy="482.0" r="1.15" fill="#111"/>
<circle cx="176.4" cy="464.7" r="1.15" fill="#111"/>
<circle cx="154.5" cy="478.7" r="1.15" fill="#111"/>
<circle cx="139.6" cy="483.7" r="1.15" fill="#111"/>
<circle cx="143.8" cy="484.4" r="1.15" fill="#111"/>
<circle cx="156.7" cy="463.1" r="1.15" fill="#111"/>
<circle cx="167.8" cy="477.4" r="1.15" fill="#111"/>
<circle cx="165.2" cy="464.6" r="1.15" fill="#111"/>
<circle cx="146.2" cy="479.1" r="1.15" fill="#111"/>
<circle cx="146.0" cy="482.1" r="1.15" fill="#111"/>
<circle cx="167.1" cy="464.1" r="1.15" fill="#111"/>
<circle cx="160.1" cy="475.7" r="1.15" fill="#111"/>
<circle cx="148.0" cy="478.0" r="1.15" fill="#111"/>
<circle cx="147.0" cy="480.7" r="1.15" fill="#111"/>
<circle cx="162.7" cy="477.2" r="1.15" fill="#111"/>
<circle cx="163.0" cy="472.2" r="1.15" fill="#111"/>
<circle cx="159.4" cy="480.4" r="1.15" fill="#111"/>
<circle cx="151.9" cy="480.4" r="1.15" fill="#111"/>
<circle cx="152.3" cy="469.3" r="1.15" fill="#111"/>
<circle cx="143.4" cy="484.6" r="1.15" fill="#111"/>
<circle cx="144.9" cy="481.3" r="1.15" fill="#111"/>
<circle cx="175.5" cy="476.4" r="1.15" fill="#111"/>
<circle cx="149.5" cy="481.4" r="1.15" fill="#111"/>
<circle cx="167.2" cy="469.7" r="1.15" fill="#111"/>
<circle cx="143.0" cy="482.7" r="1.15" fill="#111"/>
<circle cx="159.8" cy="478.1" r="1.15" fill="#111"/>
<circle cx="148.6" cy="482.9" r="1.15" fill="#111"/>
<circle cx="150.0" cy="469.1" r="1.15" fill="#111"/>
<circle cx="167.8" cy="468.7" r="1.15" fill="#111"/>
<circle cx="171.6" cy="475.9" r="1.15" fill="#111"/>
<circle cx="138.3" cy="482.7" r="1.15" fill="#111"/>
<circle cx="153.1" cy="481.5" r="1.15" fill="#111"/>
<circle cx="147.0" cy="482.2" r="1.15" fill="#111"/>
<circle cx="185.3" cy="468.9" r="1.15" fill="#111"/>
<circle cx="152.6" cy="480.9" r="1.15" fill="#111"/>
<circle cx="141.5" cy="483.3" r="1.15" fill="#111"/>
<circle cx="173.8" cy="464.7" r="1.15" fill="#111"/>
<circle cx="143.8" cy="480.7" r="1.15" fill="#111"/>
<circle cx="162.5" cy="479.6" r="1.15" fill="#111"/>
<circle cx="176.1" cy="468.0" r="1.15" fill="#111"/>
<circle cx="156.6" cy="478.0" r="1.15" fill="#111"/>
<circle cx="161.9" cy="467.4" r="1.15" fill="#111"/>
<circle cx="159.3" cy="479.6" r="1.15" fill="#111"/>
<circle cx="150.9" cy="473.1" r="1.15" fill="#111"/>
<circle cx="154.3" cy="480.9" r="1.15" fill="#111"/>
<circle cx="175.0" cy="468.0" r="1.15" fill="#111"/>
<circle cx="149.7" cy="482.9" r="1.15" fill="#111"/>
<circle cx="163.6" cy="474.5" r="1.15" fill="#111"/>
<circle cx="151.6" cy="476.0" r="1.15" fill="#111"/>
<circle cx="159.1" cy="467.1" r="1.15" fill="#111"/>
<circle cx="152.5" cy="478.5" r="1.15" fill="#111"/>
<circle cx="159.3" cy="475.4" r="1.15" fill="#111"/>
<circle cx="152.2" cy="474.4" r="1.15" fill="#111"/>
<circle cx="187.2" cy="463.8" r="1.15" fill="#111"/>
<circle cx="152.8" cy="471.2" r="1.15" fill="#111"/>
<circle cx="168.0" cy="477.0" r="1.15" fill="#111"/>
<circle cx="176.9" cy="466.3" r="1.15" fill="#111"/>
<circle cx="170.1" cy="470.5" r="1.15" fill="#111"/>
<circle cx="157.0" cy="463.3" r="1.15" fill="#111"/>
<circle cx="144.4" cy="485.0" r="1.15" fill="#111"/>
<circle cx="168.1" cy="473.7" r="1.15" fill="#111"/>
<circle cx="182.6" cy="468.7" r="1.15" fill="#111"/>
<circle cx="184.4" cy="472.3" r="1.15" fill="#111"/>
<circle cx="158.5" cy="480.0" r="1.15" fill="#111"/>
<circle cx="139.0" cy="484.4" r="1.15" fill="#111"/>
<circle cx="161.8" cy="463.6" r="1.15" fill="#111"/>
<circle cx="155.2" cy="466.8" r="1.15" fill="#111"/>
<circle cx="173.3" cy="463.9" r="1.15" fill="#111"/>
<circle cx="145.1" cy="482.3" r="1.15" fill="#111"/>
<circle cx="146.6" cy="484.0" r="1.15" fill="#111"/>
<circle cx="174.9" cy="464.2" r="1.15" fill="#111"/>
<circle cx="153.0" cy="471.7" r="1.15" fill="#111"/>
<circle cx="139.1" cy="484.3" r="1.15" fill="#111"/>
<circle cx="167.2" cy="475.4" r="1.15" fill="#111"/>
<circle cx="143.6" cy="484.2" r="1.15" fill="#111"/>
<circle cx="166.0" cy="471.6" r="1.15" fill="#111"/>
<circle cx="192.3" cy="466.4" r="1.15" fill="#111"/>
<circle cx="138.2" cy="485.0" r="1.15" fill="#111"/>
<circle cx="163.6" cy="463.7" r="1.15" fill="#111"/>
<circle cx="185.5" cy="470.7" r="1.15" fill="#111"/>
<circle cx="148.5" cy="483.1" r="1.15" fill="#111"/>
<circle cx="180.6" cy="463.9" r="1.15" fill="#111"/>
<circle cx="159.1" cy="478.7" r="1.15" fill="#111"/>
<circle cx="136.7" cy="484.9" r="1.15" fill="#111"/>
<circle cx="183.0" cy="466.0" r="1.15" fill="#111"/>
<circle cx="144.2" cy="483.8" r="1.15" fill="#111"/>
<circle cx="174.1" cy="469.5" r="1.15" fill="#111"/>
<circle cx="143.6" cy="479.8" r="1.15" fill="#111"/>
<circle cx="159.8" cy="470.1" r="1.15" fill="#111"/>
<circle cx="171.7" cy="465.6" r="1.15" fill="#111"/>
<circle cx="162.0" cy="466.6" r="1.15" fill="#111"/>
<circle cx="179.8" cy="466.0" r="1.15" fill="#111"/>
<circle cx="177.3" cy="463.1" r="1.15" fill="#111"/>
<circle cx="153.0" cy="467.2" r="1.15" fill="#111"/>
<circle cx="139.4" cy="483.6" r="1.15" fill="#111"/>
<circle cx="146.7" cy="483.7" r="1.15" fill="#111"/>
<circle cx="139.6" cy="482.7" r="1.15" fill="#111"/>
<circle cx="151.4" cy="472.8" r="1.15" fill="#111"/>
<circle cx="146.8" cy="483.6" r="1.15" fill="#111"/>
<circle cx="158.3" cy="476.9" r="1.15" fill="#111"/>
<circle cx="182.7" cy="470.4" r="1.15" fill="#111"/>
<circle cx="170.6" cy="473.5" r="1.15" fill="#111"/>
<circle cx="161.5" cy="466.0" r="1.15" fill="#111"/>
<circle cx="178.5" cy="464.1" r="1.15" fill="#111"/>
<circle cx="151.1" cy="475.2" r="1.15" fill="#111"/>
<circle cx="142.1" cy="482.3" r="1.15" fill="#111"/>
<circle cx="154.2" cy="472.0" r="1.15" fill="#111"/>
<circle cx="184.9" cy="468.9" r="1.15" fill="#111"/>
<circle cx="156.0" cy="470.3" r="1.15" fill="#111"/>
<circle cx="158.8" cy="473.8" r="1.15" fill="#111"/>
<circle cx="138.8" cy="483.0" r="1.15" fill="#111"/>
<circle cx="136.8" cy="484.7" r="1.15" fill="#111"/>
<circle cx="146.8" cy="482.8" r="1.15" fill="#111"/>
<circle cx="171.1" cy="467.5" r="1.15" fill="#111"/>
<circle cx="160.6" cy="469.2" r="1.15" fill="#111"/>
<circle cx="166.6" cy="467.3" r="1.15" fill="#111"/>
<circle cx="145.6" cy="485.0" r="1.15" fill="#111"/>
<circle cx="138.0" cy="483.5" r="1.15" fill="#111"/>
<circle cx="186.9" cy="469.3" r="1.15" fill="#111"/>
<circle cx="179.0" cy="464.1" r="1.15" fill="#111"/>
<circle cx="190.2" cy="469.4" r="1.15" fill="#111"/>
<circle cx="180.0" cy="463.2" r="1.15" fill="#111"/>
<circle cx="154.7" cy="470.4" r="1.15" fill="#111"/>
<circle cx="180.2" cy="462.8" r="1.15" fill="#111"/>
<circle cx="153.2" cy="474.6" r="1.15" fill="#111"/>
<circle cx="182.7" cy="472.5" r="1.15" fill="#111"/>
<circle cx="174.9" cy="467.7" r="1.15" fill="#111"/>
<circle cx="159.9" cy="465.9" r="1.15" fill="#111"/>
<circle cx="156.0" cy="480.1" r="1.15" fill="#111"/>
<circle cx="154.8" cy="467.2" r="1.15" fill="#111"/>
<circle cx="175.8" cy="464.8" r="1.15" fill="#111"/>
<circle cx="157.1" cy="473.9" r="1.15" fill="#111"/>
<circle cx="176.9" cy="467.4" r="1.15" fill="#111"/>
<circle cx="163.4" cy="478.7" r="1.15" fill="#111"/>
<circle cx="152.2" cy="475.9" r="1.15" fill="#111"/>
<circle cx="179.5" cy="464.3" r="1.15" fill="#111"/>
<circle cx="176.3" cy="471.9" r="1.15" fill="#111"/>
<circle cx="181.7" cy="464.0" r="1.15" fill="#111"/>
<circle cx="183.6" cy="470.3" r="1.15" fill="#111"/>
<circle cx="145.9" cy="482.2" r="1.15" fill="#111"/>
<circle cx="183.0" cy="463.1" r="1.15" fill="#111"/>
<circle cx="179.6" cy="473.5" r="1.15" fill="#111"/>
<circle cx="158.0" cy="468.8" r="1.15" fill="#111"/>
<circle cx="145.4" cy="481.4" r="1.15" fill="#111"/>
<circle cx="196.1" cy="466.5" r="1.15" fill="#111"/>
<circle cx="176.9" cy="476.1" r="1.15" fill="#111"/>
<circle cx="185.3" cy="474.4" r="1.15" fill="#111"/>
<circle cx="183.4" cy="474.4" r="1.15" fill="#111"/>
<circle cx="171.4" cy="478.8" r="1.15" fill="#111"/>
<circle cx="154.9" cy="482.2" r="1.15" fill="#111"/>
<circle cx="169.6" cy="478.7" r="1.15" fill="#111"/>
<circle cx="164.2" cy="479.6" r="1.15" fill="#111"/>
<circle cx="156.5" cy="482.4" r="1.15" fill="#111"/>
<circle cx="187.6" cy="473.9" r="1.15" fill="#111"/>
<circle cx="185.1" cy="474.7" r="1.15" fill="#111"/>
<circle cx="193.0" cy="463.3" r="1.15" fill="#111"/>
<circle cx="194.4" cy="467.8" r="1.15" fill="#111"/>
<circle cx="192.2" cy="465.1" r="1.15" fill="#111"/>
<circle cx="157.7" cy="481.1" r="1.15" fill="#111"/>
<circle cx="194.8" cy="465.0" r="1.15" fill="#111"/>
<circle cx="193.4" cy="467.2" r="1.15" fill="#111"/>
<circle cx="180.0" cy="476.2" r="1.15" fill="#111"/>
<circle cx="186.8" cy="474.5" r="1.15" fill="#111"/>
<circle cx="196.2" cy="465.1" r="1.15" fill="#111"/>
<circle cx="167.5" cy="478.9" r="1.15" fill="#111"/>
<circle cx="194.8" cy="465.6" r="1.15" fill="#111"/>
<circle cx="185.4" cy="474.0" r="1.15" fill="#111"/>
<circle cx="194.2" cy="465.5" r="1.15" fill="#111"/>
<circle cx="196.1" cy="465.9" r="1.15" fill="#111"/>
<circle cx="154.6" cy="482.1" r="1.15" fill="#111"/>
<circle cx="183.1" cy="475.6" r="1.15" fill="#111"/>
<circle cx="198.9" cy="466.5" r="1.15" fill="#111"/>
<circle cx="149.2" cy="483.8" r="1.15" fill="#111"/>
<circle cx="196.5" cy="472.2" r="1.15" fill="#111"/>
<circle cx="184.5" cy="474.6" r="1.15" fill="#111"/>
<circle cx="150.1" cy="483.9" r="1.15" fill="#111"/>
<circle cx="193.9" cy="470.4" r="1.15" fill="#111"/>
<circle cx="197.0" cy="470.3" r="1.15" fill="#111"/>
<circle cx="147.9" cy="484.8" r="1.15" fill="#111"/>
<circle cx="152.6" cy="483.2" r="1.15" fill="#111"/>
<circle cx="155.4" cy="481.8" r="1.15" fill="#111"/>
<circle cx="189.0" cy="474.4" r="1.15" fill="#111"/>
<circle cx="149.0" cy="483.7" r="1.15" fill="#111"/>
<circle cx="193.9" cy="472.3" r="1.15" fill="#111"/>
<circle cx="196.7" cy="471.0" r="1.15" fill="#111"/>
<circle cx="191.6" cy="464.4" r="1.15" fill="#111"/>
<circle cx="183.3" cy="474.1" r="1.15" fill="#111"/>
<circle cx="198.6" cy="465.9" r="1.15" fill="#111"/>
<circle cx="165.5" cy="480.2" r="1.15" fill="#111"/>
<circle cx="178.7" cy="477.0" r="1.15" fill="#111"/>
<circle cx="155.3" cy="482.6" r="1.15" fill="#111"/>
<circle cx="191.3" cy="463.6" r="1.15" fill="#111"/>
<circle cx="199.7" cy="468.8" r="1.15" fill="#111"/>
<circle cx="198.1" cy="468.9" r="1.15" fill="#111"/>
<circle cx="151.0" cy="483.5" r="1.15" fill="#111"/>
<circle cx="197.7" cy="468.4" r="1.15" fill="#111"/>
<circle cx="196.6" cy="472.5" r="1.15" fill="#111"/>
<circle cx="195.2" cy="469.2" r="1.15" fill="#111"/>
<circle cx="173.8" cy="477.3" r="1.15" fill="#111"/>
<circle cx="182.7" cy="476.1" r="1.15" fill="#111"/>
<circle cx="184.5" cy="474.3" r="1.15" fill="#111"/>
<circle cx="189.7" cy="473.2" r="1.15" fill="#111"/>
<circle cx="193.8" cy="466.1" r="1.15" fill="#111"/>
<circle cx="194.0" cy="465.7" r="1.15" fill="#111"/>
<circle cx="124.4" cy="473.5" r="1.15" fill="#111"/>
<circle cx="133.7" cy="472.9" r="1.15" fill="#111"/>
<circle cx="136.3" cy="472.3" r="1.15" fill="#111"/>
<circle cx="120.2" cy="479.0" r="1.15" fill="#111"/>
<circle cx="127.3" cy="479.0" r="1.15" fill="#111"/>
<circle cx="131.3" cy="478.0" r="1.15" fill="#111"/>
<circle cx="134.2" cy="480.4" r="1.15" fill="#111"/>
<circle cx="135.4" cy="482.1" r="1.15" fill="#111"/>
<circle cx="137.7" cy="482.7" r="1.15" fill="#111"/>
<circle cx="140.0" cy="479.8" r="1.15" fill="#111"/>
<circle cx="140.6" cy="483.3" r="1.15" fill="#111"/>
<circle cx="142.3" cy="483.8" r="1.15" fill="#111"/>
<circle cx="144.6" cy="484.4" r="1.15" fill="#111"/>
<circle cx="195.0" cy="466.0" r="1.15" fill="#111"/>
<circle cx="199.0" cy="468.0" r="1.15" fill="#111"/>
<circle cx="203.0" cy="471.0" r="1.15" fill="#111"/>
<circle cx="206.0" cy="467.0" r="1.15" fill="#111"/>
<circle cx="209.0" cy="470.0" r="1.15" fill="#111"/>
<circle cx="201.0" cy="464.5" r="1.15" fill="#111"/>
<circle cx="213.0" cy="468.0" r="1.15" fill="#111"/>
<circle cx="198.0" cy="472.0" r="1.15" fill="#111"/>
<circle cx="166.2" cy="440.7" r="1.15" fill="#1f77b4"/>
<circle cx="161.2" cy="440.2" r="1.15" fill="#1f77b4"/>
<circle cx="180.0" cy="441.2" r="1.15" fill="#1f77b4"/>
<circle cx="173.3" cy="441.4" r="1.15" fill="#1f77b4"/>
<circle cx="164.0" cy="441.6" r="1.15" fill="#1f77b4"/>
<circle cx="170.5" cy="441.8" r="1.15" fill="#1f77b4"/>
<circle cx="174.3" cy="441.2" r="1.15" fill="#1f77b4"/>
<circle cx="166.8" cy="440.9" r="1.15" fill="#1f77b4"/>
<circle cx="164.5" cy="440.1" r="1.15" fill="#1f77b4"/>
<circle cx="168.6" cy="441.1" r="1.15" fill="#1f77b4"/>
<circle cx="159.3" cy="441.3" r="1.15" fill="#1f77b4"/>
<circle cx="180.5" cy="440.5" r="1.15" fill="#1f77b4"/>
<circle cx="172.9" cy="440.1" r="1.15" fill="#1f77b4"/>
<circle cx="166.1" cy="441.0" r="1.15" fill="#1f77b4"/>
<circle cx="166.4" cy="442.8" r="1.15" fill="#1f77b4"/>
<circle cx="163.0" cy="442.0" r="1.15" fill="#1f77b4"/>
<circle cx="180.8" cy="439.5" r="1.15" fill="#1f77b4"/>
<circle cx="160.6" cy="440.8" r="1.15" fill="#1f77b4"/>
<circle cx="170.0" cy="440.7" r="1.15" fill="#1f77b4"/>
<circle cx="161.7" cy="441.9" r="1.15" fill="#1f77b4"/>
<circle cx="183.0" cy="440.1" r="1.15" fill="#1f77b4"/>
<circle cx="162.9" cy="441.9" r="1.15" fill="#1f77b4"/>
<circle cx="167.8" cy="440.5" r="1.15" fill="#1f77b4"/>
<circle cx="174.4" cy="441.7" r="1.15" fill="#1f77b4"/>
<circle cx="179.5" cy="442.3" r="1.15" fill="#1f77b4"/>
<circle cx="177.5" cy="441.1" r="1.15" fill="#1f77b4"/>
<circle cx="178.0" cy="441.9" r="1.15" fill="#1f77b4"/>
<circle cx="178.6" cy="441.0" r="1.15" fill="#1f77b4"/>
<circle cx="181.9" cy="441.8" r="1.15" fill="#1f77b4"/>
<circle cx="180.8" cy="439.7" r="1.15" fill="#1f77b4"/>
<circle cx="178.1" cy="439.3" r="1.15" fill="#1f77b4"/>
<circle cx="171.4" cy="441.4" r="1.15" fill="#1f77b4"/>
<circle cx="173.3" cy="442.7" r="1.15" fill="#1f77b4"/>
<circle cx="178.6" cy="440.8" r="1.15" fill="#1f77b4"/>
<circle cx="174.2" cy="442.4" r="1.15" fill="#1f77b4"/>
<circle cx="170.3" cy="440.6" r="1.15" fill="#1f77b4"/>
<circle cx="177.1" cy="440.9" r="1.15" fill="#1f77b4"/>
<circle cx="168.8" cy="440.3" r="1.15" fill="#1f77b4"/>
<circle cx="168.6" cy="441.2" r="1.15" fill="#1f77b4"/>
<circle cx="178.7" cy="440.4" r="1.15" fill="#1f77b4"/>
<circle cx="171.9" cy="451.5" r="1.15" fill="#1f77b4"/>
<circle cx="162.2" cy="447.4" r="1.15" fill="#1f77b4"/>
<circle cx="161.2" cy="446.0" r="1.15" fill="#1f77b4"/>
<circle cx="174.7" cy="448.8" r="1.15" fill="#1f77b4"/>
<circle cx="187.0" cy="443.9" r="1.15" fill="#1f77b4"/>
<circle cx="184.1" cy="446.2" r="1.15" fill="#1f77b4"/>
<circle cx="188.4" cy="451.4" r="1.15" fill="#1f77b4"/>
<circle cx="169.5" cy="445.0" r="1.15" fill="#1f77b4"/>
<circle cx="158.1" cy="452.1" r="1.15" fill="#1f77b4"/>
<circle cx="174.1" cy="443.5" r="1.15" fill="#1f77b4"/>
<circle cx="187.0" cy="448.0" r="1.15" fill="#1f77b4"/>
<circle cx="173.2" cy="450.7" r="1.15" fill="#1f77b4"/>
<circle cx="172.5" cy="453.0" r="1.15" fill="#1f77b4"/>
<circle cx="178.3" cy="448.2" r="1.15" fill="#1f77b4"/>
<circle cx="167.3" cy="446.9" r="1.15" fill="#1f77b4"/>
<circle cx="167.1" cy="448.9" r="1.15" fill="#1f77b4"/>
<circle cx="178.0" cy="452.5" r="1.15" fill="#1f77b4"/>
<circle cx="160.0" cy="448.3" r="1.15" fill="#1f77b4"/>
<circle cx="168.7" cy="446.7" r="1.15" fill="#1f77b4"/>
<circle cx="174.4" cy="448.6" r="1.15" fill="#1f77b4"/>
<circle cx="188.6" cy="451.8" r="1.15" fill="#1f77b4"/>
<circle cx="170.0" cy="447.9" r="1.15" fill="#1f77b4"/>
<circle cx="189.9" cy="449.2" r="1.15" fill="#1f77b4"/>
<circle cx="172.9" cy="446.4" r="1.15" fill="#1f77b4"/>
<circle cx="161.8" cy="451.2" r="1.15" fill="#1f77b4"/>
<circle cx="189.2" cy="446.2" r="1.15" fill="#1f77b4"/>
<circle cx="172.4" cy="451.3" r="1.15" fill="#1f77b4"/>
<circle cx="186.0" cy="444.1" r="1.15" fill="#1f77b4"/>
<circle cx="183.2" cy="449.9" r="1.15" fill="#1f77b4"/>
<circle cx="185.8" cy="452.9" r="1.15" fill="#1f77b4"/>
<circle cx="161.5" cy="447.2" r="1.15" fill="#1f77b4"/>
<circle cx="172.3" cy="445.9" r="1.15" fill="#1f77b4"/>
<circle cx="162.3" cy="448.0" r="1.15" fill="#1f77b4"/>
<circle cx="176.4" cy="444.8" r="1.15" fill="#1f77b4"/>
<circle cx="167.2" cy="449.0" r="1.15" fill="#1f77b4"/>
<circle cx="176.6" cy="452.9" r="1.15" fill="#1f77b4"/>
<circle cx="169.0" cy="443.4" r="1.15" fill="#1f77b4"/>
<circle cx="165.7" cy="450.9" r="1.15" fill="#1f77b4"/>
<circle cx="158.0" cy="449.9" r="1.15" fill="#1f77b4"/>
<circle cx="184.0" cy="446.0" r="1.15" fill="#1f77b4"/>
<circle cx="177.7" cy="448.9" r="1.15" fill="#1f77b4"/>
<circle cx="171.9" cy="445.0" r="1.15" fill="#1f77b4"/>
<circle cx="164.5" cy="448.5" r="1.15" fill="#1f77b4"/>
<circle cx="173.0" cy="449.5" r="1.15" fill="#1f77b4"/>
<circle cx="174.5" cy="453.0" r="1.15" fill="#1f77b4"/>
<circle cx="160.6" cy="447.1" r="1.15" fill="#1f77b4"/>
<circle cx="181.0" cy="444.6" r="1.15" fill="#1f77b4"/>
<circle cx="160.0" cy="444.1" r="1.15" fill="#1f77b4"/>
<circle cx="172.7" cy="444.7" r="1.15" fill="#1f77b4"/>
<circle cx="175.8" cy="451.2" r="1.15" fill="#1f77b4"/>
<circle cx="158.1" cy="461.1" r="1.15" fill="#1f77b4"/>
<circle cx="180.4" cy="453.1" r="1.15" fill="#1f77b4"/>
<circle cx="178.4" cy="456.2" r="1.15" fill="#1f77b4"/>
<circle cx="160.8" cy="456.5" r="1.15" fill="#1f77b4"/>
<circle cx="159.0" cy="455.7" r="1.15" fill="#1f77b4"/>
<circle cx="173.7" cy="462.0" r="1.15" fill="#1f77b4"/>
<circle cx="169.3" cy="456.5" r="1.15" fill="#1f77b4"/>
<circle cx="158.0" cy="456.9" r="1.15" fill="#1f77b4"/>
<circle cx="173.7" cy="461.9" r="1.15" fill="#1f77b4"/>
<circle cx="168.9" cy="462.6" r="1.15" fill="#1f77b4"/>
<circle cx="163.0" cy="459.2" r="1.15" fill="#1f77b4"/>
<circle cx="186.4" cy="453.4" r="1.15" fill="#1f77b4"/>
<circle cx="165.0" cy="461.5" r="1.15" fill="#1f77b4"/>
<circle cx="182.1" cy="462.0" r="1.15" fill="#1f77b4"/>
<circle cx="174.4" cy="456.0" r="1.15" fill="#1f77b4"/>
<circle cx="170.8" cy="462.6" r="1.15" fill="#1f77b4"/>
<circle cx="162.9" cy="462.5" r="1.15" fill="#1f77b4"/>
<circle cx="178.5" cy="456.9" r="1.15" fill="#1f77b4"/>
<circle cx="164.8" cy="455.2" r="1.15" fill="#1f77b4"/>
<circle cx="170.4" cy="461.8" r="1.15" fill="#1f77b4"/>
<circle cx="162.9" cy="460.9" r="1.15" fill="#1f77b4"/>
<circle cx="166.3" cy="454.7" r="1.15" fill="#1f77b4"/>
<circle cx="187.9" cy="454.9" r="1.15" fill="#1f77b4"/>
<circle cx="173.0" cy="455.9" r="1.15" fill="#1f77b4"/>
<circle cx="172.1" cy="454.1" r="1.15" fill="#1f77b4"/>
<circle cx="167.8" cy="456.9" r="1.15" fill="#1f77b4"/>
<circle cx="159.6" cy="453.7" r="1.15" fill="#1f77b4"/>
<circle cx="166.1" cy="461.3" r="1.15" fill="#1f77b4"/>
<circle cx="161.4" cy="455.4" r="1.15" fill="#1f77b4"/>
<circle cx="162.7" cy="455.8" r="1.15" fill="#1f77b4"/>
<circle cx="176.6" cy="453.3" r="1.15" fill="#1f77b4"/>
<circle cx="160.4" cy="456.4" r="1.15" fill="#1f77b4"/>
<circle cx="158.8" cy="460.1" r="1.15" fill="#1f77b4"/>
<circle cx="182.8" cy="455.7" r="1.15" fill="#1f77b4"/>
<circle cx="169.1" cy="454.3" r="1.15" fill="#1f77b4"/>
<circle cx="181.7" cy="461.4" r="1.15" fill="#1f77b4"/>
<circle cx="166.2" cy="454.6" r="1.15" fill="#1f77b4"/>
<circle cx="166.9" cy="460.2" r="1.15" fill="#1f77b4"/>
<circle cx="161.9" cy="462.6" r="1.15" fill="#1f77b4"/>
<circle cx="171.1" cy="462.5" r="1.15" fill="#1f77b4"/>
<circle cx="169.4" cy="455.3" r="1.15" fill="#1f77b4"/>
<circle cx="178.1" cy="454.3" r="1.15" fill="#1f77b4"/>
<circle cx="185.2" cy="455.6" r="1.15" fill="#1f77b4"/>
<circle cx="166.6" cy="458.9" r="1.15" fill="#1f77b4"/>
<circle cx="174.6" cy="455.5" r="1.15" fill="#1f77b4"/>
<circle cx="184.2" cy="455.1" r="1.15" fill="#1f77b4"/>
<circle cx="171.4" cy="454.2" r="1.15" fill="#1f77b4"/>
<circle cx="163.7" cy="458.4" r="1.15" fill="#1f77b4"/>
<circle cx="167.2" cy="460.7" r="1.15" fill="#1f77b4"/>
<circle cx="173.2" cy="459.6" r="1.15" fill="#1f77b4"/>
<circle cx="167.3" cy="456.1" r="1.15" fill="#1f77b4"/>
<circle cx="161.0" cy="453.9" r="1.15" fill="#1f77b4"/>
<circle cx="165.2" cy="461.5" r="1.15" fill="#1f77b4"/>
<circle cx="159.2" cy="459.6" r="1.15" fill="#1f77b4"/>
<circle cx="166.4" cy="458.6" r="1.15" fill="#1f77b4"/>
<circle cx="195.0" cy="446.0" r="1.15" fill="#1f77b4"/>
<circle cx="200.0" cy="450.0" r="1.15" fill="#1f77b4"/>
<circle cx="204.0" cy="455.0" r="1.15" fill="#1f77b4"/>
<circle cx="208.0" cy="449.0" r="1.15" fill="#1f77b4"/>
<circle cx="210.0" cy="458.0" r="1.15" fill="#1f77b4"/>
<circle cx="199.0" cy="460.0" r="1.15" fill="#1f77b4"/>
<circle cx="205.0" cy="461.0" r="1.15" fill="#1f77b4"/>
<circle cx="213.0" cy="452.0" r="1.15" fill="#1f77b4"/>
<circle cx="196.0" cy="456.0" r="1.15" fill="#1f77b4"/>
<circle cx="202.0" cy="444.0" r="1.15" fill="#1f77b4"/>
<circle cx="253.0" cy="452.7" r="1.15" fill="#1f77b4"/>
<circle cx="173.0" cy="381.2" r="1.15" fill="#1f77b4"/>
<circle cx="167.0" cy="401.6" r="1.15" fill="#1f77b4"/>
<circle cx="167.7" cy="406.2" r="1.15" fill="#1f77b4"/>
<circle cx="165.4" cy="418.8" r="1.15" fill="#1f77b4"/>
<circle cx="172.0" cy="422.0" r="1.15" fill="#1f77b4"/>
<circle cx="168.0" cy="428.0" r="1.15" fill="#1f77b4"/>
<circle cx="175.0" cy="432.0" r="1.15" fill="#1f77b4"/>
<circle cx="171.0" cy="436.0" r="1.15" fill="#1f77b4"/>
<circle cx="178.0" cy="437.0" r="1.15" fill="#1f77b4"/>
<circle cx="166.0" cy="434.0" r="1.15" fill="#1f77b4"/>
<circle cx="161.0" cy="432.0" r="1.15" fill="#1f77b4"/>
<circle cx="181.0" cy="429.0" r="1.15" fill="#1f77b4"/>
<circle cx="176.7" cy="254.1" r="1.15" fill="#d42a2a"/>
<circle cx="117.9" cy="362.9" r="1.15" fill="#d42a2a"/>
<circle cx="129.0" cy="472.0" r="1.15" fill="#b03030"/>
<line x1="168.5" y1="388.7" x2="167.7" y2="406.2" stroke="#2a6d9c" stroke-width="0.45"/>
<line x1="179.5" y1="405.3" x2="178" y2="409.6" stroke="#2a6d9c" stroke-width="0.45"/>
<line x1="175" y1="417.6" x2="171.5" y2="433" stroke="#2a6d9c" stroke-width="0.45"/>
<line x1="176.2" y1="417.6" x2="172.7" y2="433" stroke="#2a6d9c" stroke-width="0.45"/>
<line x1="210.9" y1="405.2" x2="201" y2="414.5" stroke="#2a6d9c" stroke-width="0.45"/>
<line x1="189" y1="421.8" x2="182" y2="427.5" stroke="#2a6d9c" stroke-width="0.45"/>
<line x1="182" y1="434.4" x2="178" y2="438" stroke="#2a6d9c" stroke-width="0.45"/>
<line x1="204.6" y1="420.4" x2="193" y2="427.2" stroke="#2a6d9c" stroke-width="0.45"/>
<line x1="234.6" y1="418.3" x2="185.5" y2="439.4" stroke="#2a6d9c" stroke-width="0.45"/>
<line x1="234.6" y1="419.3" x2="186" y2="440" stroke="#2a6d9c" stroke-width="0.45"/>
<line x1="213.8" y1="430" x2="184.4" y2="439.4" stroke="#2a6d9c" stroke-width="0.45"/>
<line x1="213.8" y1="431" x2="185" y2="440.2" stroke="#2a6d9c" stroke-width="0.45"/>
<line x1="200.2" y1="441.5" x2="183" y2="441" stroke="#2a6d9c" stroke-width="0.45"/>
<line x1="163.3" y1="429.5" x2="167.5" y2="438.4" stroke="#2a6d9c" stroke-width="0.45"/>
<line x1="153.2" y1="439" x2="163.3" y2="439.8" stroke="#2a6d9c" stroke-width="0.45"/>
<line x1="157.5" y1="455" x2="163" y2="446" stroke="#2a6d9c" stroke-width="0.45"/>
<line x1="132.5" y1="426" x2="137.9" y2="426" stroke="#2a6d9c" stroke-width="0.45"/>
<line x1="160.8" y1="414.5" x2="165.4" y2="418.7" stroke="#2a6d9c" stroke-width="0.45"/>
<line x1="192" y1="431" x2="183" y2="437" stroke="#2a6d9c" stroke-width="0.45"/>
<line x1="210.8" y1="388.7" x2="196" y2="412" stroke="#2a6d9c" stroke-width="0.45"/>
<rect x="168.5" y="370.8" width="21.8" height="8.4" rx="1.2" fill="#ffffff" fill-opacity="0.92" stroke="#8fbcd8" stroke-width="0.7"/>
<text x="179.4" y="377.5" font-size="7.0" font-weight="normal" font-style="normal" text-anchor="middle" fill="#2a6d9c" textLength="18.6" lengthAdjust="spacingAndGlyphs" stroke="#2a6d9c" stroke-width="0.2" >ASXL1</text>
<rect x="168.5" y="384.7" width="23.8" height="8.0" rx="1.2" fill="#ffffff" fill-opacity="0.92" stroke="#8fbcd8" stroke-width="0.7"/>
<text x="180.4" y="391.2" font-size="7.0" font-weight="normal" font-style="normal" text-anchor="middle" fill="#2a6d9c" textLength="20.6" lengthAdjust="spacingAndGlyphs" stroke="#2a6d9c" stroke-width="0.2" >NTRK3</text>
<rect x="140" y="396.5" width="23.8" height="7.7" rx="1.2" fill="#ffffff" fill-opacity="0.92" stroke="#8fbcd8" stroke-width="0.7"/>
<text x="151.9" y="402.9" font-size="7.0" font-weight="normal" font-style="normal" text-anchor="middle" fill="#2a6d9c" textLength="20.6" lengthAdjust="spacingAndGlyphs" stroke="#2a6d9c" stroke-width="0.2" >RBM10</text>
<rect x="181" y="397.3" width="25.2" height="8.0" rx="1.2" fill="#ffffff" fill-opacity="0.92" stroke="#8fbcd8" stroke-width="0.7"/>
<text x="193.6" y="403.8" font-size="7.0" font-weight="normal" font-style="normal" text-anchor="middle" fill="#2a6d9c" textLength="22.0" lengthAdjust="spacingAndGlyphs" stroke="#2a6d9c" stroke-width="0.2" >PRKDC</text>
<rect x="140.8" y="409.6" width="20.0" height="7.7" rx="1.2" fill="#ffffff" fill-opacity="0.92" stroke="#8fbcd8" stroke-width="0.7"/>
<text x="150.8" y="416.0" font-size="7.0" font-weight="normal" font-style="normal" text-anchor="middle" fill="#2a6d9c" textLength="16.8" lengthAdjust="spacingAndGlyphs" stroke="#2a6d9c" stroke-width="0.2" >ATRX</text>
<rect x="165.4" y="409.6" width="19.2" height="8.0" rx="1.2" fill="#ffffff" fill-opacity="0.92" stroke="#8fbcd8" stroke-width="0.7"/>
<text x="175.0" y="416.1" font-size="7.0" font-weight="normal" font-style="normal" text-anchor="middle" fill="#2a6d9c" textLength="16.0" lengthAdjust="spacingAndGlyphs" stroke="#2a6d9c" stroke-width="0.2" >TERT</text>
<rect x="187.7" y="414.5" width="16.1" height="7.7" rx="1.2" fill="#ffffff" fill-opacity="0.92" stroke="#8fbcd8" stroke-width="0.7"/>
<text x="195.8" y="420.9" font-size="7.0" font-weight="normal" font-style="normal" text-anchor="middle" fill="#2a6d9c" textLength="12.9" lengthAdjust="spacingAndGlyphs" stroke="#2a6d9c" stroke-width="0.2" >TET1</text>
<rect x="210.8" y="384.6" width="17.4" height="8.2" rx="1.2" fill="#ffffff" fill-opacity="0.92" stroke="#8fbcd8" stroke-width="0.7"/>
<text x="219.5" y="391.2" font-size="7.0" font-weight="normal" font-style="normal" text-anchor="middle" fill="#2a6d9c" textLength="14.2" lengthAdjust="spacingAndGlyphs" stroke="#2a6d9c" stroke-width="0.2" >WAS</text>
<rect x="210.8" y="399.5" width="37.4" height="8.2" rx="1.2" fill="#ffffff" fill-opacity="0.92" stroke="#8fbcd8" stroke-width="0.7"/>
<text x="229.5" y="406.1" font-size="7.0" font-weight="normal" font-style="normal" text-anchor="middle" fill="#2a6d9c" textLength="34.2" lengthAdjust="spacingAndGlyphs" stroke="#2a6d9c" stroke-width="0.2" >ARHGAP35</text>
<rect x="204.6" y="412.8" width="25.7" height="8.0" rx="1.2" fill="#ffffff" fill-opacity="0.92" stroke="#8fbcd8" stroke-width="0.7"/>
<text x="217.4" y="419.3" font-size="7.0" font-weight="normal" font-style="normal" text-anchor="middle" fill="#2a6d9c" textLength="22.5" lengthAdjust="spacingAndGlyphs" stroke="#2a6d9c" stroke-width="0.2" >INPP4A</text>
<rect x="234.6" y="412.8" width="24.6" height="8.0" rx="1.2" fill="#ffffff" fill-opacity="0.92" stroke="#8fbcd8" stroke-width="0.7"/>
<text x="246.9" y="419.3" font-size="7.0" font-weight="normal" font-style="normal" text-anchor="middle" fill="#2a6d9c" textLength="21.4" lengthAdjust="spacingAndGlyphs" stroke="#2a6d9c" stroke-width="0.2" >NTRK2</text>
<rect x="213.8" y="425.4" width="25.7" height="7.7" rx="1.2" fill="#ffffff" fill-opacity="0.92" stroke="#8fbcd8" stroke-width="0.7"/>
<text x="226.7" y="431.8" font-size="7.0" font-weight="normal" font-style="normal" text-anchor="middle" fill="#2a6d9c" textLength="22.5" lengthAdjust="spacingAndGlyphs" stroke="#2a6d9c" stroke-width="0.2" >STAT5B</text>
<rect x="107.7" y="422" width="24.8" height="8.0" rx="1.2" fill="#ffffff" fill-opacity="0.92" stroke="#8fbcd8" stroke-width="0.7"/>
<text x="120.1" y="428.5" font-size="7.0" font-weight="normal" font-style="normal" text-anchor="middle" fill="#2a6d9c" textLength="21.6" lengthAdjust="spacingAndGlyphs" stroke="#2a6d9c" stroke-width="0.2" >ARID1B</text>
<rect x="137.9" y="422.3" width="26.8" height="7.2" rx="1.2" fill="#ffffff" fill-opacity="0.92" stroke="#8fbcd8" stroke-width="0.7"/>
<text x="151.3" y="428.4" font-size="7.0" font-weight="normal" font-style="normal" text-anchor="middle" fill="#2a6d9c" textLength="23.6" lengthAdjust="spacingAndGlyphs" stroke="#2a6d9c" stroke-width="0.2" >ARID1A</text>
<rect x="176.2" y="427.2" width="15.8" height="7.2" rx="1.2" fill="#ffffff" fill-opacity="0.92" stroke="#8fbcd8" stroke-width="0.7"/>
<text x="184.1" y="433.3" font-size="7.0" font-weight="normal" font-style="normal" text-anchor="middle" fill="#2a6d9c" textLength="12.6" lengthAdjust="spacingAndGlyphs" stroke="#2a6d9c" stroke-width="0.2" >RIF1</text>
<rect x="133.8" y="435.9" width="19.4" height="7.1" rx="1.2" fill="#ffffff" fill-opacity="0.92" stroke="#8fbcd8" stroke-width="0.7"/>
<text x="143.5" y="441.9" font-size="7.0" font-weight="normal" font-style="normal" text-anchor="middle" fill="#2a6d9c" textLength="16.2" lengthAdjust="spacingAndGlyphs" stroke="#2a6d9c" stroke-width="0.2" >STK11</text>
<rect x="200.2" y="437.9" width="28.8" height="7.5" rx="1.2" fill="#ffffff" fill-opacity="0.92" stroke="#8fbcd8" stroke-width="0.7"/>
<text x="214.6" y="444.1" font-size="7.0" font-weight="normal" font-style="normal" text-anchor="middle" fill="#2a6d9c" textLength="25.6" lengthAdjust="spacingAndGlyphs" stroke="#2a6d9c" stroke-width="0.2" >BCORL1</text>
<rect x="141.6" y="452.3" width="15.9" height="7.2" rx="1.2" fill="#ffffff" fill-opacity="0.92" stroke="#8fbcd8" stroke-width="0.7"/>
<text x="149.6" y="458.4" font-size="7.0" font-weight="normal" font-style="normal" text-anchor="middle" fill="#2a6d9c" textLength="12.7" lengthAdjust="spacingAndGlyphs" stroke="#2a6d9c" stroke-width="0.2" >FLT1</text>
<rect x="159.4" y="256.7" width="21.2" height="8.1" rx="1.2" fill="#fff6f6" fill-opacity="0.92" stroke="#eaa0a0" stroke-width="0.7"/>
<text x="170.0" y="263.2" font-size="7.0" font-weight="normal" font-style="normal" text-anchor="middle" fill="#d43434" textLength="18.0" lengthAdjust="spacingAndGlyphs" stroke="#d43434" stroke-width="0.2" >KRAS</text>
<rect x="114.4" y="351.7" width="20.8" height="8.5" rx="1.2" fill="#fff6f6" fill-opacity="0.92" stroke="#eaa0a0" stroke-width="0.7"/>
<text x="124.8" y="358.4" font-size="7.0" font-weight="normal" font-style="normal" text-anchor="middle" fill="#d43434" textLength="17.6" lengthAdjust="spacingAndGlyphs" stroke="#d43434" stroke-width="0.2" >EGFR</text>
<rect x="112.5" y="460.4" width="19.5" height="8.1" rx="1.2" fill="#fff6f6" fill-opacity="0.92" stroke="#eaa0a0" stroke-width="0.7"/>
<text x="122.2" y="466.9" font-size="7.0" font-weight="normal" font-style="normal" text-anchor="middle" fill="#d43434" textLength="16.3" lengthAdjust="spacingAndGlyphs" stroke="#d43434" stroke-width="0.2" >TP53</text>
<text x="289.7" y="227.6" font-size="12.3" font-weight="bold" font-style="normal" text-anchor="start" fill="#000" stroke="#000" stroke-width="0.2" >D</text>
<line x1="314.4" y1="223.2" x2="315.5" y2="223.2" stroke="#444" stroke-width="0.4"/>
<text x="314.2" y="224.8" font-size="4.6" font-weight="normal" font-style="normal" text-anchor="end" fill="#333" >100</text>
<line x1="314.4" y1="229.4" x2="315.5" y2="229.4" stroke="#444" stroke-width="0.4"/>
<text x="314.2" y="231.0" font-size="4.6" font-weight="normal" font-style="normal" text-anchor="end" fill="#333" >75</text>
<line x1="314.4" y1="235.7" x2="315.5" y2="235.7" stroke="#444" stroke-width="0.4"/>
<text x="314.2" y="237.3" font-size="4.6" font-weight="normal" font-style="normal" text-anchor="end" fill="#333" >50</text>
<line x1="314.4" y1="241.9" x2="315.5" y2="241.9" stroke="#444" stroke-width="0.4"/>
<text x="314.2" y="243.5" font-size="4.6" font-weight="normal" font-style="normal" text-anchor="end" fill="#333" >25</text>
<line x1="314.4" y1="248.2" x2="315.5" y2="248.2" stroke="#444" stroke-width="0.4"/>
<text x="314.2" y="249.8" font-size="4.6" font-weight="normal" font-style="normal" text-anchor="end" fill="#333" >0</text>
<line x1="315.5" y1="222.8" x2="315.5" y2="248.5" stroke="#444" stroke-width="0.5"/>
<text x="0" y="0" font-size="4.6" fill="#333" text-anchor="middle" transform="translate(306.4,235) rotate(-90)">TMB</text>
<line x1="315.80" y1="248" x2="315.80" y2="245.3" stroke="#7c7c7c" stroke-width="0.4"/>
<line x1="316.20" y1="248" x2="316.20" y2="245.3" stroke="#7c7c7c" stroke-width="0.4"/>
<line x1="316.60" y1="248" x2="316.60" y2="245.6" stroke="#7c7c7c" stroke-width="0.4"/>
<line x1="317.00" y1="248" x2="317.00" y2="245.3" stroke="#7c7c7c" stroke-width="0.4"/>
<line x1="317.40" y1="248" x2="317.40" y2="244.3" stroke="#7c7c7c" stroke-width="0.4"/>
<line x1="317.80" y1="248" x2="317.80" y2="244.4" stroke="#7c7c7c" stroke-width="0.4"/>
<line x1="318.20" y1="248" x2="318.20" y2="245.6" stroke="#7c7c7c" stroke-width="0.4"/>
<line x1="318.60" y1="248" x2="318.60" y2="245.8" stroke="#7c7c7c" stroke-width="0.4"/>
<line x1="319.00" y1="248" x2="319.00" y2="244.7" stroke="#7c7c7c" stroke-width="0.4"/>
<line x1="319.40" y1="248" x2="319.40" y2="245.1" stroke="#7c7c7c" stroke-width="0.4"/>
<line x1="319.80" y1="248" x2="319.80" y2="244.7" stroke="#7c7c7c" stroke-width="0.4"/>
<line x1="320.20" y1="248" x2="320.20" y2="244.4" stroke="#7c7c7c" stroke-width="0.4"/>
<line x1="320.60" y1="248" x2="320.60" y2="244.8" stroke="#7c7c7c" stroke-width="0.4"/>
<line x1="321.00" y1="248" x2="321.00" y2="245.6" stroke="#7c7c7c" stroke-width="0.4"/>
<line x1="321.40" y1="248" x2="321.40" y2="242.3" stroke="#7c7c7c" stroke-width="0.4"/>
<line x1="321.80" y1="248" x2="321.80" y2="245.7" stroke="#7c7c7c" stroke-width="0.4"/>
<line x1="322.20" y1="248" x2="322.20" y2="245.5" stroke="#7c7c7c" stroke-width="0.4"/>
<line x1="322.60" y1="248" x2="322.60" y2="245.3" stroke="#7c7c7c" stroke-width="0.4"/>
<line x1="323.00" y1="248" x2="323.00" y2="245.7" stroke="#7c7c7c" stroke-width="0.4"/>
<line x1="323.40" y1="248" x2="323.40" y2="244.8" stroke="#7c7c7c" stroke-width="0.4"/>
<line x1="323.80" y1="248" x2="323.80" y2="244.5" stroke="#7c7c7c" stroke-width="0.4"/>
<line x1="324.20" y1="248" x2="324.20" y2="244.7" stroke="#7c7c7c" stroke-width="0.4"/>
<line x1="324.60" y1="248" x2="324.60" y2="245.1" stroke="#7c7c7c" stroke-width="0.4"/>
<line x1="325.00" y1="248" x2="325.00" y2="245.2" stroke="#7c7c7c" stroke-width="0.4"/>
<line x1="325.40" y1="248" x2="325.40" y2="244.5" stroke="#7c7c7c" stroke-width="0.4"/>
<line x1="325.80" y1="248" x2="325.80" y2="245.3" stroke="#7c7c7c" stroke-width="0.4"/>
<line x1="326.20" y1="248" x2="326.20" y2="244.4" stroke="#7c7c7c" stroke-width="0.4"/>
<line x1="326.60" y1="248" x2="326.60" y2="245.7" stroke="#7c7c7c" stroke-width="0.4"/>
<line x1="327.00" y1="248" x2="327.00" y2="245.6" stroke="#7c7c7c" stroke-width="0.4"/>
<line x1="327.40" y1="248" x2="327.40" y2="245.5" stroke="#7c7c7c" stroke-width="0.4"/>
<line x1="327.80" y1="248" x2="327.80" y2="242.3" stroke="#7c7c7c" stroke-width="0.4"/>
<line x1="328.20" y1="248" x2="328.20" y2="244.7" stroke="#7c7c7c" stroke-width="0.4"/>
<line x1="328.60" y1="248" x2="328.60" y2="244.6" stroke="#7c7c7c" stroke-width="0.4"/>
<line x1="329.00" y1="248" x2="329.00" y2="245.4" stroke="#7c7c7c" stroke-width="0.4"/>
<line x1="329.40" y1="248" x2="329.40" y2="244.3" stroke="#7c7c7c" stroke-width="0.4"/>
<line x1="329.80" y1="248" x2="329.80" y2="244.3" stroke="#7c7c7c" stroke-width="0.4"/>
<line x1="330.20" y1="248" x2="330.20" y2="244.6" stroke="#7c7c7c" stroke-width="0.4"/>
<line x1="330.60" y1="248" x2="330.60" y2="244.8" stroke="#7c7c7c" stroke-width="0.4"/>
<line x1="331.00" y1="248" x2="331.00" y2="245.7" stroke="#7c7c7c" stroke-width="0.4"/>
<line x1="331.40" y1="248" x2="331.40" y2="245.1" stroke="#7c7c7c" stroke-width="0.4"/>
<line x1="331.80" y1="248" x2="331.80" y2="244.3" stroke="#7c7c7c" stroke-width="0.4"/>
<line x1="332.20" y1="248" x2="332.20" y2="244.6" stroke="#7c7c7c" stroke-width="0.4"/>
<line x1="332.60" y1="248" x2="332.60" y2="244.7" stroke="#7c7c7c" stroke-width="0.4"/>
<line x1="333.00" y1="248" x2="333.00" y2="245.4" stroke="#7c7c7c" stroke-width="0.4"/>
<line x1="333.40" y1="248" x2="333.40" y2="244.2" stroke="#7c7c7c" stroke-width="0.4"/>
<line x1="333.80" y1="248" x2="333.80" y2="244.9" stroke="#7c7c7c" stroke-width="0.4"/>
<line x1="334.20" y1="248" x2="334.20" y2="245.7" stroke="#7c7c7c" stroke-width="0.4"/>
<line x1="334.60" y1="248" x2="334.60" y2="245.1" stroke="#7c7c7c" stroke-width="0.4"/>
<line x1="335.00" y1="248" x2="335.00" y2="245.3" stroke="#7c7c7c" stroke-width="0.4"/>
<line x1="335.40" y1="248" x2="335.40" y2="244.7" stroke="#7c7c7c" stroke-width="0.4"/>
<line x1="335.80" y1="248" x2="335.80" y2="245.4" stroke="#7c7c7c" stroke-width="0.4"/>
<line x1="336.20" y1="248" x2="336.20" y2="245.0" stroke="#7c7c7c" stroke-width="0.4"/>
<line x1="336.60" y1="248" x2="336.60" y2="244.3" stroke="#7c7c7c" stroke-width="0.4"/>
<line x1="337.00" y1="248" x2="337.00" y2="245.3" stroke="#7c7c7c" stroke-width="0.4"/>
<line x1="337.40" y1="248" x2="337.40" y2="245.6" stroke="#7c7c7c" stroke-width="0.4"/>
<line x1="337.80" y1="248" x2="337.80" y2="245.3" stroke="#7c7c7c" stroke-width="0.4"/>
<line x1="338.20" y1="248" x2="338.20" y2="244.9" stroke="#7c7c7c" stroke-width="0.4"/>
<line x1="338.60" y1="248" x2="338.60" y2="245.5" stroke="#7c7c7c" stroke-width="0.4"/>
<line x1="339.00" y1="248" x2="339.00" y2="244.8" stroke="#7c7c7c" stroke-width="0.4"/>
<line x1="339.40" y1="248" x2="339.40" y2="244.6" stroke="#7c7c7c" stroke-width="0.4"/>
<line x1="339.80" y1="248" x2="339.80" y2="245.6" stroke="#7c7c7c" stroke-width="0.4"/>
<line x1="340.20" y1="248" x2="340.20" y2="245.2" stroke="#7c7c7c" stroke-width="0.4"/>
<line x1="340.60" y1="248" x2="340.60" y2="245.7" stroke="#7c7c7c" stroke-width="0.4"/>
<line x1="341.00" y1="248" x2="341.00" y2="245.5" stroke="#7c7c7c" stroke-width="0.4"/>
<line x1="341.40" y1="248" x2="341.40" y2="245.1" stroke="#7c7c7c" stroke-width="0.4"/>
<line x1="341.80" y1="248" x2="341.80" y2="245.3" stroke="#7c7c7c" stroke-width="0.4"/>
<line x1="342.20" y1="248" x2="342.20" y2="245.2" stroke="#7c7c7c" stroke-width="0.4"/>
<line x1="342.60" y1="248" x2="342.60" y2="245.7" stroke="#7c7c7c" stroke-width="0.4"/>
<line x1="343.00" y1="248" x2="343.00" y2="244.2" stroke="#7c7c7c" stroke-width="0.4"/>
<line x1="343.40" y1="248" x2="343.40" y2="245.7" stroke="#7c7c7c" stroke-width="0.4"/>
<line x1="343.80" y1="248" x2="343.80" y2="244.2" stroke="#7c7c7c" stroke-width="0.4"/>
<line x1="344.20" y1="248" x2="344.20" y2="245.6" stroke="#7c7c7c" stroke-width="0.4"/>
<line x1="344.60" y1="248" x2="344.60" y2="245.1" stroke="#7c7c7c" stroke-width="0.4"/>
<line x1="345.00" y1="248" x2="345.00" y2="244.9" stroke="#7c7c7c" stroke-width="0.4"/>
<line x1="345.40" y1="248" x2="345.40" y2="244.3" stroke="#7c7c7c" stroke-width="0.4"/>
<line x1="345.80" y1="248" x2="345.80" y2="244.8" stroke="#7c7c7c" stroke-width="0.4"/>
<line x1="346.20" y1="248" x2="346.20" y2="242.5" stroke="#7c7c7c" stroke-width="0.4"/>
<line x1="346.60" y1="248" x2="346.60" y2="245.4" stroke="#7c7c7c" stroke-width="0.4"/>
<line x1="347.00" y1="248" x2="347.00" y2="245.8" stroke="#7c7c7c" stroke-width="0.4"/>
<line x1="347.40" y1="248" x2="347.40" y2="244.5" stroke="#7c7c7c" stroke-width="0.4"/>
<line x1="347.80" y1="248" x2="347.80" y2="245.5" stroke="#7c7c7c" stroke-width="0.4"/>
<line x1="348.20" y1="248" x2="348.20" y2="244.4" stroke="#7c7c7c" stroke-width="0.4"/>
<line x1="348.60" y1="248" x2="348.60" y2="244.0" stroke="#7c7c7c" stroke-width="0.4"/>
<line x1="349.00" y1="248" x2="349.00" y2="244.5" stroke="#7c7c7c" stroke-width="0.4"/>
<line x1="349.40" y1="248" x2="349.40" y2="245.3" stroke="#7c7c7c" stroke-width="0.4"/>
<line x1="349.80" y1="248" x2="349.80" y2="244.5" stroke="#7c7c7c" stroke-width="0.4"/>
<line x1="350.20" y1="248" x2="350.20" y2="245.2" stroke="#7c7c7c" stroke-width="0.4"/>
<line x1="350.60" y1="248" x2="350.60" y2="245.2" stroke="#7c7c7c" stroke-width="0.4"/>
<line x1="351.00" y1="248" x2="351.00" y2="245.4" stroke="#7c7c7c" stroke-width="0.4"/>
<line x1="351.40" y1="248" x2="351.40" y2="244.9" stroke="#7c7c7c" stroke-width="0.4"/>
<line x1="351.80" y1="248" x2="351.80" y2="244.5" stroke="#7c7c7c" stroke-width="0.4"/>
<line x1="352.20" y1="248" x2="352.20" y2="244.4" stroke="#7c7c7c" stroke-width="0.4"/>
<line x1="352.60" y1="248" x2="352.60" y2="243.0" stroke="#7c7c7c" stroke-width="0.4"/>
<line x1="353.00" y1="248" x2="353.00" y2="245.5" stroke="#7c7c7c" stroke-width="0.4"/>
<line x1="353.40" y1="248" x2="353.40" y2="244.9" stroke="#7c7c7c" stroke-width="0.4"/>
<line x1="353.80" y1="248" x2="353.80" y2="244.7" stroke="#7c7c7c" stroke-width="0.4"/>
<line x1="354.20" y1="248" x2="354.20" y2="245.1" stroke="#7c7c7c" stroke-width="0.4"/>
<line x1="354.60" y1="248" x2="354.60" y2="244.2" stroke="#7c7c7c" stroke-width="0.4"/>
<line x1="355.00" y1="248" x2="355.00" y2="245.1" stroke="#7c7c7c" stroke-width="0.4"/>
<line x1="355.40" y1="248" x2="355.40" y2="244.6" stroke="#7c7c7c" stroke-width="0.4"/>
<line x1="355.80" y1="248" x2="355.80" y2="244.5" stroke="#7c7c7c" stroke-width="0.4"/>
<line x1="356.20" y1="248" x2="356.20" y2="244.5" stroke="#7c7c7c" stroke-width="0.4"/>
<line x1="356.60" y1="248" x2="356.60" y2="245.3" stroke="#7c7c7c" stroke-width="0.4"/>
<line x1="357.00" y1="248" x2="357.00" y2="245.0" stroke="#7c7c7c" stroke-width="0.4"/>
<line x1="357.40" y1="248" x2="357.40" y2="245.3" stroke="#7c7c7c" stroke-width="0.4"/>
<line x1="357.80" y1="248" x2="357.80" y2="244.7" stroke="#7c7c7c" stroke-width="0.4"/>
<line x1="358.20" y1="248" x2="358.20" y2="244.4" stroke="#7c7c7c" stroke-width="0.4"/>
<line x1="358.60" y1="248" x2="358.60" y2="245.3" stroke="#7c7c7c" stroke-width="0.4"/>
<line x1="359.00" y1="248" x2="359.00" y2="244.9" stroke="#7c7c7c" stroke-width="0.4"/>
<line x1="359.40" y1="248" x2="359.40" y2="245.5" stroke="#7c7c7c" stroke-width="0.4"/>
<line x1="359.80" y1="248" x2="359.80" y2="245.3" stroke="#7c7c7c" stroke-width="0.4"/>
<line x1="360.20" y1="248" x2="360.20" y2="244.2" stroke="#7c7c7c" stroke-width="0.4"/>
<line x1="360.60" y1="248" x2="360.60" y2="241.9" stroke="#7c7c7c" stroke-width="0.4"/>
<line x1="361.00" y1="248" x2="361.00" y2="241.6" stroke="#7c7c7c" stroke-width="0.4"/>
<line x1="361.40" y1="248" x2="361.40" y2="244.5" stroke="#7c7c7c" stroke-width="0.4"/>
<line x1="361.80" y1="248" x2="361.80" y2="244.7" stroke="#7c7c7c" stroke-width="0.4"/>
<line x1="362.20" y1="248" x2="362.20" y2="245.3" stroke="#7c7c7c" stroke-width="0.4"/>
<line x1="362.60" y1="248" x2="362.60" y2="244.3" stroke="#7c7c7c" stroke-width="0.4"/>
<line x1="363.00" y1="248" x2="363.00" y2="244.8" stroke="#7c7c7c" stroke-width="0.4"/>
<line x1="363.40" y1="248" x2="363.40" y2="245.3" stroke="#7c7c7c" stroke-width="0.4"/>
<line x1="363.80" y1="248" x2="363.80" y2="245.8" stroke="#7c7c7c" stroke-width="0.4"/>
<line x1="364.20" y1="248" x2="364.20" y2="244.7" stroke="#7c7c7c" stroke-width="0.4"/>
<line x1="364.60" y1="248" x2="364.60" y2="245.7" stroke="#7c7c7c" stroke-width="0.4"/>
<line x1="365.00" y1="248" x2="365.00" y2="245.2" stroke="#7c7c7c" stroke-width="0.4"/>
<line x1="365.40" y1="248" x2="365.40" y2="245.1" stroke="#7c7c7c" stroke-width="0.4"/>
<line x1="365.80" y1="248" x2="365.80" y2="244.9" stroke="#7c7c7c" stroke-width="0.4"/>
<line x1="366.20" y1="248" x2="366.20" y2="245.6" stroke="#7c7c7c" stroke-width="0.4"/>
<line x1="366.60" y1="248" x2="366.60" y2="244.4" stroke="#7c7c7c" stroke-width="0.4"/>
<line x1="367.00" y1="248" x2="367.00" y2="245.6" stroke="#7c7c7c" stroke-width="0.4"/>
<line x1="367.40" y1="248" x2="367.40" y2="245.4" stroke="#7c7c7c" stroke-width="0.4"/>
<line x1="367.80" y1="248" x2="367.80" y2="245.0" stroke="#7c7c7c" stroke-width="0.4"/>
<line x1="368.20" y1="248" x2="368.20" y2="245.0" stroke="#7c7c7c" stroke-width="0.4"/>
<line x1="368.60" y1="248" x2="368.60" y2="245.4" stroke="#7c7c7c" stroke-width="0.4"/>
<line x1="369.00" y1="248" x2="369.00" y2="245.6" stroke="#7c7c7c" stroke-width="0.4"/>
<line x1="369.40" y1="248" x2="369.40" y2="244.9" stroke="#7c7c7c" stroke-width="0.4"/>
<line x1="369.80" y1="248" x2="369.80" y2="245.1" stroke="#7c7c7c" stroke-width="0.4"/>
<line x1="370.20" y1="248" x2="370.20" y2="245.1" stroke="#7c7c7c" stroke-width="0.4"/>
<line x1="370.60" y1="248" x2="370.60" y2="244.9" stroke="#7c7c7c" stroke-width="0.4"/>
<line x1="371.00" y1="248" x2="371.00" y2="244.6" stroke="#7c7c7c" stroke-width="0.4"/>
<line x1="371.40" y1="248" x2="371.40" y2="244.2" stroke="#7c7c7c" stroke-width="0.4"/>
<line x1="371.80" y1="248" x2="371.80" y2="245.6" stroke="#7c7c7c" stroke-width="0.4"/>
<line x1="372.20" y1="248" x2="372.20" y2="245.2" stroke="#7c7c7c" stroke-width="0.4"/>
<line x1="372.60" y1="248" x2="372.60" y2="244.3" stroke="#7c7c7c" stroke-width="0.4"/>
<line x1="373.00" y1="248" x2="373.00" y2="244.6" stroke="#7c7c7c" stroke-width="0.4"/>
<line x1="373.40" y1="248" x2="373.40" y2="244.6" stroke="#7c7c7c" stroke-width="0.4"/>
<line x1="373.80" y1="248" x2="373.80" y2="245.4" stroke="#7c7c7c" stroke-width="0.4"/>
<line x1="374.20" y1="248" x2="374.20" y2="245.8" stroke="#7c7c7c" stroke-width="0.4"/>
<line x1="374.60" y1="248" x2="374.60" y2="245.5" stroke="#7c7c7c" stroke-width="0.4"/>
<line x1="375.00" y1="248" x2="375.00" y2="244.7" stroke="#7c7c7c" stroke-width="0.4"/>
<line x1="375.40" y1="248" x2="375.40" y2="244.4" stroke="#7c7c7c" stroke-width="0.4"/>
<line x1="375.80" y1="248" x2="375.80" y2="244.4" stroke="#7c7c7c" stroke-width="0.4"/>
<line x1="376.20" y1="248" x2="376.20" y2="244.3" stroke="#7c7c7c" stroke-width="0.4"/>
<line x1="376.60" y1="248" x2="376.60" y2="245.5" stroke="#7c7c7c" stroke-width="0.4"/>
<line x1="377.00" y1="248" x2="377.00" y2="245.3" stroke="#7c7c7c" stroke-width="0.4"/>
<line x1="377.40" y1="248" x2="377.40" y2="244.7" stroke="#7c7c7c" stroke-width="0.4"/>
<line x1="377.80" y1="248" x2="377.80" y2="245.6" stroke="#7c7c7c" stroke-width="0.4"/>
<line x1="378.20" y1="248" x2="378.20" y2="244.6" stroke="#7c7c7c" stroke-width="0.4"/>
<line x1="378.60" y1="248" x2="378.60" y2="242.3" stroke="#7c7c7c" stroke-width="0.4"/>
<line x1="379.00" y1="248" x2="379.00" y2="244.8" stroke="#7c7c7c" stroke-width="0.4"/>
<line x1="379.40" y1="248" x2="379.40" y2="244.9" stroke="#7c7c7c" stroke-width="0.4"/>
<line x1="379.80" y1="248" x2="379.80" y2="245.6" stroke="#7c7c7c" stroke-width="0.4"/>
<line x1="380.20" y1="248" x2="380.20" y2="242.5" stroke="#7c7c7c" stroke-width="0.4"/>
<line x1="380.60" y1="248" x2="380.60" y2="245.5" stroke="#7c7c7c" stroke-width="0.4"/>
<line x1="381.00" y1="248" x2="381.00" y2="244.5" stroke="#7c7c7c" stroke-width="0.4"/>
<line x1="381.40" y1="248" x2="381.40" y2="245.6" stroke="#7c7c7c" stroke-width="0.4"/>
<line x1="381.80" y1="248" x2="381.80" y2="245.6" stroke="#7c7c7c" stroke-width="0.4"/>
<line x1="382.20" y1="248" x2="382.20" y2="245.5" stroke="#7c7c7c" stroke-width="0.4"/>
<line x1="382.60" y1="248" x2="382.60" y2="245.3" stroke="#7c7c7c" stroke-width="0.4"/>
<line x1="383.00" y1="248" x2="383.00" y2="245.2" stroke="#7c7c7c" stroke-width="0.4"/>
<line x1="383.40" y1="248" x2="383.40" y2="244.4" stroke="#7c7c7c" stroke-width="0.4"/>
<line x1="383.80" y1="248" x2="383.80" y2="244.7" stroke="#7c7c7c" stroke-width="0.4"/>
<line x1="384.20" y1="248" x2="384.20" y2="244.3" stroke="#7c7c7c" stroke-width="0.4"/>
<line x1="384.60" y1="248" x2="384.60" y2="245.3" stroke="#7c7c7c" stroke-width="0.4"/>
<line x1="385.00" y1="248" x2="385.00" y2="245.0" stroke="#7c7c7c" stroke-width="0.4"/>
<line x1="385.40" y1="248" x2="385.40" y2="244.5" stroke="#7c7c7c" stroke-width="0.4"/>
<line x1="385.80" y1="248" x2="385.80" y2="245.5" stroke="#7c7c7c" stroke-width="0.4"/>
<line x1="386.20" y1="248" x2="386.20" y2="244.7" stroke="#7c7c7c" stroke-width="0.4"/>
<line x1="386.60" y1="248" x2="386.60" y2="245.0" stroke="#7c7c7c" stroke-width="0.4"/>
<line x1="387.00" y1="248" x2="387.00" y2="244.4" stroke="#7c7c7c" stroke-width="0.4"/>
<line x1="387.40" y1="248" x2="387.40" y2="244.4" stroke="#7c7c7c" stroke-width="0.4"/>
<line x1="387.80" y1="248" x2="387.80" y2="245.7" stroke="#7c7c7c" stroke-width="0.4"/>
<line x1="388.20" y1="248" x2="388.20" y2="245.5" stroke="#7c7c7c" stroke-width="0.4"/>
<line x1="388.60" y1="248" x2="388.60" y2="244.9" stroke="#7c7c7c" stroke-width="0.4"/>
<line x1="389.00" y1="248" x2="389.00" y2="245.5" stroke="#7c7c7c" stroke-width="0.4"/>
<line x1="389.40" y1="248" x2="389.40" y2="245.1" stroke="#7c7c7c" stroke-width="0.4"/>
<line x1="389.80" y1="248" x2="389.80" y2="245.2" stroke="#7c7c7c" stroke-width="0.4"/>
<line x1="390.20" y1="248" x2="390.20" y2="245.8" stroke="#7c7c7c" stroke-width="0.4"/>
<line x1="390.60" y1="248" x2="390.60" y2="245.3" stroke="#7c7c7c" stroke-width="0.4"/>
<line x1="391.00" y1="248" x2="391.00" y2="245.1" stroke="#7c7c7c" stroke-width="0.4"/>
<line x1="391.40" y1="248" x2="391.40" y2="244.4" stroke="#7c7c7c" stroke-width="0.4"/>
<line x1="391.80" y1="248" x2="391.80" y2="244.7" stroke="#7c7c7c" stroke-width="0.4"/>
<line x1="392.20" y1="248" x2="392.20" y2="245.4" stroke="#7c7c7c" stroke-width="0.4"/>
<line x1="392.60" y1="248" x2="392.60" y2="245.4" stroke="#7c7c7c" stroke-width="0.4"/>
<line x1="393.00" y1="248" x2="393.00" y2="245.0" stroke="#7c7c7c" stroke-width="0.4"/>
<line x1="393.40" y1="248" x2="393.40" y2="241.5" stroke="#7c7c7c" stroke-width="0.4"/>
<line x1="393.80" y1="248" x2="393.80" y2="244.9" stroke="#7c7c7c" stroke-width="0.4"/>
<line x1="394.20" y1="248" x2="394.20" y2="244.4" stroke="#7c7c7c" stroke-width="0.4"/>
<line x1="394.60" y1="248" x2="394.60" y2="244.8" stroke="#7c7c7c" stroke-width="0.4"/>
<line x1="395.00" y1="248" x2="395.00" y2="245.2" stroke="#7c7c7c" stroke-width="0.4"/>
<line x1="395.40" y1="248" x2="395.40" y2="244.5" stroke="#7c7c7c" stroke-width="0.4"/>
<line x1="395.80" y1="248" x2="395.80" y2="244.3" stroke="#7c7c7c" stroke-width="0.4"/>
<line x1="396.20" y1="248" x2="396.20" y2="245.3" stroke="#7c7c7c" stroke-width="0.4"/>
<line x1="396.60" y1="248" x2="396.60" y2="244.6" stroke="#7c7c7c" stroke-width="0.4"/>
<line x1="397.00" y1="248" x2="397.00" y2="244.8" stroke="#7c7c7c" stroke-width="0.4"/>
<line x1="397.40" y1="248" x2="397.40" y2="244.9" stroke="#7c7c7c" stroke-width="0.4"/>
<line x1="397.80" y1="248" x2="397.80" y2="245.7" stroke="#7c7c7c" stroke-width="0.4"/>
<line x1="398.20" y1="248" x2="398.20" y2="245.3" stroke="#7c7c7c" stroke-width="0.4"/>
<line x1="398.60" y1="248" x2="398.60" y2="243.1" stroke="#7c7c7c" stroke-width="0.4"/>
<line x1="399.00" y1="248" x2="399.00" y2="245.4" stroke="#7c7c7c" stroke-width="0.4"/>
<line x1="399.40" y1="248" x2="399.40" y2="245.2" stroke="#7c7c7c" stroke-width="0.4"/>
<line x1="399.80" y1="248" x2="399.80" y2="245.8" stroke="#7c7c7c" stroke-width="0.4"/>
<line x1="400.20" y1="248" x2="400.20" y2="245.1" stroke="#7c7c7c" stroke-width="0.4"/>
<line x1="400.60" y1="248" x2="400.60" y2="244.9" stroke="#7c7c7c" stroke-width="0.4"/>
<line x1="401.00" y1="248" x2="401.00" y2="245.5" stroke="#7c7c7c" stroke-width="0.4"/>
<line x1="401.40" y1="248" x2="401.40" y2="245.3" stroke="#7c7c7c" stroke-width="0.4"/>
<line x1="401.80" y1="248" x2="401.80" y2="244.6" stroke="#7c7c7c" stroke-width="0.4"/>
<line x1="402.20" y1="248" x2="402.20" y2="244.3" stroke="#7c7c7c" stroke-width="0.4"/>
<line x1="402.60" y1="248" x2="402.60" y2="244.3" stroke="#7c7c7c" stroke-width="0.4"/>
<line x1="403.00" y1="248" x2="403.00" y2="245.7" stroke="#7c7c7c" stroke-width="0.4"/>
<line x1="403.40" y1="248" x2="403.40" y2="244.9" stroke="#7c7c7c" stroke-width="0.4"/>
<line x1="403.80" y1="248" x2="403.80" y2="243.4" stroke="#7c7c7c" stroke-width="0.4"/>
<line x1="404.20" y1="248" x2="404.20" y2="245.1" stroke="#7c7c7c" stroke-width="0.4"/>
<line x1="404.60" y1="248" x2="404.60" y2="245.7" stroke="#7c7c7c" stroke-width="0.4"/>
<line x1="405.00" y1="248" x2="405.00" y2="244.4" stroke="#7c7c7c" stroke-width="0.4"/>
<line x1="405.40" y1="248" x2="405.40" y2="245.4" stroke="#7c7c7c" stroke-width="0.4"/>
<line x1="405.80" y1="248" x2="405.80" y2="245.5" stroke="#7c7c7c" stroke-width="0.4"/>
<line x1="406.20" y1="248" x2="406.20" y2="244.7" stroke="#7c7c7c" stroke-width="0.4"/>
<line x1="406.60" y1="248" x2="406.60" y2="245.2" stroke="#7c7c7c" stroke-width="0.4"/>
<line x1="407.00" y1="248" x2="407.00" y2="244.8" stroke="#7c7c7c" stroke-width="0.4"/>
<line x1="407.40" y1="248" x2="407.40" y2="244.8" stroke="#7c7c7c" stroke-width="0.4"/>
<line x1="407.80" y1="248" x2="407.80" y2="244.6" stroke="#7c7c7c" stroke-width="0.4"/>
<line x1="408.20" y1="248" x2="408.20" y2="242.7" stroke="#7c7c7c" stroke-width="0.4"/>
<line x1="408.60" y1="248" x2="408.60" y2="244.5" stroke="#7c7c7c" stroke-width="0.4"/>
<line x1="409.00" y1="248" x2="409.00" y2="245.3" stroke="#7c7c7c" stroke-width="0.4"/>
<line x1="409.40" y1="248" x2="409.40" y2="245.5" stroke="#7c7c7c" stroke-width="0.4"/>
<line x1="409.80" y1="248" x2="409.80" y2="244.4" stroke="#7c7c7c" stroke-width="0.4"/>
<line x1="410.20" y1="248" x2="410.20" y2="244.3" stroke="#7c7c7c" stroke-width="0.4"/>
<line x1="410.60" y1="248" x2="410.60" y2="245.3" stroke="#7c7c7c" stroke-width="0.4"/>
<line x1="411.00" y1="248" x2="411.00" y2="244.8" stroke="#7c7c7c" stroke-width="0.4"/>
<line x1="411.40" y1="248" x2="411.40" y2="244.7" stroke="#7c7c7c" stroke-width="0.4"/>
<line x1="411.80" y1="248" x2="411.80" y2="245.7" stroke="#7c7c7c" stroke-width="0.4"/>
<line x1="412.20" y1="248" x2="412.20" y2="245.7" stroke="#7c7c7c" stroke-width="0.4"/>
<line x1="412.60" y1="248" x2="412.60" y2="245.3" stroke="#7c7c7c" stroke-width="0.4"/>
<line x1="413.00" y1="248" x2="413.00" y2="244.8" stroke="#7c7c7c" stroke-width="0.4"/>
<line x1="413.40" y1="248" x2="413.40" y2="245.1" stroke="#7c7c7c" stroke-width="0.4"/>
<line x1="413.80" y1="248" x2="413.80" y2="244.3" stroke="#7c7c7c" stroke-width="0.4"/>
<line x1="414.20" y1="248" x2="414.20" y2="244.2" stroke="#7c7c7c" stroke-width="0.4"/>
<line x1="414.60" y1="248" x2="414.60" y2="244.8" stroke="#7c7c7c" stroke-width="0.4"/>
<line x1="415.00" y1="248" x2="415.00" y2="245.3" stroke="#7c7c7c" stroke-width="0.4"/>
<line x1="415.40" y1="248" x2="415.40" y2="245.6" stroke="#7c7c7c" stroke-width="0.4"/>
<line x1="415.80" y1="248" x2="415.80" y2="244.6" stroke="#7c7c7c" stroke-width="0.4"/>
<line x1="416.20" y1="248" x2="416.20" y2="244.5" stroke="#7c7c7c" stroke-width="0.4"/>
<line x1="416.60" y1="248" x2="416.60" y2="244.9" stroke="#7c7c7c" stroke-width="0.4"/>
<line x1="417.00" y1="248" x2="417.00" y2="244.9" stroke="#7c7c7c" stroke-width="0.4"/>
<line x1="417.40" y1="248" x2="417.40" y2="242.6" stroke="#7c7c7c" stroke-width="0.4"/>
<line x1="417.80" y1="248" x2="417.80" y2="242.0" stroke="#7c7c7c" stroke-width="0.4"/>
<line x1="418.20" y1="248" x2="418.20" y2="242.2" stroke="#7c7c7c" stroke-width="0.4"/>
<line x1="418.60" y1="248" x2="418.60" y2="237.3" stroke="#7c7c7c" stroke-width="0.4"/>
<line x1="419.00" y1="248" x2="419.00" y2="241.9" stroke="#7c7c7c" stroke-width="0.4"/>
<line x1="419.40" y1="248" x2="419.40" y2="239.3" stroke="#7c7c7c" stroke-width="0.4"/>
<line x1="419.80" y1="248" x2="419.80" y2="242.9" stroke="#7c7c7c" stroke-width="0.4"/>
<line x1="420.20" y1="248" x2="420.20" y2="241.2" stroke="#7c7c7c" stroke-width="0.4"/>
<line x1="420.60" y1="248" x2="420.60" y2="243.1" stroke="#7c7c7c" stroke-width="0.4"/>
<line x1="421.00" y1="248" x2="421.00" y2="241.9" stroke="#7c7c7c" stroke-width="0.4"/>
<line x1="421.40" y1="248" x2="421.40" y2="241.0" stroke="#7c7c7c" stroke-width="0.4"/>
<line x1="421.80" y1="248" x2="421.80" y2="242.0" stroke="#7c7c7c" stroke-width="0.4"/>
<line x1="422.20" y1="248" x2="422.20" y2="244.9" stroke="#7c7c7c" stroke-width="0.4"/>
<line x1="422.60" y1="248" x2="422.60" y2="244.8" stroke="#7c7c7c" stroke-width="0.4"/>
<line x1="423.00" y1="248" x2="423.00" y2="242.8" stroke="#7c7c7c" stroke-width="0.4"/>
<line x1="423.40" y1="248" x2="423.40" y2="241.2" stroke="#7c7c7c" stroke-width="0.4"/>
<line x1="423.80" y1="248" x2="423.80" y2="244.4" stroke="#7c7c7c" stroke-width="0.4"/>
<line x1="424.20" y1="248" x2="424.20" y2="242.0" stroke="#7c7c7c" stroke-width="0.4"/>
<line x1="424.60" y1="248" x2="424.60" y2="241.0" stroke="#7c7c7c" stroke-width="0.4"/>
<line x1="425.00" y1="248" x2="425.00" y2="241.9" stroke="#7c7c7c" stroke-width="0.4"/>
<line x1="425.40" y1="248" x2="425.40" y2="241.1" stroke="#7c7c7c" stroke-width="0.4"/>
<line x1="425.80" y1="248" x2="425.80" y2="242.5" stroke="#7c7c7c" stroke-width="0.4"/>
<line x1="426.20" y1="248" x2="426.20" y2="241.8" stroke="#7c7c7c" stroke-width="0.4"/>
<line x1="426.60" y1="248" x2="426.60" y2="243.7" stroke="#7c7c7c" stroke-width="0.4"/>
<line x1="427.00" y1="248" x2="427.00" y2="241.4" stroke="#7c7c7c" stroke-width="0.4"/>
<line x1="427.40" y1="248" x2="427.40" y2="241.6" stroke="#7c7c7c" stroke-width="0.4"/>
<line x1="427.80" y1="248" x2="427.80" y2="243.4" stroke="#7c7c7c" stroke-width="0.4"/>
<line x1="428.20" y1="248" x2="428.20" y2="241.6" stroke="#7c7c7c" stroke-width="0.4"/>
<line x1="428.60" y1="248" x2="428.60" y2="243.4" stroke="#7c7c7c" stroke-width="0.4"/>
<line x1="429.00" y1="248" x2="429.00" y2="236.3" stroke="#7c7c7c" stroke-width="0.4"/>
<line x1="429.40" y1="248" x2="429.40" y2="244.1" stroke="#7c7c7c" stroke-width="0.4"/>
<line x1="429.80" y1="248" x2="429.80" y2="244.0" stroke="#7c7c7c" stroke-width="0.4"/>
<line x1="430.20" y1="248" x2="430.20" y2="244.1" stroke="#7c7c7c" stroke-width="0.4"/>
<line x1="430.60" y1="248" x2="430.60" y2="242.0" stroke="#7c7c7c" stroke-width="0.4"/>
<line x1="431.00" y1="248" x2="431.00" y2="243.8" stroke="#7c7c7c" stroke-width="0.4"/>
<line x1="431.40" y1="248" x2="431.40" y2="240.7" stroke="#7c7c7c" stroke-width="0.4"/>
<line x1="431.80" y1="248" x2="431.80" y2="244.4" stroke="#7c7c7c" stroke-width="0.4"/>
<line x1="432.20" y1="248" x2="432.20" y2="236.8" stroke="#7c7c7c" stroke-width="0.4"/>
<line x1="432.60" y1="248" x2="432.60" y2="242.0" stroke="#7c7c7c" stroke-width="0.4"/>
<line x1="433.00" y1="248" x2="433.00" y2="240.3" stroke="#7c7c7c" stroke-width="0.4"/>
<line x1="433.40" y1="248" x2="433.40" y2="243.1" stroke="#7c7c7c" stroke-width="0.4"/>
<line x1="433.80" y1="248" x2="433.80" y2="241.0" stroke="#7c7c7c" stroke-width="0.4"/>
<line x1="434.20" y1="248" x2="434.20" y2="242.6" stroke="#7c7c7c" stroke-width="0.4"/>
<line x1="434.60" y1="248" x2="434.60" y2="242.7" stroke="#7c7c7c" stroke-width="0.4"/>
<line x1="435.00" y1="248" x2="435.00" y2="240.7" stroke="#7c7c7c" stroke-width="0.4"/>
<line x1="435.40" y1="248" x2="435.40" y2="239.8" stroke="#7c7c7c" stroke-width="0.4"/>
<line x1="435.80" y1="248" x2="435.80" y2="236.8" stroke="#7c7c7c" stroke-width="0.4"/>
<line x1="436.20" y1="248" x2="436.20" y2="241.5" stroke="#7c7c7c" stroke-width="0.4"/>
<line x1="436.60" y1="248" x2="436.60" y2="240.2" stroke="#7c7c7c" stroke-width="0.4"/>
<line x1="437.00" y1="248" x2="437.00" y2="244.6" stroke="#7c7c7c" stroke-width="0.4"/>
<line x1="437.40" y1="248" x2="437.40" y2="241.9" stroke="#7c7c7c" stroke-width="0.4"/>
<line x1="437.80" y1="248" x2="437.80" y2="241.1" stroke="#7c7c7c" stroke-width="0.4"/>
<line x1="438.20" y1="248" x2="438.20" y2="241.4" stroke="#7c7c7c" stroke-width="0.4"/>
<line x1="438.60" y1="248" x2="438.60" y2="242.3" stroke="#7c7c7c" stroke-width="0.4"/>
<line x1="439.00" y1="248" x2="439.00" y2="243.6" stroke="#7c7c7c" stroke-width="0.4"/>
<line x1="439.40" y1="248" x2="439.40" y2="237.7" stroke="#7c7c7c" stroke-width="0.4"/>
<line x1="439.80" y1="248" x2="439.80" y2="236.1" stroke="#7c7c7c" stroke-width="0.4"/>
<line x1="440.20" y1="248" x2="440.20" y2="244.1" stroke="#7c7c7c" stroke-width="0.4"/>
<line x1="440.60" y1="248" x2="440.60" y2="237.9" stroke="#7c7c7c" stroke-width="0.4"/>
<line x1="441.00" y1="248" x2="441.00" y2="243.0" stroke="#7c7c7c" stroke-width="0.4"/>
<line x1="441.40" y1="248" x2="441.40" y2="243.3" stroke="#7c7c7c" stroke-width="0.4"/>
<line x1="441.80" y1="248" x2="441.80" y2="244.9" stroke="#7c7c7c" stroke-width="0.4"/>
<line x1="442.20" y1="248" x2="442.20" y2="240.1" stroke="#7c7c7c" stroke-width="0.4"/>
<line x1="442.60" y1="248" x2="442.60" y2="241.3" stroke="#7c7c7c" stroke-width="0.4"/>
<line x1="443.00" y1="248" x2="443.00" y2="244.5" stroke="#7c7c7c" stroke-width="0.4"/>
<line x1="443.40" y1="248" x2="443.40" y2="244.3" stroke="#7c7c7c" stroke-width="0.4"/>
<line x1="443.80" y1="248" x2="443.80" y2="244.4" stroke="#7c7c7c" stroke-width="0.4"/>
<line x1="444.20" y1="248" x2="444.20" y2="239.0" stroke="#7c7c7c" stroke-width="0.4"/>
<line x1="444.60" y1="248" x2="444.60" y2="243.6" stroke="#7c7c7c" stroke-width="0.4"/>
<line x1="445.00" y1="248" x2="445.00" y2="241.3" stroke="#7c7c7c" stroke-width="0.4"/>
<line x1="445.40" y1="248" x2="445.40" y2="244.1" stroke="#7c7c7c" stroke-width="0.4"/>
<line x1="445.80" y1="248" x2="445.80" y2="236.7" stroke="#7c7c7c" stroke-width="0.4"/>
<line x1="446.20" y1="248" x2="446.20" y2="240.4" stroke="#7c7c7c" stroke-width="0.4"/>
<line x1="446.60" y1="248" x2="446.60" y2="243.9" stroke="#7c7c7c" stroke-width="0.4"/>
<line x1="447.00" y1="248" x2="447.00" y2="244.8" stroke="#7c7c7c" stroke-width="0.4"/>
<line x1="447.40" y1="248" x2="447.40" y2="243.4" stroke="#7c7c7c" stroke-width="0.4"/>
<line x1="447.80" y1="248" x2="447.80" y2="243.5" stroke="#7c7c7c" stroke-width="0.4"/>
<line x1="448.20" y1="248" x2="448.20" y2="242.2" stroke="#7c7c7c" stroke-width="0.4"/>
<line x1="448.60" y1="248" x2="448.60" y2="242.8" stroke="#7c7c7c" stroke-width="0.4"/>
<line x1="449.00" y1="248" x2="449.00" y2="242.2" stroke="#7c7c7c" stroke-width="0.4"/>
<line x1="449.40" y1="248" x2="449.40" y2="236.8" stroke="#7c7c7c" stroke-width="0.4"/>
<line x1="449.80" y1="248" x2="449.80" y2="239.6" stroke="#7c7c7c" stroke-width="0.4"/>
<line x1="450.20" y1="248" x2="450.20" y2="243.3" stroke="#7c7c7c" stroke-width="0.4"/>
<line x1="450.60" y1="248" x2="450.60" y2="239.7" stroke="#7c7c7c" stroke-width="0.4"/>
<line x1="451.00" y1="248" x2="451.00" y2="243.4" stroke="#7c7c7c" stroke-width="0.4"/>
<line x1="451.40" y1="248" x2="451.40" y2="241.0" stroke="#7c7c7c" stroke-width="0.4"/>
<line x1="451.80" y1="248" x2="451.80" y2="242.6" stroke="#7c7c7c" stroke-width="0.4"/>
<line x1="452.20" y1="248" x2="452.20" y2="240.5" stroke="#7c7c7c" stroke-width="0.4"/>
<line x1="452.60" y1="248" x2="452.60" y2="243.5" stroke="#7c7c7c" stroke-width="0.4"/>
<line x1="453.00" y1="248" x2="453.00" y2="244.2" stroke="#7c7c7c" stroke-width="0.4"/>
<line x1="453.40" y1="248" x2="453.40" y2="241.6" stroke="#7c7c7c" stroke-width="0.4"/>
<line x1="453.80" y1="248" x2="453.80" y2="236.5" stroke="#7c7c7c" stroke-width="0.4"/>
<line x1="454.20" y1="248" x2="454.20" y2="242.2" stroke="#7c7c7c" stroke-width="0.4"/>
<line x1="454.60" y1="248" x2="454.60" y2="242.4" stroke="#7c7c7c" stroke-width="0.4"/>
<line x1="455.00" y1="248" x2="455.00" y2="243.7" stroke="#7c7c7c" stroke-width="0.4"/>
<line x1="455.40" y1="248" x2="455.40" y2="242.0" stroke="#7c7c7c" stroke-width="0.4"/>
<line x1="455.80" y1="248" x2="455.80" y2="236.9" stroke="#7c7c7c" stroke-width="0.4"/>
<line x1="456.20" y1="248" x2="456.20" y2="242.6" stroke="#7c7c7c" stroke-width="0.4"/>
<line x1="456.60" y1="248" x2="456.60" y2="240.6" stroke="#7c7c7c" stroke-width="0.4"/>
<line x1="457.00" y1="248" x2="457.00" y2="242.0" stroke="#7c7c7c" stroke-width="0.4"/>
<line x1="457.40" y1="248" x2="457.40" y2="242.2" stroke="#7c7c7c" stroke-width="0.4"/>
<line x1="457.80" y1="248" x2="457.80" y2="242.9" stroke="#7c7c7c" stroke-width="0.4"/>
<line x1="458.20" y1="248" x2="458.20" y2="242.3" stroke="#7c7c7c" stroke-width="0.4"/>
<line x1="458.60" y1="248" x2="458.60" y2="242.5" stroke="#7c7c7c" stroke-width="0.4"/>
<line x1="459.00" y1="248" x2="459.00" y2="244.1" stroke="#7c7c7c" stroke-width="0.4"/>
<line x1="459.40" y1="248" x2="459.40" y2="243.9" stroke="#7c7c7c" stroke-width="0.4"/>
<line x1="459.80" y1="248" x2="459.80" y2="239.2" stroke="#7c7c7c" stroke-width="0.4"/>
<line x1="460.20" y1="248" x2="460.20" y2="238.9" stroke="#7c7c7c" stroke-width="0.4"/>
<line x1="460.60" y1="248" x2="460.60" y2="244.1" stroke="#7c7c7c" stroke-width="0.4"/>
<line x1="461.00" y1="248" x2="461.00" y2="241.3" stroke="#7c7c7c" stroke-width="0.4"/>
<line x1="461.40" y1="248" x2="461.40" y2="242.9" stroke="#7c7c7c" stroke-width="0.4"/>
<line x1="461.80" y1="248" x2="461.80" y2="241.7" stroke="#7c7c7c" stroke-width="0.4"/>
<line x1="462.20" y1="248" x2="462.20" y2="245.6" stroke="#7c7c7c" stroke-width="0.4"/>
<line x1="462.60" y1="248" x2="462.60" y2="242.2" stroke="#7c7c7c" stroke-width="0.4"/>
<line x1="463.00" y1="248" x2="463.00" y2="243.9" stroke="#7c7c7c" stroke-width="0.4"/>
<line x1="463.40" y1="248" x2="463.40" y2="240.5" stroke="#7c7c7c" stroke-width="0.4"/>
<line x1="463.80" y1="248" x2="463.80" y2="245.0" stroke="#7c7c7c" stroke-width="0.4"/>
<line x1="464.20" y1="248" x2="464.20" y2="240.7" stroke="#7c7c7c" stroke-width="0.4"/>
<line x1="464.60" y1="248" x2="464.60" y2="245.6" stroke="#7c7c7c" stroke-width="0.4"/>
<line x1="465.00" y1="248" x2="465.00" y2="245.7" stroke="#7c7c7c" stroke-width="0.4"/>
<line x1="465.40" y1="248" x2="465.40" y2="244.0" stroke="#7c7c7c" stroke-width="0.4"/>
<line x1="465.80" y1="248" x2="465.80" y2="244.9" stroke="#7c7c7c" stroke-width="0.4"/>
<line x1="466.20" y1="248" x2="466.20" y2="245.0" stroke="#7c7c7c" stroke-width="0.4"/>
<line x1="466.60" y1="248" x2="466.60" y2="241.2" stroke="#7c7c7c" stroke-width="0.4"/>
<line x1="467.00" y1="248" x2="467.00" y2="244.8" stroke="#7c7c7c" stroke-width="0.4"/>
<line x1="467.40" y1="248" x2="467.40" y2="244.1" stroke="#7c7c7c" stroke-width="0.4"/>
<line x1="467.80" y1="248" x2="467.80" y2="244.3" stroke="#7c7c7c" stroke-width="0.4"/>
<line x1="468.20" y1="248" x2="468.20" y2="244.7" stroke="#7c7c7c" stroke-width="0.4"/>
<line x1="468.60" y1="248" x2="468.60" y2="245.1" stroke="#7c7c7c" stroke-width="0.4"/>
<line x1="469.00" y1="248" x2="469.00" y2="245.0" stroke="#7c7c7c" stroke-width="0.4"/>
<line x1="469.40" y1="248" x2="469.40" y2="245.5" stroke="#7c7c7c" stroke-width="0.4"/>
<line x1="469.80" y1="248" x2="469.80" y2="245.9" stroke="#7c7c7c" stroke-width="0.4"/>
<line x1="470.20" y1="248" x2="470.20" y2="244.2" stroke="#7c7c7c" stroke-width="0.4"/>
<line x1="470.60" y1="248" x2="470.60" y2="245.2" stroke="#7c7c7c" stroke-width="0.4"/>
<line x1="471.00" y1="248" x2="471.00" y2="243.9" stroke="#7c7c7c" stroke-width="0.4"/>
<line x1="471.40" y1="248" x2="471.40" y2="244.8" stroke="#7c7c7c" stroke-width="0.4"/>
<line x1="471.80" y1="248" x2="471.80" y2="245.5" stroke="#7c7c7c" stroke-width="0.4"/>
<line x1="472.20" y1="248" x2="472.20" y2="244.5" stroke="#7c7c7c" stroke-width="0.4"/>
<line x1="472.60" y1="248" x2="472.60" y2="245.2" stroke="#7c7c7c" stroke-width="0.4"/>
<line x1="473.00" y1="248" x2="473.00" y2="245.1" stroke="#7c7c7c" stroke-width="0.4"/>
<line x1="473.40" y1="248" x2="473.40" y2="244.7" stroke="#7c7c7c" stroke-width="0.4"/>
<line x1="473.80" y1="248" x2="473.80" y2="245.1" stroke="#7c7c7c" stroke-width="0.4"/>
<line x1="474.20" y1="248" x2="474.20" y2="244.5" stroke="#7c7c7c" stroke-width="0.4"/>
<line x1="474.60" y1="248" x2="474.60" y2="245.2" stroke="#7c7c7c" stroke-width="0.4"/>
<line x1="475.00" y1="248" x2="475.00" y2="244.3" stroke="#7c7c7c" stroke-width="0.4"/>
<line x1="475.40" y1="248" x2="475.40" y2="244.2" stroke="#7c7c7c" stroke-width="0.4"/>
<line x1="475.80" y1="248" x2="475.80" y2="245.2" stroke="#7c7c7c" stroke-width="0.4"/>
<line x1="476.20" y1="248" x2="476.20" y2="245.3" stroke="#7c7c7c" stroke-width="0.4"/>
<line x1="476.60" y1="248" x2="476.60" y2="244.6" stroke="#7c7c7c" stroke-width="0.4"/>
<line x1="477.00" y1="248" x2="477.00" y2="245.0" stroke="#7c7c7c" stroke-width="0.4"/>
<line x1="477.40" y1="248" x2="477.40" y2="244.4" stroke="#7c7c7c" stroke-width="0.4"/>
<line x1="477.80" y1="248" x2="477.80" y2="245.8" stroke="#7c7c7c" stroke-width="0.4"/>
<line x1="478.20" y1="248" x2="478.20" y2="245.1" stroke="#7c7c7c" stroke-width="0.4"/>
<line x1="478.60" y1="248" x2="478.60" y2="244.5" stroke="#7c7c7c" stroke-width="0.4"/>
<line x1="479.00" y1="248" x2="479.00" y2="245.0" stroke="#7c7c7c" stroke-width="0.4"/>
<line x1="479.40" y1="248" x2="479.40" y2="245.1" stroke="#7c7c7c" stroke-width="0.4"/>
<line x1="479.80" y1="248" x2="479.80" y2="245.0" stroke="#7c7c7c" stroke-width="0.4"/>
<line x1="480.20" y1="248" x2="480.20" y2="244.7" stroke="#7c7c7c" stroke-width="0.4"/>
<line x1="480.60" y1="248" x2="480.60" y2="245.2" stroke="#7c7c7c" stroke-width="0.4"/>
<line x1="481.00" y1="248" x2="481.00" y2="244.7" stroke="#7c7c7c" stroke-width="0.4"/>
<line x1="481.40" y1="248" x2="481.40" y2="244.6" stroke="#7c7c7c" stroke-width="0.4"/>
<line x1="481.80" y1="248" x2="481.80" y2="245.6" stroke="#7c7c7c" stroke-width="0.4"/>
<line x1="482.20" y1="248" x2="482.20" y2="245.7" stroke="#7c7c7c" stroke-width="0.4"/>
<line x1="482.60" y1="248" x2="482.60" y2="245.6" stroke="#7c7c7c" stroke-width="0.4"/>
<line x1="483.00" y1="248" x2="483.00" y2="244.6" stroke="#7c7c7c" stroke-width="0.4"/>
<line x1="483.40" y1="248" x2="483.40" y2="245.7" stroke="#7c7c7c" stroke-width="0.4"/>
<line x1="483.80" y1="248" x2="483.80" y2="244.7" stroke="#7c7c7c" stroke-width="0.4"/>
<line x1="484.20" y1="248" x2="484.20" y2="245.7" stroke="#7c7c7c" stroke-width="0.4"/>
<line x1="484.60" y1="248" x2="484.60" y2="245.1" stroke="#7c7c7c" stroke-width="0.4"/>
<line x1="485.00" y1="248" x2="485.00" y2="244.2" stroke="#7c7c7c" stroke-width="0.4"/>
<line x1="485.40" y1="248" x2="485.40" y2="244.4" stroke="#7c7c7c" stroke-width="0.4"/>
<line x1="485.80" y1="248" x2="485.80" y2="245.3" stroke="#7c7c7c" stroke-width="0.4"/>
<line x1="486.20" y1="248" x2="486.20" y2="245.8" stroke="#7c7c7c" stroke-width="0.4"/>
<line x1="486.60" y1="248" x2="486.60" y2="243.7" stroke="#7c7c7c" stroke-width="0.4"/>
<line x1="487.00" y1="248" x2="487.00" y2="245.3" stroke="#7c7c7c" stroke-width="0.4"/>
<line x1="487.40" y1="248" x2="487.40" y2="244.4" stroke="#7c7c7c" stroke-width="0.4"/>
<line x1="487.80" y1="248" x2="487.80" y2="245.0" stroke="#7c7c7c" stroke-width="0.4"/>
<line x1="488.20" y1="248" x2="488.20" y2="245.7" stroke="#7c7c7c" stroke-width="0.4"/>
<line x1="488.60" y1="248" x2="488.60" y2="244.4" stroke="#7c7c7c" stroke-width="0.4"/>
<line x1="489.00" y1="248" x2="489.00" y2="244.4" stroke="#7c7c7c" stroke-width="0.4"/>
<line x1="489.40" y1="248" x2="489.40" y2="245.5" stroke="#7c7c7c" stroke-width="0.4"/>
<line x1="489.80" y1="248" x2="489.80" y2="244.9" stroke="#7c7c7c" stroke-width="0.4"/>
<line x1="490.20" y1="248" x2="490.20" y2="245.1" stroke="#7c7c7c" stroke-width="0.4"/>
<line x1="490.60" y1="248" x2="490.60" y2="244.9" stroke="#7c7c7c" stroke-width="0.4"/>
<line x1="491.00" y1="248" x2="491.00" y2="244.5" stroke="#7c7c7c" stroke-width="0.4"/>
<line x1="491.40" y1="248" x2="491.40" y2="244.3" stroke="#7c7c7c" stroke-width="0.4"/>
<line x1="491.80" y1="248" x2="491.80" y2="245.7" stroke="#7c7c7c" stroke-width="0.4"/>
<line x1="492.20" y1="248" x2="492.20" y2="244.9" stroke="#7c7c7c" stroke-width="0.4"/>
<line x1="492.60" y1="248" x2="492.60" y2="244.9" stroke="#7c7c7c" stroke-width="0.4"/>
<line x1="493.00" y1="248" x2="493.00" y2="245.4" stroke="#7c7c7c" stroke-width="0.4"/>
<line x1="493.40" y1="248" x2="493.40" y2="245.3" stroke="#7c7c7c" stroke-width="0.4"/>
<line x1="493.80" y1="248" x2="493.80" y2="244.5" stroke="#7c7c7c" stroke-width="0.4"/>
<line x1="494.20" y1="248" x2="494.20" y2="245.1" stroke="#7c7c7c" stroke-width="0.4"/>
<line x1="494.60" y1="248" x2="494.60" y2="243.2" stroke="#7c7c7c" stroke-width="0.4"/>
<line x1="495.00" y1="248" x2="495.00" y2="245.7" stroke="#7c7c7c" stroke-width="0.4"/>
<line x1="495.40" y1="248" x2="495.40" y2="244.8" stroke="#7c7c7c" stroke-width="0.4"/>
<line x1="495.80" y1="248" x2="495.80" y2="244.4" stroke="#7c7c7c" stroke-width="0.4"/>
<line x1="496.20" y1="248" x2="496.20" y2="244.8" stroke="#7c7c7c" stroke-width="0.4"/>
<line x1="496.60" y1="248" x2="496.60" y2="244.3" stroke="#7c7c7c" stroke-width="0.4"/>
<line x1="497.00" y1="248" x2="497.00" y2="244.5" stroke="#7c7c7c" stroke-width="0.4"/>
<line x1="497.40" y1="248" x2="497.40" y2="244.7" stroke="#7c7c7c" stroke-width="0.4"/>
<line x1="497.80" y1="248" x2="497.80" y2="245.3" stroke="#7c7c7c" stroke-width="0.4"/>
<line x1="498.20" y1="248" x2="498.20" y2="244.5" stroke="#7c7c7c" stroke-width="0.4"/>
<line x1="498.60" y1="248" x2="498.60" y2="244.3" stroke="#7c7c7c" stroke-width="0.4"/>
<line x1="499.00" y1="248" x2="499.00" y2="245.6" stroke="#7c7c7c" stroke-width="0.4"/>
<line x1="499.40" y1="248" x2="499.40" y2="244.5" stroke="#7c7c7c" stroke-width="0.4"/>
<line x1="499.80" y1="248" x2="499.80" y2="243.3" stroke="#7c7c7c" stroke-width="0.4"/>
<line x1="500.20" y1="248" x2="500.20" y2="245.4" stroke="#7c7c7c" stroke-width="0.4"/>
<line x1="500.60" y1="248" x2="500.60" y2="242.4" stroke="#7c7c7c" stroke-width="0.4"/>
<line x1="501.00" y1="248" x2="501.00" y2="245.7" stroke="#7c7c7c" stroke-width="0.4"/>
<line x1="501.40" y1="248" x2="501.40" y2="245.7" stroke="#7c7c7c" stroke-width="0.4"/>
<line x1="501.80" y1="248" x2="501.80" y2="245.3" stroke="#7c7c7c" stroke-width="0.4"/>
<line x1="502.20" y1="248" x2="502.20" y2="244.9" stroke="#7c7c7c" stroke-width="0.4"/>
<line x1="502.60" y1="248" x2="502.60" y2="244.9" stroke="#7c7c7c" stroke-width="0.4"/>
<line x1="503.00" y1="248" x2="503.00" y2="244.3" stroke="#7c7c7c" stroke-width="0.4"/>
<line x1="503.40" y1="248" x2="503.40" y2="244.5" stroke="#7c7c7c" stroke-width="0.4"/>
<line x1="503.80" y1="248" x2="503.80" y2="244.5" stroke="#7c7c7c" stroke-width="0.4"/>
<line x1="504.20" y1="248" x2="504.20" y2="243.3" stroke="#7c7c7c" stroke-width="0.4"/>
<line x1="504.60" y1="248" x2="504.60" y2="245.2" stroke="#7c7c7c" stroke-width="0.4"/>
<line x1="505.00" y1="248" x2="505.00" y2="245.4" stroke="#7c7c7c" stroke-width="0.4"/>
<line x1="505.40" y1="248" x2="505.40" y2="245.7" stroke="#7c7c7c" stroke-width="0.4"/>
<line x1="505.80" y1="248" x2="505.80" y2="244.6" stroke="#7c7c7c" stroke-width="0.4"/>
<line x1="506.20" y1="248" x2="506.20" y2="244.7" stroke="#7c7c7c" stroke-width="0.4"/>
<line x1="506.60" y1="248" x2="506.60" y2="244.5" stroke="#7c7c7c" stroke-width="0.4"/>
<line x1="507.00" y1="248" x2="507.00" y2="244.3" stroke="#7c7c7c" stroke-width="0.4"/>
<line x1="507.40" y1="248" x2="507.40" y2="241.7" stroke="#7c7c7c" stroke-width="0.4"/>
<line x1="507.80" y1="248" x2="507.80" y2="245.3" stroke="#7c7c7c" stroke-width="0.4"/>
<line x1="508.20" y1="248" x2="508.20" y2="244.6" stroke="#7c7c7c" stroke-width="0.4"/>
<line x1="508.60" y1="248" x2="508.60" y2="244.3" stroke="#7c7c7c" stroke-width="0.4"/>
<line x1="509.00" y1="248" x2="509.00" y2="245.0" stroke="#7c7c7c" stroke-width="0.4"/>
<line x1="509.40" y1="248" x2="509.40" y2="244.8" stroke="#7c7c7c" stroke-width="0.4"/>
<line x1="509.80" y1="248" x2="509.80" y2="245.7" stroke="#7c7c7c" stroke-width="0.4"/>
<line x1="510.20" y1="248" x2="510.20" y2="245.4" stroke="#7c7c7c" stroke-width="0.4"/>
<line x1="510.60" y1="248" x2="510.60" y2="244.4" stroke="#7c7c7c" stroke-width="0.4"/>
<line x1="418.7" y1="248" x2="418.7" y2="235.3" stroke="#7a7a7a" stroke-width="0.5"/>
<line x1="421.5" y1="248" x2="421.5" y2="227.2" stroke="#7a7a7a" stroke-width="0.5"/>
<line x1="426.7" y1="248" x2="426.7" y2="229.5" stroke="#7a7a7a" stroke-width="0.5"/>
<line x1="430.2" y1="248" x2="430.2" y2="233.6" stroke="#7a7a7a" stroke-width="0.5"/>
<line x1="434.8" y1="248" x2="434.8" y2="223.2" stroke="#7a7a7a" stroke-width="0.5"/>
<line x1="437.7" y1="248" x2="437.7" y2="231.8" stroke="#7a7a7a" stroke-width="0.5"/>
<line x1="442.3" y1="248" x2="442.3" y2="235.9" stroke="#7a7a7a" stroke-width="0.5"/>
<line x1="446.9" y1="248" x2="446.9" y2="230.7" stroke="#7a7a7a" stroke-width="0.5"/>
<line x1="451" y1="248" x2="451" y2="231.8" stroke="#7a7a7a" stroke-width="0.5"/>
<line x1="453.3" y1="248" x2="453.3" y2="235.3" stroke="#7a7a7a" stroke-width="0.5"/>
<line x1="457.3" y1="248" x2="457.3" y2="236.5" stroke="#7a7a7a" stroke-width="0.5"/>
<line x1="463" y1="248" x2="463" y2="242.2" stroke="#7a7a7a" stroke-width="0.5"/>
<line x1="324.4" y1="248" x2="324.4" y2="235.3" stroke="#7a7a7a" stroke-width="0.5"/>
<line x1="320" y1="248" x2="320" y2="240" stroke="#7a7a7a" stroke-width="0.5"/>
<line x1="330" y1="248" x2="330" y2="242" stroke="#7a7a7a" stroke-width="0.5"/>
<line x1="340" y1="248" x2="340" y2="242.5" stroke="#7a7a7a" stroke-width="0.5"/>
<line x1="352" y1="248" x2="352" y2="242" stroke="#7a7a7a" stroke-width="0.5"/>
<line x1="377" y1="248" x2="377" y2="240.5" stroke="#7a7a7a" stroke-width="0.5"/>
<line x1="386" y1="248" x2="386" y2="239.5" stroke="#7a7a7a" stroke-width="0.5"/>
<line x1="395" y1="248" x2="395" y2="241.5" stroke="#7a7a7a" stroke-width="0.5"/>
<line x1="405" y1="248" x2="405" y2="242" stroke="#7a7a7a" stroke-width="0.5"/>
<line x1="472" y1="248" x2="472" y2="240" stroke="#7a7a7a" stroke-width="0.5"/>
<line x1="478" y1="248" x2="478" y2="242" stroke="#7a7a7a" stroke-width="0.5"/>
<line x1="485" y1="248" x2="485" y2="241.5" stroke="#7a7a7a" stroke-width="0.5"/>
<line x1="491" y1="248" x2="491" y2="238" stroke="#7a7a7a" stroke-width="0.5"/>
<line x1="499" y1="248" x2="499" y2="242" stroke="#7a7a7a" stroke-width="0.5"/>
<line x1="505" y1="248" x2="505" y2="241.5" stroke="#7a7a7a" stroke-width="0.5"/>
<line x1="420" y1="248" x2="420" y2="238" stroke="#7a7a7a" stroke-width="0.5"/>
<line x1="424" y1="248" x2="424" y2="236" stroke="#7a7a7a" stroke-width="0.5"/>
<line x1="428" y1="248" x2="428" y2="239" stroke="#7a7a7a" stroke-width="0.5"/>
<line x1="432" y1="248" x2="432" y2="237" stroke="#7a7a7a" stroke-width="0.5"/>
<line x1="440" y1="248" x2="440" y2="238" stroke="#7a7a7a" stroke-width="0.5"/>
<line x1="444" y1="248" x2="444" y2="239" stroke="#7a7a7a" stroke-width="0.5"/>
<line x1="449" y1="248" x2="449" y2="237" stroke="#7a7a7a" stroke-width="0.5"/>
<line x1="455" y1="248" x2="455" y2="239" stroke="#7a7a7a" stroke-width="0.5"/>
<line x1="460" y1="248" x2="460" y2="240" stroke="#7a7a7a" stroke-width="0.5"/>
<line x1="315.8" y1="249.4" x2="510.8" y2="249.4" stroke="#3a2a2a" stroke-width="1.3"/>
<rect x="315.8" y="252.90" width="195.0" height="16.5" fill="#efefef"/>
<text x="313.2" y="262.8" font-size="4.6" font-weight="normal" font-style="normal" text-anchor="end" fill="#222" >ATM</text>
<rect x="315.8" y="273.26" width="195.0" height="16.5" fill="#efefef"/>
<text x="313.2" y="283.1" font-size="4.6" font-weight="normal" font-style="normal" text-anchor="end" fill="#222" >KRAS</text>
<rect x="315.8" y="293.62" width="195.0" height="16.5" fill="#efefef"/>
<text x="313.2" y="303.5" font-size="4.6" font-weight="normal" font-style="normal" text-anchor="end" fill="#222" >TP53</text>
<rect x="315.8" y="313.98" width="195.0" height="16.5" fill="#efefef"/>
<text x="313.2" y="323.8" font-size="4.6" font-weight="normal" font-style="normal" text-anchor="end" fill="#222" >STK11</text>
<rect x="315.8" y="334.34" width="195.0" height="16.5" fill="#efefef"/>
<text x="313.2" y="344.2" font-size="4.6" font-weight="normal" font-style="normal" text-anchor="end" fill="#222" >KEAP1</text>
<rect x="315.8" y="354.70" width="195.0" height="16.5" fill="#efefef"/>
<text x="313.2" y="364.6" font-size="4.6" font-weight="normal" font-style="normal" text-anchor="end" fill="#222" >KMT2D</text>
<rect x="315.8" y="375.06" width="195.0" height="16.5" fill="#efefef"/>
<text x="313.2" y="384.9" font-size="4.6" font-weight="normal" font-style="normal" text-anchor="end" fill="#222" >KDM6A</text>
<rect x="315.8" y="395.42" width="195.0" height="16.5" fill="#efefef"/>
<text x="313.2" y="405.3" font-size="4.6" font-weight="normal" font-style="normal" text-anchor="end" fill="#222" >NF1</text>
<rect x="315.8" y="415.78" width="195.0" height="16.5" fill="#efefef"/>
<text x="313.2" y="425.6" font-size="4.6" font-weight="normal" font-style="normal" text-anchor="end" fill="#222" >ARID1A</text>
<rect x="315.8" y="436.14" width="195.0" height="16.5" fill="#efefef"/>
<text x="313.2" y="446.0" font-size="4.6" font-weight="normal" font-style="normal" text-anchor="end" fill="#222" >ARID1B</text>
<rect x="315.8" y="456.50" width="195.0" height="16.5" fill="#efefef"/>
<text x="313.2" y="466.4" font-size="4.6" font-weight="normal" font-style="normal" text-anchor="end" fill="#222" >ARID2</text>
<rect x="315.8" y="476.86" width="195.0" height="16.5" fill="#efefef"/>
<text x="313.2" y="486.7" font-size="4.6" font-weight="normal" font-style="normal" text-anchor="end" fill="#222" >SMARCA4</text>
<rect x="315.80" y="252.90" width="195.00" height="16.5" fill="#3a96b2" fill-opacity="1"/>
<rect x="317.75" y="252.90" width="0.96" height="16.5" fill="#3a86b8" fill-opacity="0.7332540880150492"/>
<rect x="319.37" y="252.90" width="0.47" height="16.5" fill="#3a86b8" fill-opacity="0.9150904680252864"/>
<rect x="320.34" y="252.90" width="0.35" height="16.5" fill="#3a86b8" fill-opacity="0.8206273737935814"/>
<rect x="321.67" y="252.90" width="0.72" height="16.5" fill="#3a86b8" fill-opacity="0.8053459035731508"/>
<rect x="322.69" y="252.90" width="0.75" height="16.5" fill="#35aaa6" fill-opacity="0.7411483856327333"/>
<rect x="324.02" y="252.90" width="0.76" height="16.5" fill="#3a86b8" fill-opacity="0.9766182216704958"/>
<rect x="326.88" y="252.90" width="0.40" height="16.5" fill="#8a8490" fill-opacity="0.6468283747228253"/>
<rect x="327.98" y="252.90" width="0.68" height="16.5" fill="#35aaa6" fill-opacity="0.6656107055198374"/>
<rect x="329.39" y="252.90" width="0.65" height="16.5" fill="#3a86b8" fill-opacity="0.7614873932459709"/>
<rect x="330.45" y="252.90" width="0.39" height="16.5" fill="#8a8490" fill-opacity="0.8007185287465048"/>
<rect x="332.93" y="252.90" width="0.85" height="16.5" fill="#7a80a8" fill-opacity="0.6917047831029904"/>
<rect x="334.73" y="252.90" width="0.41" height="16.5" fill="#3a86b8" fill-opacity="0.7573069918878119"/>
<rect x="336.65" y="252.90" width="0.70" height="16.5" fill="#35aaa6" fill-opacity="0.9136051372079402"/>
<rect x="338.26" y="252.90" width="0.34" height="16.5" fill="#35aaa6" fill-opacity="0.9931807252707342"/>
<rect x="338.85" y="252.90" width="0.73" height="16.5" fill="#7a80a8" fill-opacity="0.7368287714839068"/>
<rect x="341.42" y="252.90" width="0.96" height="16.5" fill="#35aaa6" fill-opacity="0.6352193379062806"/>
<rect x="342.83" y="252.90" width="0.81" height="16.5" fill="#3a86b8" fill-opacity="0.737727724820902"/>
<rect x="343.98" y="252.90" width="0.44" height="16.5" fill="#3a86b8" fill-opacity="0.9903910668697595"/>
<rect x="345.62" y="252.90" width="0.85" height="16.5" fill="#35aaa6" fill-opacity="0.9117040852606348"/>
<rect x="347.58" y="252.90" width="0.83" height="16.5" fill="#3a86b8" fill-opacity="0.8500622452805178"/>
<rect x="349.45" y="252.90" width="0.85" height="16.5" fill="#7a80a8" fill-opacity="0.739679794260196"/>
<rect x="350.66" y="252.90" width="0.98" height="16.5" fill="#7a80a8" fill-opacity="0.6539765365699107"/>
<rect x="357.83" y="252.90" width="0.91" height="16.5" fill="#5aa890" fill-opacity="0.8126684983229648"/>
<rect x="362.16" y="252.90" width="0.44" height="16.5" fill="#3a86b8" fill-opacity="0.797048272416007"/>
<rect x="363.71" y="252.90" width="0.78" height="16.5" fill="#35aaa6" fill-opacity="0.9135366660201985"/>
<rect x="367.29" y="252.90" width="0.58" height="16.5" fill="#35aaa6" fill-opacity="0.9345028692239508"/>
<rect x="370.12" y="252.90" width="0.30" height="16.5" fill="#3a86b8" fill-opacity="0.6442388590520711"/>
<rect x="371.44" y="252.90" width="0.59" height="16.5" fill="#35aaa6" fill-opacity="0.7341669188302887"/>
<rect x="373.81" y="252.90" width="0.50" height="16.5" fill="#3a86b8" fill-opacity="0.8804706749008757"/>
<rect x="376.04" y="252.90" width="0.78" height="16.5" fill="#7a80a8" fill-opacity="0.6736424159695799"/>
<rect x="377.29" y="252.90" width="0.97" height="16.5" fill="#3a86b8" fill-opacity="0.9559424543853159"/>
<rect x="379.07" y="252.90" width="0.93" height="16.5" fill="#35aaa6" fill-opacity="0.9823134925252448"/>
<rect x="380.70" y="252.90" width="0.99" height="16.5" fill="#7a80a8" fill-opacity="0.664885525080371"/>
<rect x="382.42" y="252.90" width="0.30" height="16.5" fill="#5aa890" fill-opacity="0.7818282978691453"/>
<rect x="383.73" y="252.90" width="0.48" height="16.5" fill="#3a86b8" fill-opacity="0.821070688171898"/>
<rect x="385.27" y="252.90" width="0.66" height="16.5" fill="#5aa890" fill-opacity="0.9575203277270234"/>
<rect x="386.80" y="252.90" width="0.35" height="16.5" fill="#35aaa6" fill-opacity="0.9831378260130712"/>
<rect x="387.71" y="252.90" width="0.76" height="16.5" fill="#35aaa6" fill-opacity="0.808872523333657"/>
<rect x="389.35" y="252.90" width="0.94" height="16.5" fill="#35aaa6" fill-opacity="0.9904794008075992"/>
<rect x="390.54" y="252.90" width="0.88" height="16.5" fill="#35aaa6" fill-opacity="0.7790934542153698"/>
<rect x="392.38" y="252.90" width="0.92" height="16.5" fill="#7a80a8" fill-opacity="0.6140428809768771"/>
<rect x="395.31" y="252.90" width="0.40" height="16.5" fill="#35aaa6" fill-opacity="0.6186689406564997"/>
<rect x="396.31" y="252.90" width="0.82" height="16.5" fill="#3a86b8" fill-opacity="0.9049808777622536"/>
<rect x="397.62" y="252.90" width="0.68" height="16.5" fill="#a08a80" fill-opacity="0.8595195117125487"/>
<rect x="399.31" y="252.90" width="0.77" height="16.5" fill="#5aa890" fill-opacity="0.8838796566731955"/>
<rect x="400.97" y="252.90" width="0.49" height="16.5" fill="#35aaa6" fill-opacity="0.9303500504741792"/>
<rect x="402.46" y="252.90" width="0.54" height="16.5" fill="#35aaa6" fill-opacity="0.9509575189997149"/>
<rect x="403.37" y="252.90" width="0.82" height="16.5" fill="#3a86b8" fill-opacity="0.6213984864570895"/>
<rect x="406.41" y="252.90" width="0.43" height="16.5" fill="#5aa890" fill-opacity="0.6789404529950492"/>
<rect x="407.36" y="252.90" width="0.61" height="16.5" fill="#3a86b8" fill-opacity="0.7575884143102943"/>
<rect x="408.55" y="252.90" width="0.97" height="16.5" fill="#3a86b8" fill-opacity="0.9635103721104076"/>
<rect x="410.18" y="252.90" width="0.89" height="16.5" fill="#7a80a8" fill-opacity="0.7259025545237869"/>
<rect x="411.42" y="252.90" width="0.83" height="16.5" fill="#35aaa6" fill-opacity="0.8682419729582169"/>
<rect x="413.20" y="252.90" width="0.49" height="16.5" fill="#5aa890" fill-opacity="0.8117373311846872"/>
<rect x="414.18" y="252.90" width="0.74" height="16.5" fill="#7a80a8" fill-opacity="0.6165320561295652"/>
<rect x="415.95" y="252.90" width="0.70" height="16.5" fill="#5aa890" fill-opacity="0.7062087058439459"/>
<rect x="417.09" y="252.90" width="0.35" height="16.5" fill="#7a80a8" fill-opacity="0.8712267632136195"/>
<rect x="418.05" y="252.90" width="0.87" height="16.5" fill="#3a86b8" fill-opacity="0.8579089319003179"/>
<rect x="420.08" y="252.90" width="0.74" height="16.5" fill="#7a80a8" fill-opacity="0.7577991033840623"/>
<rect x="421.97" y="252.90" width="0.82" height="16.5" fill="#35aaa6" fill-opacity="0.922293005397419"/>
<rect x="424.50" y="252.90" width="0.66" height="16.5" fill="#8a8490" fill-opacity="0.6534259474666506"/>
<rect x="425.70" y="252.90" width="0.35" height="16.5" fill="#35aaa6" fill-opacity="0.9407738076860844"/>
<rect x="426.92" y="252.90" width="0.70" height="16.5" fill="#35aaa6" fill-opacity="0.709525083855418"/>
<rect x="433.21" y="252.90" width="0.87" height="16.5" fill="#8a8490" fill-opacity="0.6525115211232145"/>
<rect x="434.99" y="252.90" width="0.79" height="16.5" fill="#3a86b8" fill-opacity="0.6269247256860866"/>
<rect x="436.59" y="252.90" width="0.88" height="16.5" fill="#3a86b8" fill-opacity="0.6895467379964948"/>
<rect x="439.53" y="252.90" width="0.55" height="16.5" fill="#3a86b8" fill-opacity="0.935438150030108"/>
<rect x="440.61" y="252.90" width="0.30" height="16.5" fill="#3a86b8" fill-opacity="0.7100243136387185"/>
<rect x="441.17" y="252.90" width="0.61" height="16.5" fill="#7a80a8" fill-opacity="0.6158421353634086"/>
<rect x="442.81" y="252.90" width="0.38" height="16.5" fill="#35aaa6" fill-opacity="0.7360404698989347"/>
<rect x="443.72" y="252.90" width="0.70" height="16.5" fill="#7a80a8" fill-opacity="0.6835931786349672"/>
<rect x="445.46" y="252.90" width="0.87" height="16.5" fill="#3a86b8" fill-opacity="0.9112357800395441"/>
<rect x="446.55" y="252.90" width="0.65" height="16.5" fill="#3a86b8" fill-opacity="0.8520040401033565"/>
<rect x="448.13" y="252.90" width="0.71" height="16.5" fill="#35aaa6" fill-opacity="0.8355018449098708"/>
<rect x="451.17" y="252.90" width="0.97" height="16.5" fill="#a08a80" fill-opacity="0.6285527814679578"/>
<rect x="452.83" y="252.90" width="0.39" height="16.5" fill="#7a80a8" fill-opacity="0.883364697151422"/>
<rect x="453.87" y="252.90" width="0.54" height="16.5" fill="#35aaa6" fill-opacity="0.7130325280414705"/>
<rect x="454.81" y="252.90" width="0.82" height="16.5" fill="#35aaa6" fill-opacity="0.6790815704770021"/>
<rect x="456.53" y="252.90" width="0.44" height="16.5" fill="#35aaa6" fill-opacity="0.8804909313857281"/>
<rect x="460.08" y="252.90" width="0.81" height="16.5" fill="#3a86b8" fill-opacity="0.6822564644155348"/>
<rect x="461.10" y="252.90" width="0.90" height="16.5" fill="#35aaa6" fill-opacity="0.705516530745487"/>
<rect x="462.56" y="252.90" width="0.41" height="16.5" fill="#a08a80" fill-opacity="0.7222990188159353"/>
<rect x="463.22" y="252.90" width="0.42" height="16.5" fill="#8a8490" fill-opacity="0.9217938593422687"/>
<rect x="464.30" y="252.90" width="0.37" height="16.5" fill="#3a86b8" fill-opacity="0.910988223207779"/>
<rect x="468.29" y="252.90" width="0.38" height="16.5" fill="#35aaa6" fill-opacity="0.683715645533252"/>
<rect x="471.94" y="252.90" width="0.81" height="16.5" fill="#7a80a8" fill-opacity="0.9365491939684126"/>
<rect x="473.09" y="252.90" width="0.31" height="16.5" fill="#35aaa6" fill-opacity="0.7515628428089715"/>
<rect x="476.21" y="252.90" width="0.35" height="16.5" fill="#35aaa6" fill-opacity="0.9541254742794134"/>
<rect x="477.25" y="252.90" width="0.75" height="16.5" fill="#3a86b8" fill-opacity="0.9623181919890369"/>
<rect x="478.58" y="252.90" width="0.37" height="16.5" fill="#3a86b8" fill-opacity="0.6799620879889633"/>
<rect x="479.61" y="252.90" width="0.71" height="16.5" fill="#7a80a8" fill-opacity="0.7758517586043204"/>
<rect x="480.58" y="252.90" width="0.81" height="16.5" fill="#35aaa6" fill-opacity="0.7600864251014676"/>
<rect x="482.26" y="252.90" width="0.80" height="16.5" fill="#35aaa6" fill-opacity="0.8768128629941476"/>
<rect x="484.93" y="252.90" width="0.34" height="16.5" fill="#a08a80" fill-opacity="0.6914876520779725"/>
<rect x="487.56" y="252.90" width="0.82" height="16.5" fill="#3a86b8" fill-opacity="0.9904601371292258"/>
<rect x="489.38" y="252.90" width="0.33" height="16.5" fill="#3a86b8" fill-opacity="0.9722737758143665"/>
<rect x="491.73" y="252.90" width="0.94" height="16.5" fill="#3a86b8" fill-opacity="0.607288853761097"/>
<rect x="495.71" y="252.90" width="0.66" height="16.5" fill="#7a80a8" fill-opacity="0.955866355841221"/>
<rect x="498.54" y="252.90" width="0.87" height="16.5" fill="#35aaa6" fill-opacity="0.8378241324180937"/>
<rect x="500.42" y="252.90" width="0.35" height="16.5" fill="#35aaa6" fill-opacity="0.7163860453876303"/>
<rect x="501.37" y="252.90" width="0.31" height="16.5" fill="#3a86b8" fill-opacity="0.9318652495950716"/>
<rect x="502.69" y="252.90" width="0.62" height="16.5" fill="#35aaa6" fill-opacity="0.6828540404788535"/>
<rect x="505.06" y="252.90" width="0.55" height="16.5" fill="#7a80a8" fill-opacity="0.9398919429819541"/>
<rect x="506.65" y="252.90" width="0.37" height="16.5" fill="#3a86b8" fill-opacity="0.9049682596198306"/>
<rect x="509.07" y="252.90" width="0.30" height="16.5" fill="#3a86b8" fill-opacity="0.8769850127916483"/>
<rect x="510.17" y="252.90" width="0.63" height="16.5" fill="#35aaa6" fill-opacity="0.8444082247451301"/>
<rect x="315.80" y="273.26" width="101.20" height="16.5" fill="#3a8fb8" fill-opacity="1"/>
<rect x="324.84" y="273.26" width="0.53" height="16.5" fill="#3a8fb8" fill-opacity="0.992349770506275"/>
<rect x="337.48" y="273.26" width="0.98" height="16.5" fill="#3a8fb8" fill-opacity="0.8599761476024639"/>
<rect x="342.34" y="273.26" width="0.45" height="16.5" fill="#4a9cc0" fill-opacity="0.6054527780839659"/>
<rect x="347.19" y="273.26" width="0.48" height="16.5" fill="#3aaba2" fill-opacity="0.6836863209043068"/>
<rect x="351.55" y="273.26" width="0.51" height="16.5" fill="#3a8fb8" fill-opacity="0.6058149250550537"/>
<rect x="352.63" y="273.26" width="0.40" height="16.5" fill="#3a8fb8" fill-opacity="0.9878171727367475"/>
<rect x="358.38" y="273.26" width="0.88" height="16.5" fill="#4a9cc0" fill-opacity="0.6905023399191359"/>
<rect x="361.66" y="273.26" width="0.31" height="16.5" fill="#4a9cc0" fill-opacity="0.6632142418099644"/>
<rect x="363.92" y="273.26" width="0.40" height="16.5" fill="#4a9cc0" fill-opacity="0.7532047130284903"/>
<rect x="365.17" y="273.26" width="0.70" height="16.5" fill="#3a8fb8" fill-opacity="0.6059272565493784"/>
<rect x="367.87" y="273.26" width="0.81" height="16.5" fill="#4a9cc0" fill-opacity="0.7006583969905447"/>
<rect x="369.25" y="273.26" width="0.67" height="16.5" fill="#3a8fb8" fill-opacity="0.9183862601692213"/>
<rect x="371.39" y="273.26" width="0.44" height="16.5" fill="#3a8fb8" fill-opacity="0.7461397893454882"/>
<rect x="384.37" y="273.26" width="0.47" height="16.5" fill="#4a9cc0" fill-opacity="0.6849537941858164"/>
<rect x="386.26" y="273.26" width="0.81" height="16.5" fill="#3a8fb8" fill-opacity="0.7271277132568698"/>
<rect x="392.21" y="273.26" width="0.68" height="16.5" fill="#3a8fb8" fill-opacity="0.8419713829138835"/>
<rect x="396.67" y="273.26" width="0.93" height="16.5" fill="#3a8fb8" fill-opacity="0.8391828848674417"/>
<rect x="398.71" y="273.26" width="0.36" height="16.5" fill="#3a8fb8" fill-opacity="0.7756062030060717"/>
<rect x="411.07" y="273.26" width="0.56" height="16.5" fill="#4a9cc0" fill-opacity="0.600063151582512"/>
<rect x="413.68" y="273.26" width="0.80" height="16.5" fill="#3a8fb8" fill-opacity="0.6482143410262199"/>
<rect x="415.64" y="273.26" width="0.40" height="16.5" fill="#3a8fb8" fill-opacity="0.8325651744640421"/>
<rect x="315.80" y="293.62" width="21.70" height="16.5" fill="#3a98ae" fill-opacity="1"/>
<rect x="315.80" y="293.62" width="0.34" height="16.5" fill="#3a86b8" fill-opacity="0.8342354977709205"/>
<rect x="319.61" y="293.62" width="0.96" height="16.5" fill="#3a86b8" fill-opacity="0.9659103775608541"/>
<rect x="320.87" y="293.62" width="0.31" height="16.5" fill="#3a86b8" fill-opacity="0.9867574011539658"/>
<rect x="322.26" y="293.62" width="0.59" height="16.5" fill="#7a7ca0" fill-opacity="0.9228188981507233"/>
<rect x="323.71" y="293.62" width="0.66" height="16.5" fill="#3a86b8" fill-opacity="0.8632489577842253"/>
<rect x="327.17" y="293.62" width="0.43" height="16.5" fill="#7a7ca0" fill-opacity="0.8281260144173895"/>
<rect x="327.99" y="293.62" width="0.78" height="16.5" fill="#3a86b8" fill-opacity="0.7465072600731311"/>
<rect x="329.50" y="293.62" width="0.77" height="16.5" fill="#7a7ca0" fill-opacity="0.8497002592157902"/>
<rect x="331.92" y="293.62" width="0.63" height="16.5" fill="#7a7ca0" fill-opacity="0.8590070601992701"/>
<rect x="337.04" y="293.62" width="0.46" height="16.5" fill="#35aaa6" fill-opacity="0.8653345241974024"/>
<rect x="417.40" y="293.62" width="53.50" height="16.5" fill="#3a98ae" fill-opacity="1"/>
<rect x="417.40" y="293.62" width="0.39" height="16.5" fill="#3a86b8" fill-opacity="0.7064112368616372"/>
<rect x="418.02" y="293.62" width="0.40" height="16.5" fill="#35aaa6" fill-opacity="0.6311175330566533"/>
<rect x="419.20" y="293.62" width="0.96" height="16.5" fill="#35aaa6" fill-opacity="0.8817742221308349"/>
<rect x="420.80" y="293.62" width="0.42" height="16.5" fill="#3a86b8" fill-opacity="0.8703851335675643"/>
<rect x="423.11" y="293.62" width="0.88" height="16.5" fill="#35aaa6" fill-opacity="0.8819579201703474"/>
<rect x="429.06" y="293.62" width="0.44" height="16.5" fill="#35aaa6" fill-opacity="0.8902487503309775"/>
<rect x="429.97" y="293.62" width="0.35" height="16.5" fill="#3a86b8" fill-opacity="0.8783544905451552"/>
<rect x="430.53" y="293.62" width="0.46" height="16.5" fill="#7a7ca0" fill-opacity="0.9948831595074057"/>
<rect x="432.76" y="293.62" width="0.40" height="16.5" fill="#35aaa6" fill-opacity="0.7280637123935504"/>
<rect x="433.78" y="293.62" width="0.64" height="16.5" fill="#3a86b8" fill-opacity="0.6335709877729032"/>
<rect x="434.78" y="293.62" width="0.36" height="16.5" fill="#35aaa6" fill-opacity="0.7051801715247781"/>
<rect x="436.13" y="293.62" width="0.81" height="16.5" fill="#35aaa6" fill-opacity="0.6753573823129411"/>
<rect x="438.07" y="293.62" width="0.69" height="16.5" fill="#3a86b8" fill-opacity="0.8770529908621859"/>
<rect x="439.35" y="293.62" width="0.80" height="16.5" fill="#7a7ca0" fill-opacity="0.9207976861967229"/>
<rect x="440.44" y="293.62" width="0.71" height="16.5" fill="#7a7ca0" fill-opacity="0.9216047420157074"/>
<rect x="442.15" y="293.62" width="0.46" height="16.5" fill="#35aaa6" fill-opacity="0.8260111911161888"/>
<rect x="442.95" y="293.62" width="0.43" height="16.5" fill="#3a86b8" fill-opacity="0.8535842730322913"/>
<rect x="443.82" y="293.62" width="0.48" height="16.5" fill="#35aaa6" fill-opacity="0.8897713871511268"/>
<rect x="444.53" y="293.62" width="0.81" height="16.5" fill="#3a86b8" fill-opacity="0.8559173247750869"/>
<rect x="447.37" y="293.62" width="0.52" height="16.5" fill="#3a86b8" fill-opacity="0.6629383804262291"/>
<rect x="451.55" y="293.62" width="0.52" height="16.5" fill="#3a86b8" fill-opacity="0.8436848947867804"/>
<rect x="452.36" y="293.62" width="0.33" height="16.5" fill="#3a86b8" fill-opacity="0.9726663369817676"/>
<rect x="453.77" y="293.62" width="0.62" height="16.5" fill="#3a86b8" fill-opacity="0.8027193448494775"/>
<rect x="455.11" y="293.62" width="0.55" height="16.5" fill="#35aaa6" fill-opacity="0.9101712199298712"/>
<rect x="455.97" y="293.62" width="0.35" height="16.5" fill="#35aaa6" fill-opacity="0.7010405475006316"/>
<rect x="457.19" y="293.62" width="0.46" height="16.5" fill="#35aaa6" fill-opacity="0.8849343640160461"/>
<rect x="458.62" y="293.62" width="0.56" height="16.5" fill="#7a7ca0" fill-opacity="0.9735673287948261"/>
<rect x="460.00" y="293.62" width="0.37" height="16.5" fill="#35aaa6" fill-opacity="0.7114363257081809"/>
<rect x="461.92" y="293.62" width="0.63" height="16.5" fill="#3a86b8" fill-opacity="0.6274159784687224"/>
<rect x="463.50" y="293.62" width="0.84" height="16.5" fill="#3a86b8" fill-opacity="0.7575445702595913"/>
<rect x="464.63" y="293.62" width="0.97" height="16.5" fill="#3a86b8" fill-opacity="0.907170148701447"/>
<rect x="465.94" y="293.62" width="0.37" height="16.5" fill="#3a86b8" fill-opacity="0.8127421963324126"/>
<rect x="467.35" y="293.62" width="0.42" height="16.5" fill="#7a7ca0" fill-opacity="0.7703138342735308"/>
<rect x="468.31" y="293.62" width="0.39" height="16.5" fill="#7a7ca0" fill-opacity="0.6467924567809281"/>
<rect x="315.80" y="313.98" width="3.10" height="16.5" fill="#7a7a8c" fill-opacity="1"/>
<rect x="317.23" y="313.98" width="0.50" height="16.5" fill="#c06a6a" fill-opacity="0.8935970747095139"/>
<rect x="318.81" y="313.98" width="0.09" height="16.5" fill="#7a7ca0" fill-opacity="0.7020629093433082"/>
<rect x="338.10" y="313.98" width="25.40" height="16.5" fill="#36aaa2" fill-opacity="1"/>
<rect x="338.10" y="313.98" width="0.99" height="16.5" fill="#7a7ca0" fill-opacity="0.7284954616828047"/>
<rect x="339.47" y="313.98" width="0.82" height="16.5" fill="#3a96b0" fill-opacity="0.7673675747405941"/>
<rect x="341.31" y="313.98" width="0.90" height="16.5" fill="#3a96b0" fill-opacity="0.9053704865405954"/>
<rect x="345.84" y="313.98" width="0.56" height="16.5" fill="#35aaa6" fill-opacity="0.7512972065328327"/>
<rect x="352.90" y="313.98" width="0.87" height="16.5" fill="#35aaa6" fill-opacity="0.7522683275848425"/>
<rect x="354.81" y="313.98" width="0.39" height="16.5" fill="#35aaa6" fill-opacity="0.9282440187181538"/>
<rect x="359.06" y="313.98" width="0.77" height="16.5" fill="#3a96b0" fill-opacity="0.9480620051701061"/>
<rect x="360.58" y="313.98" width="0.62" height="16.5" fill="#7a7ca0" fill-opacity="0.9128945909407838"/>
<rect x="362.27" y="313.98" width="0.45" height="16.5" fill="#3a96b0" fill-opacity="0.6401589993189211"/>
<rect x="417.40" y="313.98" width="8.50" height="16.5" fill="#3aa2a2" fill-opacity="1"/>
<rect x="417.40" y="313.98" width="0.35" height="16.5" fill="#35aaa6" fill-opacity="0.6793761189577174"/>
<rect x="420.15" y="313.98" width="0.52" height="16.5" fill="#35aaa6" fill-opacity="0.788189513440505"/>
<rect x="421.76" y="313.98" width="0.81" height="16.5" fill="#35aaa6" fill-opacity="0.829307257874422"/>
<rect x="424.31" y="313.98" width="0.64" height="16.5" fill="#35aaa6" fill-opacity="0.8662144399496656"/>
<rect x="425.36" y="313.98" width="0.54" height="16.5" fill="#c06a6a" fill-opacity="0.8783618565297331"/>
<rect x="471.30" y="313.98" width="6.40" height="16.5" fill="#6a8a92" fill-opacity="1"/>
<rect x="471.30" y="313.98" width="0.94" height="16.5" fill="#35aaa6" fill-opacity="0.7729450107325149"/>
<rect x="473.16" y="313.98" width="0.60" height="16.5" fill="#35aaa6" fill-opacity="0.9281647071695234"/>
<rect x="474.75" y="313.98" width="0.55" height="16.5" fill="#35aaa6" fill-opacity="0.9206896426015546"/>
<rect x="477.27" y="313.98" width="0.43" height="16.5" fill="#c06a6a" fill-opacity="0.6806895593621157"/>
<rect x="315.30" y="334.34" width="1.50" height="16.5" fill="#7ac8c8" fill-opacity="1"/>
<rect x="319.10" y="334.34" width="1.90" height="16.5" fill="#3a8fb8" fill-opacity="1"/>
<rect x="338.10" y="334.34" width="5.30" height="16.5" fill="#3a8fb8" fill-opacity="1"/>
<rect x="364.00" y="334.34" width="3.80" height="16.5" fill="#3a8fb8" fill-opacity="1"/>
<rect x="417.40" y="334.34" width="4.20" height="16.5" fill="#3aa2b0" fill-opacity="1"/>
<rect x="426.50" y="334.34" width="7.80" height="16.5" fill="#3a8fb8" fill-opacity="1"/>
<rect x="470.90" y="334.34" width="3.00" height="16.5" fill="#3aaba2" fill-opacity="1"/>
<rect x="477.70" y="334.34" width="1.30" height="16.5" fill="#3a8fb8" fill-opacity="1"/>
<rect x="315.50" y="354.70" width="4.00" height="16.5" fill="#d6e8ea" fill-opacity="1"/>
<rect x="321.20" y="354.70" width="1.50" height="16.5" fill="#3a8fb8" fill-opacity="1"/>
<rect x="338.00" y="354.70" width="0.60" height="16.5" fill="#c2e2e2" fill-opacity="1"/>
<rect x="343.80" y="354.70" width="1.50" height="16.5" fill="#5a9a98" fill-opacity="1"/>
<rect x="364.50" y="354.70" width="0.60" height="16.5" fill="#c2e2e2" fill-opacity="1"/>
<rect x="367.80" y="354.70" width="4.60" height="16.5" fill="#3a8fb8" fill-opacity="1"/>
<rect x="417.40" y="354.70" width="1.10" height="16.5" fill="#3a8fb8" fill-opacity="1"/>
<rect x="421.00" y="354.70" width="1.70" height="16.5" fill="#3a8fb8" fill-opacity="1"/>
<rect x="426.30" y="354.70" width="1.70" height="16.5" fill="#3a8fb8" fill-opacity="1"/>
<rect x="434.30" y="354.70" width="10.20" height="16.5" fill="#3a8fb8" fill-opacity="1"/>
<rect x="471.00" y="354.70" width="1.00" height="16.5" fill="#3a8fb8" fill-opacity="1"/>
<rect x="473.50" y="354.70" width="1.00" height="16.5" fill="#c2e2e2" fill-opacity="1"/>
<rect x="478.80" y="354.70" width="3.20" height="16.5" fill="#3a8fb8" fill-opacity="1"/>
<rect x="321.00" y="375.06" width="0.50" height="16.5" fill="#cfe0e0" fill-opacity="1"/>
<rect x="338.00" y="375.06" width="0.50" height="16.5" fill="#cfe0e0" fill-opacity="1"/>
<rect x="372.40" y="375.06" width="0.50" height="16.5" fill="#cfe0e0" fill-opacity="1"/>
<rect x="418.00" y="375.06" width="0.60" height="16.5" fill="#cfe0e0" fill-opacity="1"/>
<rect x="421.60" y="375.06" width="0.60" height="16.5" fill="#cfe0e0" fill-opacity="1"/>
<rect x="426.50" y="375.06" width="0.50" height="16.5" fill="#cfe0e0" fill-opacity="1"/>
<rect x="429.00" y="375.06" width="0.50" height="16.5" fill="#cfe0e0" fill-opacity="1"/>
<rect x="434.30" y="375.06" width="1.10" height="16.5" fill="#3aaba2" fill-opacity="1"/>
<rect x="444.90" y="375.06" width="1.50" height="16.5" fill="#7a7088" fill-opacity="1"/>
<rect x="480.00" y="375.06" width="0.60" height="16.5" fill="#cfe0e0" fill-opacity="1"/>
<rect x="483.00" y="375.06" width="0.60" height="16.5" fill="#cfe0e0" fill-opacity="1"/>
<rect x="315.30" y="395.42" width="1.50" height="16.5" fill="#c8dede" fill-opacity="1"/>
<rect x="323.10" y="395.42" width="2.30" height="16.5" fill="#2a8a82" fill-opacity="1"/>
<rect x="338.00" y="395.42" width="0.60" height="16.5" fill="#c2e2e2" fill-opacity="1"/>
<rect x="345.00" y="395.42" width="1.40" height="16.5" fill="#c2e2e2" fill-opacity="1"/>
<rect x="367.00" y="395.42" width="0.60" height="16.5" fill="#c2e2e2" fill-opacity="1"/>
<rect x="373.00" y="395.42" width="2.80" height="16.5" fill="#2a8a82" fill-opacity="1"/>
<rect x="418.00" y="395.42" width="1.50" height="16.5" fill="#6a8a9a" fill-opacity="1"/>
<rect x="421.60" y="395.42" width="1.40" height="16.5" fill="#c2e2e2" fill-opacity="1"/>
<rect x="426.50" y="395.42" width="1.50" height="16.5" fill="#3aaba2" fill-opacity="1"/>
<rect x="429.00" y="395.42" width="1.50" height="16.5" fill="#3a8fb8" fill-opacity="1"/>
<rect x="435.00" y="395.42" width="1.00" height="16.5" fill="#3aaba2" fill-opacity="1"/>
<rect x="436.00" y="395.42" width="1.00" height="16.5" fill="#c86a60" fill-opacity="1"/>
<rect x="445.00" y="395.42" width="0.60" height="16.5" fill="#c2e2e2" fill-opacity="1"/>
<rect x="447.00" y="395.42" width="4.30" height="16.5" fill="#3a9a98" fill-opacity="1"/>
<rect x="471.30" y="395.42" width="0.60" height="16.5" fill="#c2e2e2" fill-opacity="1"/>
<rect x="474.00" y="395.42" width="1.00" height="16.5" fill="#8a8488" fill-opacity="1"/>
<rect x="478.00" y="395.42" width="2.00" height="16.5" fill="#c0b8c0" fill-opacity="1"/>
<rect x="483.00" y="395.42" width="3.00" height="16.5" fill="#8a8088" fill-opacity="1"/>
<rect x="317.40" y="415.78" width="0.60" height="16.5" fill="#c2e2e2" fill-opacity="1"/>
<rect x="321.60" y="415.78" width="0.60" height="16.5" fill="#c2e2e2" fill-opacity="1"/>
<rect x="323.70" y="415.78" width="0.70" height="16.5" fill="#9ad0c8" fill-opacity="1"/>
<rect x="325.90" y="415.78" width="1.40" height="16.5" fill="#2a8a82" fill-opacity="1"/>
<rect x="338.00" y="415.78" width="0.60" height="16.5" fill="#c2e2e2" fill-opacity="1"/>
<rect x="346.00" y="415.78" width="1.00" height="16.5" fill="#3aaba2" fill-opacity="1"/>
<rect x="364.00" y="415.78" width="1.00" height="16.5" fill="#9ad0c8" fill-opacity="1"/>
<rect x="368.00" y="415.78" width="0.60" height="16.5" fill="#c2e2e2" fill-opacity="1"/>
<rect x="372.40" y="415.78" width="1.10" height="16.5" fill="#c2e2e2" fill-opacity="1"/>
<rect x="376.00" y="415.78" width="3.80" height="16.5" fill="#3aa888" fill-opacity="1"/>
<rect x="418.50" y="415.78" width="1.00" height="16.5" fill="#9ac8d8" fill-opacity="1"/>
<rect x="421.60" y="415.78" width="1.40" height="16.5" fill="#c2e2e2" fill-opacity="1"/>
<rect x="423.80" y="415.78" width="1.00" height="16.5" fill="#c2e2e2" fill-opacity="1"/>
<rect x="427.00" y="415.78" width="1.00" height="16.5" fill="#3aaba2" fill-opacity="1"/>
<rect x="429.00" y="415.78" width="1.00" height="16.5" fill="#c2e2e2" fill-opacity="1"/>
<rect x="435.00" y="415.78" width="1.40" height="16.5" fill="#5aa8b8" fill-opacity="1"/>
<rect x="437.50" y="415.78" width="1.00" height="16.5" fill="#c2e2e2" fill-opacity="1"/>
<rect x="447.00" y="415.78" width="1.00" height="16.5" fill="#3aaba2" fill-opacity="1"/>
<rect x="451.90" y="415.78" width="2.90" height="16.5" fill="#2a8a82" fill-opacity="1"/>
<rect x="471.30" y="415.78" width="1.10" height="16.5" fill="#8ac0d0" fill-opacity="1"/>
<rect x="474.50" y="415.78" width="0.50" height="16.5" fill="#c2e2e2" fill-opacity="1"/>
<rect x="482.00" y="415.78" width="1.00" height="16.5" fill="#3aaba2" fill-opacity="1"/>
<rect x="485.70" y="415.78" width="1.10" height="16.5" fill="#5ab0a8" fill-opacity="1"/>
<rect x="317.40" y="436.14" width="0.60" height="16.5" fill="#c2e2e2" fill-opacity="1"/>
<rect x="322.70" y="436.14" width="0.60" height="16.5" fill="#c2e2e2" fill-opacity="1"/>
<rect x="327.00" y="436.14" width="0.60" height="16.5" fill="#c2e2e2" fill-opacity="1"/>
<rect x="347.00" y="436.14" width="1.00" height="16.5" fill="#2a8a82" fill-opacity="1"/>
<rect x="364.00" y="436.14" width="0.60" height="16.5" fill="#c2e2e2" fill-opacity="1"/>
<rect x="368.00" y="436.14" width="0.60" height="16.5" fill="#c2e2e2" fill-opacity="1"/>
<rect x="372.80" y="436.14" width="0.70" height="16.5" fill="#3aaba2" fill-opacity="1"/>
<rect x="379.80" y="436.14" width="1.20" height="16.5" fill="#2a8a82" fill-opacity="1"/>
<rect x="418.50" y="436.14" width="1.00" height="16.5" fill="#9ac8d8" fill-opacity="1"/>
<rect x="421.60" y="436.14" width="1.00" height="16.5" fill="#c2e2e2" fill-opacity="1"/>
<rect x="424.00" y="436.14" width="0.60" height="16.5" fill="#e0c8c8" fill-opacity="1"/>
<rect x="435.40" y="436.14" width="1.00" height="16.5" fill="#6a9aa0" fill-opacity="1"/>
<rect x="437.50" y="436.14" width="1.00" height="16.5" fill="#5a9ab8" fill-opacity="1"/>
<rect x="447.00" y="436.14" width="2.00" height="16.5" fill="#b0c8d0" fill-opacity="1"/>
<rect x="451.40" y="436.14" width="0.60" height="16.5" fill="#c2e2e2" fill-opacity="1"/>
<rect x="454.40" y="436.14" width="1.10" height="16.5" fill="#5a8a90" fill-opacity="1"/>
<rect x="480.00" y="436.14" width="2.00" height="16.5" fill="#c2e2e2" fill-opacity="1"/>
<rect x="483.00" y="436.14" width="2.00" height="16.5" fill="#a8d8d0" fill-opacity="1"/>
<rect x="486.00" y="436.14" width="2.00" height="16.5" fill="#5a8a88" fill-opacity="1"/>
<rect x="318.50" y="456.50" width="0.60" height="16.5" fill="#c2e2e2" fill-opacity="1"/>
<rect x="320.60" y="456.50" width="0.60" height="16.5" fill="#c2e2e2" fill-opacity="1"/>
<rect x="327.30" y="456.50" width="1.30" height="16.5" fill="#3aaba2" fill-opacity="1"/>
<rect x="338.00" y="456.50" width="0.60" height="16.5" fill="#c2e2e2" fill-opacity="1"/>
<rect x="347.00" y="456.50" width="1.50" height="16.5" fill="#a0d4d0" fill-opacity="1"/>
<rect x="365.60" y="456.50" width="0.60" height="16.5" fill="#c2e2e2" fill-opacity="1"/>
<rect x="368.00" y="456.50" width="0.60" height="16.5" fill="#c2e2e2" fill-opacity="1"/>
<rect x="373.50" y="456.50" width="2.10" height="16.5" fill="#a0d4d0" fill-opacity="1"/>
<rect x="382.00" y="456.50" width="1.00" height="16.5" fill="#3aaba2" fill-opacity="1"/>
<rect x="418.50" y="456.50" width="1.00" height="16.5" fill="#c2e2e2" fill-opacity="1"/>
<rect x="421.60" y="456.50" width="1.00" height="16.5" fill="#c2e2e2" fill-opacity="1"/>
<rect x="425.90" y="456.50" width="4.10" height="16.5" fill="#c8d4d8" fill-opacity="1"/>
<rect x="434.30" y="456.50" width="4.20" height="16.5" fill="#a8c0c8" fill-opacity="1"/>
<rect x="445.00" y="456.50" width="4.00" height="16.5" fill="#c8e0e0" fill-opacity="1"/>
<rect x="452.00" y="456.50" width="1.00" height="16.5" fill="#c2e2e2" fill-opacity="1"/>
<rect x="455.50" y="456.50" width="1.50" height="16.5" fill="#3aaba2" fill-opacity="1"/>
<rect x="472.40" y="456.50" width="0.60" height="16.5" fill="#c2e2e2" fill-opacity="1"/>
<rect x="478.80" y="456.50" width="0.60" height="16.5" fill="#c2e2e2" fill-opacity="1"/>
<rect x="483.00" y="456.50" width="0.60" height="16.5" fill="#e8c8c8" fill-opacity="1"/>
<rect x="488.70" y="456.50" width="0.80" height="16.5" fill="#8a8488" fill-opacity="1"/>
<rect x="316.00" y="476.86" width="1.40" height="16.5" fill="#5aa8b8" fill-opacity="1"/>
<rect x="322.70" y="476.86" width="0.60" height="16.5" fill="#c2e2e2" fill-opacity="1"/>
<rect x="338.60" y="476.86" width="1.40" height="16.5" fill="#3aaba2" fill-opacity="1"/>
<rect x="342.80" y="476.86" width="0.60" height="16.5" fill="#c2e2e2" fill-opacity="1"/>
<rect x="346.40" y="476.86" width="3.40" height="16.5" fill="#a8d8d4" fill-opacity="1"/>
<rect x="365.40" y="476.86" width="0.60" height="16.5" fill="#c2e2e2" fill-opacity="1"/>
<rect x="368.00" y="476.86" width="0.60" height="16.5" fill="#c2e2e2" fill-opacity="1"/>
<rect x="374.50" y="476.86" width="0.60" height="16.5" fill="#c2e2e2" fill-opacity="1"/>
<rect x="380.00" y="476.86" width="3.60" height="16.5" fill="#a8d8d4" fill-opacity="1"/>
<rect x="416.30" y="476.86" width="3.20" height="16.5" fill="#9ab0b8" fill-opacity="1"/>
<rect x="421.60" y="476.86" width="2.10" height="16.5" fill="#a0b0b8" fill-opacity="1"/>
<rect x="426.50" y="476.86" width="4.50" height="16.5" fill="#b8d0d8" fill-opacity="1"/>
<rect x="435.40" y="476.86" width="1.60" height="16.5" fill="#a09098" fill-opacity="1"/>
<rect x="445.00" y="476.86" width="4.00" height="16.5" fill="#b0d8d8" fill-opacity="1"/>
<rect x="451.20" y="476.86" width="1.80" height="16.5" fill="#c2e2e2" fill-opacity="1"/>
<rect x="455.50" y="476.86" width="2.70" height="16.5" fill="#a8d8d4" fill-opacity="1"/>
<rect x="471.30" y="476.86" width="1.10" height="16.5" fill="#a0b0b8" fill-opacity="1"/>
<rect x="474.50" y="476.86" width="1.00" height="16.5" fill="#c2e2e2" fill-opacity="1"/>
<rect x="478.80" y="476.86" width="0.60" height="16.5" fill="#c2e2e2" fill-opacity="1"/>
<rect x="483.00" y="476.86" width="0.60" height="16.5" fill="#c2e2e2" fill-opacity="1"/>
<rect x="489.30" y="476.86" width="1.10" height="16.5" fill="#9aa0a8" fill-opacity="1"/>
</svg></body></html>
